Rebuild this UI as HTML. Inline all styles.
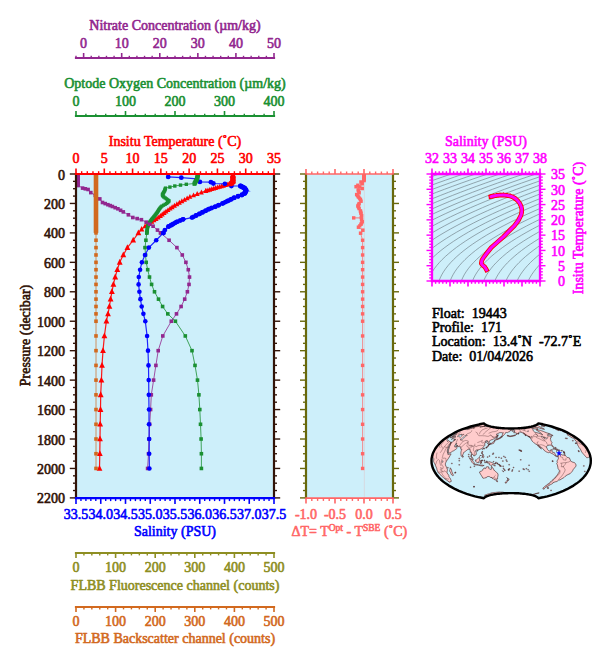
<!DOCTYPE html>
<html><head><meta charset="utf-8"><title>Float 19443 Profile 171</title>
<style>html,body{margin:0;padding:0;background:#fff;}svg{display:block;}text{font-family:"Liberation Serif",serif;stroke-width:0.6px;stroke-linejoin:round;}</style>
</head><body>
<svg width="609" height="663" viewBox="0 0 609 663" font-family="Liberation Serif, serif" font-size="14">
<rect width="609" height="663" fill="#ffffff"/>
<rect x="76.0" y="174.0" width="198.0" height="323.9" fill="#cdeffa"/>
<clipPath id="cm"><rect x="76.0" y="174.0" width="198.0" height="323.9"/></clipPath>
<g clip-path="url(#cm)">
<polyline points="232.90,174.00 232.90,181.00 231.60,183.00 229.30,184.10 222.40,186.00 214.20,188.40 206.00,190.90 197.80,193.70 189.60,197.00 181.30,201.60 173.10,206.50 166.60,211.10 160.00,216.30 156.70,218.50 152.00,221.80 147.70,224.60 144.70,226.50 141.60,229.30 138.40,232.80 138.40,232.89 133.20,240.25 127.40,247.61 123.30,254.97 119.70,262.34 117.30,269.70 115.20,277.06 113.40,284.42 111.90,291.78 110.60,299.14 109.40,306.50 108.00,313.87 106.40,321.23 104.40,335.95 103.00,350.67 102.00,365.40 101.40,380.12 100.70,394.84 100.50,409.56 100.20,424.29 100.00,439.01 99.80,453.73 99.50,468.45" fill="none" stroke="#ff0000" stroke-width="1.2" stroke-opacity="0.9" stroke-linejoin="round"/>
<path d="M226.90,186.02 L231.70,186.02 L229.30,181.22 Z" fill="#ff0000"/>
<path d="M224.95,186.56 L229.75,186.56 L227.35,181.76 Z" fill="#ff0000"/>
<path d="M223.00,187.09 L227.80,187.09 L225.40,182.29 Z" fill="#ff0000"/>
<path d="M221.05,187.63 L225.85,187.63 L223.45,182.83 Z" fill="#ff0000"/>
<path d="M219.10,188.18 L223.90,188.18 L221.50,183.38 Z" fill="#ff0000"/>
<path d="M217.16,188.75 L221.96,188.75 L219.56,183.95 Z" fill="#ff0000"/>
<path d="M215.22,189.32 L220.02,189.32 L217.62,184.52 Z" fill="#ff0000"/>
<path d="M213.28,189.89 L218.08,189.89 L215.68,185.09 Z" fill="#ff0000"/>
<path d="M211.34,190.46 L216.14,190.46 L213.74,185.66 Z" fill="#ff0000"/>
<path d="M209.40,191.05 L214.20,191.05 L211.80,186.25 Z" fill="#ff0000"/>
<path d="M207.47,191.64 L212.27,191.64 L209.87,186.84 Z" fill="#ff0000"/>
<path d="M205.53,192.23 L210.33,192.23 L207.93,187.43 Z" fill="#ff0000"/>
<path d="M203.60,192.82 L208.40,192.82 L206.00,188.02 Z" fill="#ff0000"/>
<path d="M203.26,192.96 L208.16,192.96 L205.71,188.06 Z" fill="#ff0000"/>
<path d="M198.95,194.43 L203.85,194.43 L201.40,189.53 Z" fill="#ff0000"/>
<path d="M194.75,195.90 L199.65,195.90 L197.20,191.00 Z" fill="#ff0000"/>
<path d="M191.10,197.37 L196.00,197.37 L193.55,192.47 Z" fill="#ff0000"/>
<path d="M187.45,198.84 L192.35,198.84 L189.90,193.94 Z" fill="#ff0000"/>
<path d="M184.71,200.31 L189.61,200.31 L187.16,195.41 Z" fill="#ff0000"/>
<path d="M182.06,201.78 L186.96,201.78 L184.51,196.88 Z" fill="#ff0000"/>
<path d="M179.41,203.25 L184.31,203.25 L181.86,198.35 Z" fill="#ff0000"/>
<path d="M176.91,204.72 L181.81,204.72 L179.36,199.82 Z" fill="#ff0000"/>
<path d="M174.45,206.19 L179.35,206.19 L176.90,201.29 Z" fill="#ff0000"/>
<path d="M171.99,207.66 L176.89,207.66 L174.44,202.76 Z" fill="#ff0000"/>
<path d="M169.70,209.13 L174.60,209.13 L172.15,204.23 Z" fill="#ff0000"/>
<path d="M167.63,210.60 L172.53,210.60 L170.08,205.70 Z" fill="#ff0000"/>
<path d="M165.55,212.07 L170.45,212.07 L168.00,207.17 Z" fill="#ff0000"/>
<path d="M163.54,213.54 L168.44,213.54 L165.99,208.64 Z" fill="#ff0000"/>
<path d="M161.68,215.01 L166.58,215.01 L164.13,210.11 Z" fill="#ff0000"/>
<path d="M159.81,216.48 L164.71,216.48 L162.26,211.58 Z" fill="#ff0000"/>
<path d="M157.94,217.95 L162.84,217.95 L160.39,213.05 Z" fill="#ff0000"/>
<path d="M155.81,219.42 L160.71,219.42 L158.26,214.52 Z" fill="#ff0000"/>
<path d="M153.64,220.89 L158.54,220.89 L156.09,215.99 Z" fill="#ff0000"/>
<path d="M151.54,222.36 L156.44,222.36 L153.99,217.46 Z" fill="#ff0000"/>
<path d="M149.44,223.83 L154.34,223.83 L151.89,218.93 Z" fill="#ff0000"/>
<path d="M147.19,225.30 L152.09,225.30 L149.64,220.40 Z" fill="#ff0000"/>
<path d="M144.92,226.77 L149.82,226.77 L147.37,221.87 Z" fill="#ff0000"/>
<path d="M142.60,228.24 L147.50,228.24 L145.05,223.34 Z" fill="#ff0000"/>
<path d="M138.90,231.46 L144.30,231.46 L141.60,226.06 Z" fill="#ff0000"/>
<path d="M135.50,235.21 L141.30,235.21 L138.40,229.41 Z" fill="#ff0000"/>
<path d="M130.30,242.57 L136.10,242.57 L133.20,236.77 Z" fill="#ff0000"/>
<path d="M124.50,249.93 L130.30,249.93 L127.40,244.13 Z" fill="#ff0000"/>
<path d="M120.40,257.30 L126.20,257.30 L123.30,251.50 Z" fill="#ff0000"/>
<path d="M116.80,264.66 L122.60,264.66 L119.70,258.86 Z" fill="#ff0000"/>
<path d="M114.40,272.02 L120.20,272.02 L117.30,266.22 Z" fill="#ff0000"/>
<path d="M112.30,279.38 L118.10,279.38 L115.20,273.58 Z" fill="#ff0000"/>
<path d="M110.50,286.74 L116.30,286.74 L113.40,280.94 Z" fill="#ff0000"/>
<path d="M109.00,294.10 L114.80,294.10 L111.90,288.30 Z" fill="#ff0000"/>
<path d="M107.70,301.46 L113.50,301.46 L110.60,295.66 Z" fill="#ff0000"/>
<path d="M106.50,308.82 L112.30,308.82 L109.40,303.02 Z" fill="#ff0000"/>
<path d="M105.10,316.19 L110.90,316.19 L108.00,310.39 Z" fill="#ff0000"/>
<path d="M103.50,323.55 L109.30,323.55 L106.40,317.75 Z" fill="#ff0000"/>
<path d="M101.50,338.27 L107.30,338.27 L104.40,332.47 Z" fill="#ff0000"/>
<path d="M100.10,352.99 L105.90,352.99 L103.00,347.19 Z" fill="#ff0000"/>
<path d="M99.10,367.72 L104.90,367.72 L102.00,361.92 Z" fill="#ff0000"/>
<path d="M98.50,382.44 L104.30,382.44 L101.40,376.64 Z" fill="#ff0000"/>
<path d="M97.80,397.16 L103.60,397.16 L100.70,391.36 Z" fill="#ff0000"/>
<path d="M97.60,411.88 L103.40,411.88 L100.50,406.08 Z" fill="#ff0000"/>
<path d="M97.30,426.61 L103.10,426.61 L100.20,420.81 Z" fill="#ff0000"/>
<path d="M97.10,441.33 L102.90,441.33 L100.00,435.53 Z" fill="#ff0000"/>
<path d="M96.90,456.05 L102.70,456.05 L99.80,450.25 Z" fill="#ff0000"/>
<path d="M96.60,470.77 L102.40,470.77 L99.50,464.97 Z" fill="#ff0000"/>
<polyline points="198.10,174.00 196.90,179.40 194.50,183.50 186.30,184.30 180.50,185.10 174.80,186.00 169.90,187.10 165.50,188.10 164.50,191.00 162.20,194.80 163.50,196.80 166.10,198.60 169.30,201.00 166.30,203.70 161.40,206.40 159.40,208.90 157.50,212.00 154.90,215.50 152.00,219.00 149.50,222.40 147.60,227.00 146.80,232.80 146.80,232.89 145.90,240.25 145.00,247.61 145.50,254.97 146.20,262.34 147.70,269.70 149.50,277.06 151.60,284.42 154.50,291.78 158.50,299.14 162.60,306.50 167.80,313.87 175.40,321.23 185.30,335.95 192.00,350.67 195.00,365.40 197.50,380.12 198.90,394.84 199.80,409.56 200.50,424.29 201.10,439.01 201.40,453.73 201.40,468.45" fill="none" stroke="#1a9032" stroke-width="1.0" stroke-opacity="0.8" stroke-linejoin="round"/>
<rect x="184.60" y="182.60" width="3.4" height="3.4" fill="#1a9032"/>
<rect x="178.80" y="183.40" width="3.4" height="3.4" fill="#1a9032"/>
<rect x="173.10" y="184.30" width="3.4" height="3.4" fill="#1a9032"/>
<rect x="168.20" y="185.40" width="3.4" height="3.4" fill="#1a9032"/>
<rect x="163.85" y="186.45" width="3.3" height="3.3" fill="#1a9032"/>
<rect x="163.54" y="187.35" width="3.3" height="3.3" fill="#1a9032"/>
<rect x="163.23" y="188.25" width="3.3" height="3.3" fill="#1a9032"/>
<rect x="162.92" y="189.15" width="3.3" height="3.3" fill="#1a9032"/>
<rect x="162.43" y="190.05" width="3.3" height="3.3" fill="#1a9032"/>
<rect x="161.88" y="190.95" width="3.3" height="3.3" fill="#1a9032"/>
<rect x="161.34" y="191.85" width="3.3" height="3.3" fill="#1a9032"/>
<rect x="160.79" y="192.75" width="3.3" height="3.3" fill="#1a9032"/>
<rect x="160.88" y="193.65" width="3.3" height="3.3" fill="#1a9032"/>
<rect x="161.46" y="194.55" width="3.3" height="3.3" fill="#1a9032"/>
<rect x="162.28" y="195.45" width="3.3" height="3.3" fill="#1a9032"/>
<rect x="163.58" y="196.35" width="3.3" height="3.3" fill="#1a9032"/>
<rect x="164.85" y="197.25" width="3.3" height="3.3" fill="#1a9032"/>
<rect x="166.05" y="198.15" width="3.3" height="3.3" fill="#1a9032"/>
<rect x="167.25" y="199.05" width="3.3" height="3.3" fill="#1a9032"/>
<rect x="166.98" y="199.95" width="3.3" height="3.3" fill="#1a9032"/>
<rect x="165.98" y="200.85" width="3.3" height="3.3" fill="#1a9032"/>
<rect x="164.98" y="201.75" width="3.3" height="3.3" fill="#1a9032"/>
<rect x="163.56" y="202.65" width="3.3" height="3.3" fill="#1a9032"/>
<rect x="161.93" y="203.55" width="3.3" height="3.3" fill="#1a9032"/>
<rect x="160.29" y="204.45" width="3.3" height="3.3" fill="#1a9032"/>
<rect x="159.27" y="205.35" width="3.3" height="3.3" fill="#1a9032"/>
<rect x="158.55" y="206.25" width="3.3" height="3.3" fill="#1a9032"/>
<rect x="157.83" y="207.15" width="3.3" height="3.3" fill="#1a9032"/>
<rect x="157.26" y="208.05" width="3.3" height="3.3" fill="#1a9032"/>
<rect x="156.71" y="208.95" width="3.3" height="3.3" fill="#1a9032"/>
<rect x="156.16" y="209.85" width="3.3" height="3.3" fill="#1a9032"/>
<rect x="155.55" y="210.75" width="3.3" height="3.3" fill="#1a9032"/>
<rect x="154.88" y="211.65" width="3.3" height="3.3" fill="#1a9032"/>
<rect x="154.22" y="212.55" width="3.3" height="3.3" fill="#1a9032"/>
<rect x="153.55" y="213.45" width="3.3" height="3.3" fill="#1a9032"/>
<rect x="152.84" y="214.35" width="3.3" height="3.3" fill="#1a9032"/>
<rect x="152.09" y="215.25" width="3.3" height="3.3" fill="#1a9032"/>
<rect x="151.34" y="216.15" width="3.3" height="3.3" fill="#1a9032"/>
<rect x="150.60" y="217.05" width="3.3" height="3.3" fill="#1a9032"/>
<rect x="149.91" y="217.95" width="3.3" height="3.3" fill="#1a9032"/>
<rect x="149.25" y="218.85" width="3.3" height="3.3" fill="#1a9032"/>
<rect x="148.59" y="219.75" width="3.3" height="3.3" fill="#1a9032"/>
<rect x="147.92" y="220.65" width="3.3" height="3.3" fill="#1a9032"/>
<rect x="147.52" y="221.55" width="3.3" height="3.3" fill="#1a9032"/>
<rect x="147.15" y="222.45" width="3.3" height="3.3" fill="#1a9032"/>
<rect x="146.78" y="223.35" width="3.3" height="3.3" fill="#1a9032"/>
<rect x="146.40" y="224.25" width="3.3" height="3.3" fill="#1a9032"/>
<rect x="146.03" y="225.15" width="3.3" height="3.3" fill="#1a9032"/>
<rect x="145.85" y="226.05" width="3.3" height="3.3" fill="#1a9032"/>
<rect x="145.73" y="226.95" width="3.3" height="3.3" fill="#1a9032"/>
<rect x="145.61" y="227.85" width="3.3" height="3.3" fill="#1a9032"/>
<rect x="145.48" y="228.75" width="3.3" height="3.3" fill="#1a9032"/>
<rect x="145.36" y="229.65" width="3.3" height="3.3" fill="#1a9032"/>
<rect x="145.23" y="230.55" width="3.3" height="3.3" fill="#1a9032"/>
<rect x="145.15" y="231.45" width="3.3" height="3.3" fill="#1a9032"/>
<rect x="145.00" y="231.09" width="3.6" height="3.6" fill="#1a9032"/>
<rect x="144.10" y="238.45" width="3.6" height="3.6" fill="#1a9032"/>
<rect x="143.20" y="245.81" width="3.6" height="3.6" fill="#1a9032"/>
<rect x="143.70" y="253.17" width="3.6" height="3.6" fill="#1a9032"/>
<rect x="144.40" y="260.54" width="3.6" height="3.6" fill="#1a9032"/>
<rect x="145.90" y="267.90" width="3.6" height="3.6" fill="#1a9032"/>
<rect x="147.70" y="275.26" width="3.6" height="3.6" fill="#1a9032"/>
<rect x="149.80" y="282.62" width="3.6" height="3.6" fill="#1a9032"/>
<rect x="152.70" y="289.98" width="3.6" height="3.6" fill="#1a9032"/>
<rect x="156.70" y="297.34" width="3.6" height="3.6" fill="#1a9032"/>
<rect x="160.80" y="304.70" width="3.6" height="3.6" fill="#1a9032"/>
<rect x="166.00" y="312.07" width="3.6" height="3.6" fill="#1a9032"/>
<rect x="173.60" y="319.43" width="3.6" height="3.6" fill="#1a9032"/>
<rect x="183.50" y="334.15" width="3.6" height="3.6" fill="#1a9032"/>
<rect x="190.20" y="348.87" width="3.6" height="3.6" fill="#1a9032"/>
<rect x="193.20" y="363.60" width="3.6" height="3.6" fill="#1a9032"/>
<rect x="195.70" y="378.32" width="3.6" height="3.6" fill="#1a9032"/>
<rect x="197.10" y="393.04" width="3.6" height="3.6" fill="#1a9032"/>
<rect x="198.00" y="407.76" width="3.6" height="3.6" fill="#1a9032"/>
<rect x="198.70" y="422.49" width="3.6" height="3.6" fill="#1a9032"/>
<rect x="199.30" y="437.21" width="3.6" height="3.6" fill="#1a9032"/>
<rect x="199.60" y="451.93" width="3.6" height="3.6" fill="#1a9032"/>
<rect x="199.60" y="466.65" width="3.6" height="3.6" fill="#1a9032"/>
<polyline points="78.10,174.00 78.10,185.40 82.60,188.10 88.10,189.50 90.80,192.60 95.30,195.30 99.80,198.90 102.50,202.50 107.90,204.70 112.40,206.50 117.90,208.80 123.30,211.90 128.40,214.80 132.80,217.50 141.40,219.70 146.20,222.20 149.60,224.20 153.10,226.20 157.50,230.10 160.60,232.80 160.60,232.89 169.10,240.25 176.90,247.61 182.30,254.97 185.90,262.34 188.30,269.70 189.50,277.06 189.00,284.42 187.40,291.78 184.70,299.14 181.10,306.50 176.50,313.87 171.30,321.23 162.80,335.95 158.20,350.67 155.90,365.40 153.60,380.12 151.30,394.84 150.60,409.56 149.70,424.29 149.00,439.01 148.50,453.73 147.60,468.45" fill="none" stroke="#92278f" stroke-width="1.0" stroke-opacity="0.8" stroke-linejoin="round"/>
<rect x="76.40" y="172.80" width="3.4" height="3.4" fill="#92278f"/>
<rect x="76.40" y="173.80" width="3.4" height="3.4" fill="#92278f"/>
<rect x="76.40" y="174.80" width="3.4" height="3.4" fill="#92278f"/>
<rect x="76.40" y="175.80" width="3.4" height="3.4" fill="#92278f"/>
<rect x="76.40" y="176.80" width="3.4" height="3.4" fill="#92278f"/>
<rect x="76.40" y="177.80" width="3.4" height="3.4" fill="#92278f"/>
<rect x="76.40" y="178.80" width="3.4" height="3.4" fill="#92278f"/>
<rect x="76.40" y="179.80" width="3.4" height="3.4" fill="#92278f"/>
<rect x="76.40" y="180.80" width="3.4" height="3.4" fill="#92278f"/>
<rect x="76.40" y="181.80" width="3.4" height="3.4" fill="#92278f"/>
<rect x="76.40" y="182.80" width="3.4" height="3.4" fill="#92278f"/>
<rect x="76.40" y="183.80" width="3.4" height="3.4" fill="#92278f"/>
<rect x="76.30" y="183.60" width="3.6" height="3.6" fill="#92278f"/>
<rect x="80.80" y="186.30" width="3.6" height="3.6" fill="#92278f"/>
<rect x="86.30" y="187.70" width="3.6" height="3.6" fill="#92278f"/>
<rect x="89.00" y="190.80" width="3.6" height="3.6" fill="#92278f"/>
<rect x="93.50" y="193.50" width="3.6" height="3.6" fill="#92278f"/>
<rect x="98.00" y="197.10" width="3.6" height="3.6" fill="#92278f"/>
<rect x="100.70" y="200.70" width="3.6" height="3.6" fill="#92278f"/>
<rect x="106.10" y="202.90" width="3.6" height="3.6" fill="#92278f"/>
<rect x="110.60" y="204.70" width="3.6" height="3.6" fill="#92278f"/>
<rect x="116.10" y="207.00" width="3.6" height="3.6" fill="#92278f"/>
<rect x="121.50" y="210.10" width="3.6" height="3.6" fill="#92278f"/>
<rect x="126.60" y="213.00" width="3.6" height="3.6" fill="#92278f"/>
<rect x="131.00" y="215.70" width="3.6" height="3.6" fill="#92278f"/>
<rect x="139.60" y="217.90" width="3.6" height="3.6" fill="#92278f"/>
<rect x="144.40" y="220.40" width="3.6" height="3.6" fill="#92278f"/>
<rect x="147.80" y="222.40" width="3.6" height="3.6" fill="#92278f"/>
<rect x="151.30" y="224.40" width="3.6" height="3.6" fill="#92278f"/>
<rect x="155.70" y="228.30" width="3.6" height="3.6" fill="#92278f"/>
<rect x="158.80" y="231.00" width="3.6" height="3.6" fill="#92278f"/>
<rect x="135.40" y="216.80" width="3.6" height="3.6" fill="#92278f"/>
<rect x="83.50" y="187.00" width="3.6" height="3.6" fill="#92278f"/>
<rect x="118.80" y="208.50" width="3.6" height="3.6" fill="#92278f"/>
<rect x="113.40" y="205.90" width="3.6" height="3.6" fill="#92278f"/>
<rect x="108.40" y="203.80" width="3.6" height="3.6" fill="#92278f"/>
<rect x="103.40" y="201.80" width="3.6" height="3.6" fill="#92278f"/>
<rect x="158.80" y="231.09" width="3.6" height="3.6" fill="#92278f"/>
<rect x="167.30" y="238.45" width="3.6" height="3.6" fill="#92278f"/>
<rect x="175.10" y="245.81" width="3.6" height="3.6" fill="#92278f"/>
<rect x="180.50" y="253.17" width="3.6" height="3.6" fill="#92278f"/>
<rect x="184.10" y="260.54" width="3.6" height="3.6" fill="#92278f"/>
<rect x="186.50" y="267.90" width="3.6" height="3.6" fill="#92278f"/>
<rect x="187.70" y="275.26" width="3.6" height="3.6" fill="#92278f"/>
<rect x="187.20" y="282.62" width="3.6" height="3.6" fill="#92278f"/>
<rect x="185.60" y="289.98" width="3.6" height="3.6" fill="#92278f"/>
<rect x="182.90" y="297.34" width="3.6" height="3.6" fill="#92278f"/>
<rect x="179.30" y="304.70" width="3.6" height="3.6" fill="#92278f"/>
<rect x="174.70" y="312.07" width="3.6" height="3.6" fill="#92278f"/>
<rect x="169.50" y="319.43" width="3.6" height="3.6" fill="#92278f"/>
<rect x="161.00" y="334.15" width="3.6" height="3.6" fill="#92278f"/>
<rect x="156.40" y="348.87" width="3.6" height="3.6" fill="#92278f"/>
<rect x="154.10" y="363.60" width="3.6" height="3.6" fill="#92278f"/>
<rect x="151.80" y="378.32" width="3.6" height="3.6" fill="#92278f"/>
<rect x="149.50" y="393.04" width="3.6" height="3.6" fill="#92278f"/>
<rect x="148.80" y="407.76" width="3.6" height="3.6" fill="#92278f"/>
<rect x="147.90" y="422.49" width="3.6" height="3.6" fill="#92278f"/>
<rect x="147.20" y="437.21" width="3.6" height="3.6" fill="#92278f"/>
<rect x="146.70" y="451.93" width="3.6" height="3.6" fill="#92278f"/>
<rect x="145.80" y="466.65" width="3.6" height="3.6" fill="#92278f"/>
<polyline points="96.00,174.00 96.00,468.45" fill="none" stroke="#d2691e" stroke-width="1.0" stroke-opacity="0.7" stroke-linejoin="round"/>
<rect x="93.7" y="174.0" width="4.6" height="58.89" fill="#d2691e"/>
<rect x="94.20" y="231.09" width="3.6" height="3.6" fill="#d2691e"/>
<rect x="94.20" y="238.45" width="3.6" height="3.6" fill="#d2691e"/>
<rect x="94.20" y="245.81" width="3.6" height="3.6" fill="#d2691e"/>
<rect x="94.20" y="253.17" width="3.6" height="3.6" fill="#d2691e"/>
<rect x="94.20" y="260.54" width="3.6" height="3.6" fill="#d2691e"/>
<rect x="94.20" y="267.90" width="3.6" height="3.6" fill="#d2691e"/>
<rect x="94.20" y="275.26" width="3.6" height="3.6" fill="#d2691e"/>
<rect x="94.20" y="282.62" width="3.6" height="3.6" fill="#d2691e"/>
<rect x="94.20" y="289.98" width="3.6" height="3.6" fill="#d2691e"/>
<rect x="94.20" y="297.34" width="3.6" height="3.6" fill="#d2691e"/>
<rect x="94.20" y="304.70" width="3.6" height="3.6" fill="#d2691e"/>
<rect x="94.20" y="312.07" width="3.6" height="3.6" fill="#d2691e"/>
<rect x="94.20" y="319.43" width="3.6" height="3.6" fill="#d2691e"/>
<rect x="94.20" y="334.15" width="3.6" height="3.6" fill="#d2691e"/>
<rect x="94.20" y="348.87" width="3.6" height="3.6" fill="#d2691e"/>
<rect x="94.20" y="363.60" width="3.6" height="3.6" fill="#d2691e"/>
<rect x="94.20" y="378.32" width="3.6" height="3.6" fill="#d2691e"/>
<rect x="94.20" y="393.04" width="3.6" height="3.6" fill="#d2691e"/>
<rect x="94.20" y="407.76" width="3.6" height="3.6" fill="#d2691e"/>
<rect x="94.20" y="422.49" width="3.6" height="3.6" fill="#d2691e"/>
<rect x="94.20" y="437.21" width="3.6" height="3.6" fill="#d2691e"/>
<rect x="94.20" y="451.93" width="3.6" height="3.6" fill="#d2691e"/>
<rect x="94.20" y="466.65" width="3.6" height="3.6" fill="#d2691e"/>
<polyline points="168.20,176.90 181.30,177.70 197.00,178.90 199.90,181.90 210.90,182.20 213.40,183.50 224.90,183.80 231.40,186.00 240.50,186.00 244.60,188.10 246.20,190.40 244.60,193.30 241.80,195.00 238.00,196.30 233.90,197.90 230.60,199.60 227.30,201.20 223.20,203.20 218.30,205.30 215.00,206.80 209.30,208.90 206.00,210.60 202.70,212.20 199.40,213.90 196.10,215.50 192.00,217.60 183.10,219.30 176.40,222.10 171.50,225.00 168.30,226.70 164.90,230.10 163.40,233.00 163.40,232.89 156.20,240.25 148.90,247.61 145.00,254.97 141.90,262.34 140.10,269.70 138.80,277.06 138.60,284.42 139.40,291.78 140.40,299.14 141.70,306.50 143.40,313.87 145.30,321.23 147.10,335.95 148.00,350.67 148.50,365.40 148.70,380.12 148.80,394.84 149.00,409.56 149.00,424.29 149.20,439.01 149.20,453.73 149.40,468.45" fill="none" stroke="#0000ff" stroke-width="1.2" stroke-opacity="0.85" stroke-linejoin="round"/>
<polyline points="246.20,190.40 250.30,191.40" fill="none" stroke="#0000ff" stroke-width="0.8" stroke-opacity="0.6" stroke-linejoin="round"/>
<circle cx="168.20" cy="176.90" r="2.4" fill="#0000ff"/>
<circle cx="181.30" cy="177.70" r="2.4" fill="#0000ff"/>
<circle cx="197.00" cy="178.90" r="2.4" fill="#0000ff"/>
<circle cx="199.90" cy="181.90" r="2.4" fill="#0000ff"/>
<circle cx="210.90" cy="182.20" r="2.4" fill="#0000ff"/>
<circle cx="213.40" cy="183.50" r="2.4" fill="#0000ff"/>
<circle cx="224.90" cy="183.80" r="2.4" fill="#0000ff"/>
<circle cx="231.40" cy="186.00" r="2.4" fill="#0000ff"/>
<circle cx="240.50" cy="186.00" r="2.4" fill="#0000ff"/>
<circle cx="244.60" cy="188.10" r="2.4" fill="#0000ff"/>
<circle cx="246.20" cy="190.40" r="2.4" fill="#0000ff"/>
<circle cx="244.60" cy="193.30" r="2.4" fill="#0000ff"/>
<circle cx="241.80" cy="195.00" r="2.4" fill="#0000ff"/>
<circle cx="238.00" cy="196.30" r="2.4" fill="#0000ff"/>
<circle cx="233.90" cy="197.90" r="2.4" fill="#0000ff"/>
<circle cx="230.60" cy="199.60" r="2.4" fill="#0000ff"/>
<circle cx="227.30" cy="201.20" r="2.4" fill="#0000ff"/>
<circle cx="223.20" cy="203.20" r="2.4" fill="#0000ff"/>
<circle cx="218.30" cy="205.30" r="2.4" fill="#0000ff"/>
<circle cx="215.00" cy="206.80" r="2.4" fill="#0000ff"/>
<circle cx="209.30" cy="208.90" r="2.4" fill="#0000ff"/>
<circle cx="206.00" cy="210.60" r="2.4" fill="#0000ff"/>
<circle cx="202.70" cy="212.20" r="2.4" fill="#0000ff"/>
<circle cx="199.40" cy="213.90" r="2.4" fill="#0000ff"/>
<circle cx="196.10" cy="215.50" r="2.4" fill="#0000ff"/>
<circle cx="192.00" cy="217.60" r="2.4" fill="#0000ff"/>
<circle cx="183.10" cy="219.30" r="2.4" fill="#0000ff"/>
<circle cx="176.40" cy="222.10" r="2.4" fill="#0000ff"/>
<circle cx="171.50" cy="225.00" r="2.4" fill="#0000ff"/>
<circle cx="168.30" cy="226.70" r="2.4" fill="#0000ff"/>
<circle cx="164.90" cy="230.10" r="2.4" fill="#0000ff"/>
<circle cx="163.40" cy="233.00" r="2.4" fill="#0000ff"/>
<circle cx="240.50" cy="186.00" r="2.5" fill="#0000ff"/>
<circle cx="241.69" cy="186.61" r="2.5" fill="#0000ff"/>
<circle cx="242.89" cy="187.22" r="2.5" fill="#0000ff"/>
<circle cx="244.08" cy="187.83" r="2.5" fill="#0000ff"/>
<circle cx="245.03" cy="188.72" r="2.5" fill="#0000ff"/>
<circle cx="245.80" cy="189.82" r="2.5" fill="#0000ff"/>
<circle cx="245.89" cy="190.95" r="2.5" fill="#0000ff"/>
<circle cx="245.25" cy="192.13" r="2.5" fill="#0000ff"/>
<circle cx="244.60" cy="193.30" r="2.5" fill="#0000ff"/>
<circle cx="244.60" cy="193.30" r="2.4" fill="#0000ff"/>
<circle cx="242.18" cy="194.77" r="2.4" fill="#0000ff"/>
<circle cx="238.18" cy="196.24" r="2.4" fill="#0000ff"/>
<circle cx="234.39" cy="197.71" r="2.4" fill="#0000ff"/>
<circle cx="231.42" cy="199.18" r="2.4" fill="#0000ff"/>
<circle cx="228.43" cy="200.65" r="2.4" fill="#0000ff"/>
<circle cx="225.41" cy="202.12" r="2.4" fill="#0000ff"/>
<circle cx="222.29" cy="203.59" r="2.4" fill="#0000ff"/>
<circle cx="218.86" cy="205.06" r="2.4" fill="#0000ff"/>
<circle cx="215.59" cy="206.53" r="2.4" fill="#0000ff"/>
<circle cx="211.74" cy="208.00" r="2.4" fill="#0000ff"/>
<circle cx="208.19" cy="209.47" r="2.4" fill="#0000ff"/>
<circle cx="205.30" cy="210.94" r="2.4" fill="#0000ff"/>
<circle cx="202.29" cy="212.41" r="2.4" fill="#0000ff"/>
<circle cx="199.44" cy="213.88" r="2.4" fill="#0000ff"/>
<circle cx="196.41" cy="215.35" r="2.4" fill="#0000ff"/>
<circle cx="193.52" cy="216.82" r="2.4" fill="#0000ff"/>
<circle cx="183.10" cy="219.30" r="2.4" fill="#0000ff"/>
<circle cx="180.29" cy="220.48" r="2.4" fill="#0000ff"/>
<circle cx="177.47" cy="221.65" r="2.4" fill="#0000ff"/>
<circle cx="175.17" cy="222.83" r="2.4" fill="#0000ff"/>
<circle cx="173.18" cy="224.00" r="2.4" fill="#0000ff"/>
<circle cx="171.16" cy="225.18" r="2.4" fill="#0000ff"/>
<circle cx="168.95" cy="226.36" r="2.4" fill="#0000ff"/>
<circle cx="163.40" cy="232.89" r="2.3" fill="#0000ff"/>
<circle cx="156.20" cy="240.25" r="2.3" fill="#0000ff"/>
<circle cx="148.90" cy="247.61" r="2.3" fill="#0000ff"/>
<circle cx="145.00" cy="254.97" r="2.3" fill="#0000ff"/>
<circle cx="141.90" cy="262.34" r="2.3" fill="#0000ff"/>
<circle cx="140.10" cy="269.70" r="2.3" fill="#0000ff"/>
<circle cx="138.80" cy="277.06" r="2.3" fill="#0000ff"/>
<circle cx="138.60" cy="284.42" r="2.3" fill="#0000ff"/>
<circle cx="139.40" cy="291.78" r="2.3" fill="#0000ff"/>
<circle cx="140.40" cy="299.14" r="2.3" fill="#0000ff"/>
<circle cx="141.70" cy="306.50" r="2.3" fill="#0000ff"/>
<circle cx="143.40" cy="313.87" r="2.3" fill="#0000ff"/>
<circle cx="145.30" cy="321.23" r="2.3" fill="#0000ff"/>
<circle cx="147.10" cy="335.95" r="2.3" fill="#0000ff"/>
<circle cx="148.00" cy="350.67" r="2.3" fill="#0000ff"/>
<circle cx="148.50" cy="365.40" r="2.3" fill="#0000ff"/>
<circle cx="148.70" cy="380.12" r="2.3" fill="#0000ff"/>
<circle cx="148.80" cy="394.84" r="2.3" fill="#0000ff"/>
<circle cx="149.00" cy="409.56" r="2.3" fill="#0000ff"/>
<circle cx="149.00" cy="424.29" r="2.3" fill="#0000ff"/>
<circle cx="149.20" cy="439.01" r="2.3" fill="#0000ff"/>
<circle cx="149.20" cy="453.73" r="2.3" fill="#0000ff"/>
<circle cx="149.40" cy="468.45" r="2.3" fill="#0000ff"/>
<path d="M230.00,176.82 L235.80,176.82 L232.90,171.02 Z" fill="#ff0000"/>
<path d="M230.00,177.42 L235.80,177.42 L232.90,171.62 Z" fill="#ff0000"/>
<path d="M230.00,178.02 L235.80,178.02 L232.90,172.22 Z" fill="#ff0000"/>
<path d="M230.00,178.62 L235.80,178.62 L232.90,172.82 Z" fill="#ff0000"/>
<path d="M230.00,179.22 L235.80,179.22 L232.90,173.42 Z" fill="#ff0000"/>
<path d="M230.00,179.82 L235.80,179.82 L232.90,174.02 Z" fill="#ff0000"/>
<path d="M230.00,180.42 L235.80,180.42 L232.90,174.62 Z" fill="#ff0000"/>
<path d="M230.00,181.02 L235.80,181.02 L232.90,175.22 Z" fill="#ff0000"/>
<path d="M230.00,181.62 L235.80,181.62 L232.90,175.82 Z" fill="#ff0000"/>
<path d="M230.00,182.22 L235.80,182.22 L232.90,176.42 Z" fill="#ff0000"/>
<path d="M230.00,182.82 L235.80,182.82 L232.90,177.02 Z" fill="#ff0000"/>
<path d="M229.94,183.42 L235.74,183.42 L232.84,177.62 Z" fill="#ff0000"/>
<path d="M230.10,183.24 L235.70,183.24 L232.90,177.64 Z" fill="#ff0000"/>
<path d="M229.65,183.93 L235.25,183.93 L232.45,178.33 Z" fill="#ff0000"/>
<path d="M229.20,184.62 L234.80,184.62 L232.00,179.02 Z" fill="#ff0000"/>
<path d="M228.73,185.28 L234.33,185.28 L231.53,179.68 Z" fill="#ff0000"/>
<path d="M227.98,185.63 L233.58,185.63 L230.78,180.03 Z" fill="#ff0000"/>
<path d="M227.24,185.99 L232.84,185.99 L230.04,180.39 Z" fill="#ff0000"/>
<path d="M226.50,186.34 L232.10,186.34 L229.30,180.74 Z" fill="#ff0000"/>
<rect x="196.08" y="172.35" width="3.9" height="3.9" fill="#1a9032"/>
<rect x="195.91" y="173.15" width="3.9" height="3.9" fill="#1a9032"/>
<rect x="195.73" y="173.95" width="3.9" height="3.9" fill="#1a9032"/>
<rect x="195.55" y="174.75" width="3.9" height="3.9" fill="#1a9032"/>
<rect x="195.37" y="175.55" width="3.9" height="3.9" fill="#1a9032"/>
<rect x="195.19" y="176.35" width="3.9" height="3.9" fill="#1a9032"/>
<rect x="195.02" y="177.15" width="3.9" height="3.9" fill="#1a9032"/>
<rect x="194.66" y="177.95" width="3.9" height="3.9" fill="#1a9032"/>
<rect x="194.19" y="178.75" width="3.9" height="3.9" fill="#1a9032"/>
<rect x="193.72" y="179.55" width="3.9" height="3.9" fill="#1a9032"/>
<rect x="193.25" y="180.35" width="3.9" height="3.9" fill="#1a9032"/>
<rect x="192.78" y="181.15" width="3.9" height="3.9" fill="#1a9032"/>
<rect x="192.55" y="181.95" width="3.9" height="3.9" fill="#1a9032"/>
</g>
<line x1="76.00" y1="172.90" x2="76.00" y2="499.00" stroke="#321408" stroke-width="2.2" />
<line x1="76.00" y1="174.00" x2="69.80" y2="174.00" stroke="#321408" stroke-width="1.4" />
<line x1="76.00" y1="181.36" x2="73.00" y2="181.36" stroke="#321408" stroke-width="1.35" />
<line x1="76.00" y1="188.72" x2="73.00" y2="188.72" stroke="#321408" stroke-width="1.35" />
<line x1="76.00" y1="196.08" x2="73.00" y2="196.08" stroke="#321408" stroke-width="1.35" />
<line x1="76.00" y1="203.45" x2="69.80" y2="203.45" stroke="#321408" stroke-width="1.4" />
<line x1="76.00" y1="210.81" x2="73.00" y2="210.81" stroke="#321408" stroke-width="1.35" />
<line x1="76.00" y1="218.17" x2="73.00" y2="218.17" stroke="#321408" stroke-width="1.35" />
<line x1="76.00" y1="225.53" x2="73.00" y2="225.53" stroke="#321408" stroke-width="1.35" />
<line x1="76.00" y1="232.89" x2="69.80" y2="232.89" stroke="#321408" stroke-width="1.4" />
<line x1="76.00" y1="240.25" x2="73.00" y2="240.25" stroke="#321408" stroke-width="1.35" />
<line x1="76.00" y1="247.61" x2="73.00" y2="247.61" stroke="#321408" stroke-width="1.35" />
<line x1="76.00" y1="254.97" x2="73.00" y2="254.97" stroke="#321408" stroke-width="1.35" />
<line x1="76.00" y1="262.34" x2="69.80" y2="262.34" stroke="#321408" stroke-width="1.4" />
<line x1="76.00" y1="269.70" x2="73.00" y2="269.70" stroke="#321408" stroke-width="1.35" />
<line x1="76.00" y1="277.06" x2="73.00" y2="277.06" stroke="#321408" stroke-width="1.35" />
<line x1="76.00" y1="284.42" x2="73.00" y2="284.42" stroke="#321408" stroke-width="1.35" />
<line x1="76.00" y1="291.78" x2="69.80" y2="291.78" stroke="#321408" stroke-width="1.4" />
<line x1="76.00" y1="299.14" x2="73.00" y2="299.14" stroke="#321408" stroke-width="1.35" />
<line x1="76.00" y1="306.50" x2="73.00" y2="306.50" stroke="#321408" stroke-width="1.35" />
<line x1="76.00" y1="313.87" x2="73.00" y2="313.87" stroke="#321408" stroke-width="1.35" />
<line x1="76.00" y1="321.23" x2="69.80" y2="321.23" stroke="#321408" stroke-width="1.4" />
<line x1="76.00" y1="328.59" x2="73.00" y2="328.59" stroke="#321408" stroke-width="1.35" />
<line x1="76.00" y1="335.95" x2="73.00" y2="335.95" stroke="#321408" stroke-width="1.35" />
<line x1="76.00" y1="343.31" x2="73.00" y2="343.31" stroke="#321408" stroke-width="1.35" />
<line x1="76.00" y1="350.67" x2="69.80" y2="350.67" stroke="#321408" stroke-width="1.4" />
<line x1="76.00" y1="358.03" x2="73.00" y2="358.03" stroke="#321408" stroke-width="1.35" />
<line x1="76.00" y1="365.40" x2="73.00" y2="365.40" stroke="#321408" stroke-width="1.35" />
<line x1="76.00" y1="372.76" x2="73.00" y2="372.76" stroke="#321408" stroke-width="1.35" />
<line x1="76.00" y1="380.12" x2="69.80" y2="380.12" stroke="#321408" stroke-width="1.4" />
<line x1="76.00" y1="387.48" x2="73.00" y2="387.48" stroke="#321408" stroke-width="1.35" />
<line x1="76.00" y1="394.84" x2="73.00" y2="394.84" stroke="#321408" stroke-width="1.35" />
<line x1="76.00" y1="402.20" x2="73.00" y2="402.20" stroke="#321408" stroke-width="1.35" />
<line x1="76.00" y1="409.56" x2="69.80" y2="409.56" stroke="#321408" stroke-width="1.4" />
<line x1="76.00" y1="416.92" x2="73.00" y2="416.92" stroke="#321408" stroke-width="1.35" />
<line x1="76.00" y1="424.29" x2="73.00" y2="424.29" stroke="#321408" stroke-width="1.35" />
<line x1="76.00" y1="431.65" x2="73.00" y2="431.65" stroke="#321408" stroke-width="1.35" />
<line x1="76.00" y1="439.01" x2="69.80" y2="439.01" stroke="#321408" stroke-width="1.4" />
<line x1="76.00" y1="446.37" x2="73.00" y2="446.37" stroke="#321408" stroke-width="1.35" />
<line x1="76.00" y1="453.73" x2="73.00" y2="453.73" stroke="#321408" stroke-width="1.35" />
<line x1="76.00" y1="461.09" x2="73.00" y2="461.09" stroke="#321408" stroke-width="1.35" />
<line x1="76.00" y1="468.45" x2="69.80" y2="468.45" stroke="#321408" stroke-width="1.4" />
<line x1="76.00" y1="475.82" x2="73.00" y2="475.82" stroke="#321408" stroke-width="1.35" />
<line x1="76.00" y1="483.18" x2="73.00" y2="483.18" stroke="#321408" stroke-width="1.35" />
<line x1="76.00" y1="490.54" x2="73.00" y2="490.54" stroke="#321408" stroke-width="1.35" />
<line x1="76.00" y1="497.90" x2="69.80" y2="497.90" stroke="#321408" stroke-width="1.4" />
<line x1="274.00" y1="172.90" x2="274.00" y2="499.00" stroke="#321408" stroke-width="2.2" />
<line x1="274.00" y1="174.00" x2="280.20" y2="174.00" stroke="#321408" stroke-width="1.4" />
<line x1="274.00" y1="181.36" x2="277.00" y2="181.36" stroke="#321408" stroke-width="1.35" />
<line x1="274.00" y1="188.72" x2="277.00" y2="188.72" stroke="#321408" stroke-width="1.35" />
<line x1="274.00" y1="196.08" x2="277.00" y2="196.08" stroke="#321408" stroke-width="1.35" />
<line x1="274.00" y1="203.45" x2="280.20" y2="203.45" stroke="#321408" stroke-width="1.4" />
<line x1="274.00" y1="210.81" x2="277.00" y2="210.81" stroke="#321408" stroke-width="1.35" />
<line x1="274.00" y1="218.17" x2="277.00" y2="218.17" stroke="#321408" stroke-width="1.35" />
<line x1="274.00" y1="225.53" x2="277.00" y2="225.53" stroke="#321408" stroke-width="1.35" />
<line x1="274.00" y1="232.89" x2="280.20" y2="232.89" stroke="#321408" stroke-width="1.4" />
<line x1="274.00" y1="240.25" x2="277.00" y2="240.25" stroke="#321408" stroke-width="1.35" />
<line x1="274.00" y1="247.61" x2="277.00" y2="247.61" stroke="#321408" stroke-width="1.35" />
<line x1="274.00" y1="254.97" x2="277.00" y2="254.97" stroke="#321408" stroke-width="1.35" />
<line x1="274.00" y1="262.34" x2="280.20" y2="262.34" stroke="#321408" stroke-width="1.4" />
<line x1="274.00" y1="269.70" x2="277.00" y2="269.70" stroke="#321408" stroke-width="1.35" />
<line x1="274.00" y1="277.06" x2="277.00" y2="277.06" stroke="#321408" stroke-width="1.35" />
<line x1="274.00" y1="284.42" x2="277.00" y2="284.42" stroke="#321408" stroke-width="1.35" />
<line x1="274.00" y1="291.78" x2="280.20" y2="291.78" stroke="#321408" stroke-width="1.4" />
<line x1="274.00" y1="299.14" x2="277.00" y2="299.14" stroke="#321408" stroke-width="1.35" />
<line x1="274.00" y1="306.50" x2="277.00" y2="306.50" stroke="#321408" stroke-width="1.35" />
<line x1="274.00" y1="313.87" x2="277.00" y2="313.87" stroke="#321408" stroke-width="1.35" />
<line x1="274.00" y1="321.23" x2="280.20" y2="321.23" stroke="#321408" stroke-width="1.4" />
<line x1="274.00" y1="328.59" x2="277.00" y2="328.59" stroke="#321408" stroke-width="1.35" />
<line x1="274.00" y1="335.95" x2="277.00" y2="335.95" stroke="#321408" stroke-width="1.35" />
<line x1="274.00" y1="343.31" x2="277.00" y2="343.31" stroke="#321408" stroke-width="1.35" />
<line x1="274.00" y1="350.67" x2="280.20" y2="350.67" stroke="#321408" stroke-width="1.4" />
<line x1="274.00" y1="358.03" x2="277.00" y2="358.03" stroke="#321408" stroke-width="1.35" />
<line x1="274.00" y1="365.40" x2="277.00" y2="365.40" stroke="#321408" stroke-width="1.35" />
<line x1="274.00" y1="372.76" x2="277.00" y2="372.76" stroke="#321408" stroke-width="1.35" />
<line x1="274.00" y1="380.12" x2="280.20" y2="380.12" stroke="#321408" stroke-width="1.4" />
<line x1="274.00" y1="387.48" x2="277.00" y2="387.48" stroke="#321408" stroke-width="1.35" />
<line x1="274.00" y1="394.84" x2="277.00" y2="394.84" stroke="#321408" stroke-width="1.35" />
<line x1="274.00" y1="402.20" x2="277.00" y2="402.20" stroke="#321408" stroke-width="1.35" />
<line x1="274.00" y1="409.56" x2="280.20" y2="409.56" stroke="#321408" stroke-width="1.4" />
<line x1="274.00" y1="416.92" x2="277.00" y2="416.92" stroke="#321408" stroke-width="1.35" />
<line x1="274.00" y1="424.29" x2="277.00" y2="424.29" stroke="#321408" stroke-width="1.35" />
<line x1="274.00" y1="431.65" x2="277.00" y2="431.65" stroke="#321408" stroke-width="1.35" />
<line x1="274.00" y1="439.01" x2="280.20" y2="439.01" stroke="#321408" stroke-width="1.4" />
<line x1="274.00" y1="446.37" x2="277.00" y2="446.37" stroke="#321408" stroke-width="1.35" />
<line x1="274.00" y1="453.73" x2="277.00" y2="453.73" stroke="#321408" stroke-width="1.35" />
<line x1="274.00" y1="461.09" x2="277.00" y2="461.09" stroke="#321408" stroke-width="1.35" />
<line x1="274.00" y1="468.45" x2="280.20" y2="468.45" stroke="#321408" stroke-width="1.4" />
<line x1="274.00" y1="475.82" x2="277.00" y2="475.82" stroke="#321408" stroke-width="1.35" />
<line x1="274.00" y1="483.18" x2="277.00" y2="483.18" stroke="#321408" stroke-width="1.35" />
<line x1="274.00" y1="490.54" x2="277.00" y2="490.54" stroke="#321408" stroke-width="1.35" />
<line x1="274.00" y1="497.90" x2="280.20" y2="497.90" stroke="#321408" stroke-width="1.4" />
<text x="65.00" y="179.50" fill="#321408" stroke="#321408" text-anchor="end" >0</text>
<text x="65.00" y="208.95" fill="#321408" stroke="#321408" text-anchor="end" >200</text>
<text x="65.00" y="238.39" fill="#321408" stroke="#321408" text-anchor="end" >400</text>
<text x="65.00" y="267.84" fill="#321408" stroke="#321408" text-anchor="end" >600</text>
<text x="65.00" y="297.28" fill="#321408" stroke="#321408" text-anchor="end" >800</text>
<text x="65.00" y="326.73" fill="#321408" stroke="#321408" text-anchor="end" >1000</text>
<text x="65.00" y="356.17" fill="#321408" stroke="#321408" text-anchor="end" >1200</text>
<text x="65.00" y="385.62" fill="#321408" stroke="#321408" text-anchor="end" >1400</text>
<text x="65.00" y="415.06" fill="#321408" stroke="#321408" text-anchor="end" >1600</text>
<text x="65.00" y="444.51" fill="#321408" stroke="#321408" text-anchor="end" >1800</text>
<text x="65.00" y="473.95" fill="#321408" stroke="#321408" text-anchor="end" >2000</text>
<text x="65.00" y="503.40" fill="#321408" stroke="#321408" text-anchor="end" >2200</text>
<text transform="translate(29.6,335.5) rotate(-90)" fill="#321408" stroke="#321408" text-anchor="middle">Pressure (decibar)</text>
<line x1="74.90" y1="174.00" x2="275.10" y2="174.00" stroke="#ff0000" stroke-width="2.2" />
<line x1="76.00" y1="174.00" x2="76.00" y2="168.50" stroke="#ff0000" stroke-width="1.6" />
<line x1="81.66" y1="174.00" x2="81.66" y2="171.20" stroke="#ff0000" stroke-width="1.4" />
<line x1="87.31" y1="174.00" x2="87.31" y2="171.20" stroke="#ff0000" stroke-width="1.4" />
<line x1="92.97" y1="174.00" x2="92.97" y2="171.20" stroke="#ff0000" stroke-width="1.4" />
<line x1="98.63" y1="174.00" x2="98.63" y2="171.20" stroke="#ff0000" stroke-width="1.4" />
<line x1="104.29" y1="174.00" x2="104.29" y2="168.50" stroke="#ff0000" stroke-width="1.6" />
<line x1="109.94" y1="174.00" x2="109.94" y2="171.20" stroke="#ff0000" stroke-width="1.4" />
<line x1="115.60" y1="174.00" x2="115.60" y2="171.20" stroke="#ff0000" stroke-width="1.4" />
<line x1="121.26" y1="174.00" x2="121.26" y2="171.20" stroke="#ff0000" stroke-width="1.4" />
<line x1="126.91" y1="174.00" x2="126.91" y2="171.20" stroke="#ff0000" stroke-width="1.4" />
<line x1="132.57" y1="174.00" x2="132.57" y2="168.50" stroke="#ff0000" stroke-width="1.6" />
<line x1="138.23" y1="174.00" x2="138.23" y2="171.20" stroke="#ff0000" stroke-width="1.4" />
<line x1="143.89" y1="174.00" x2="143.89" y2="171.20" stroke="#ff0000" stroke-width="1.4" />
<line x1="149.54" y1="174.00" x2="149.54" y2="171.20" stroke="#ff0000" stroke-width="1.4" />
<line x1="155.20" y1="174.00" x2="155.20" y2="171.20" stroke="#ff0000" stroke-width="1.4" />
<line x1="160.86" y1="174.00" x2="160.86" y2="168.50" stroke="#ff0000" stroke-width="1.6" />
<line x1="166.51" y1="174.00" x2="166.51" y2="171.20" stroke="#ff0000" stroke-width="1.4" />
<line x1="172.17" y1="174.00" x2="172.17" y2="171.20" stroke="#ff0000" stroke-width="1.4" />
<line x1="177.83" y1="174.00" x2="177.83" y2="171.20" stroke="#ff0000" stroke-width="1.4" />
<line x1="183.49" y1="174.00" x2="183.49" y2="171.20" stroke="#ff0000" stroke-width="1.4" />
<line x1="189.14" y1="174.00" x2="189.14" y2="168.50" stroke="#ff0000" stroke-width="1.6" />
<line x1="194.80" y1="174.00" x2="194.80" y2="171.20" stroke="#ff0000" stroke-width="1.4" />
<line x1="200.46" y1="174.00" x2="200.46" y2="171.20" stroke="#ff0000" stroke-width="1.4" />
<line x1="206.11" y1="174.00" x2="206.11" y2="171.20" stroke="#ff0000" stroke-width="1.4" />
<line x1="211.77" y1="174.00" x2="211.77" y2="171.20" stroke="#ff0000" stroke-width="1.4" />
<line x1="217.43" y1="174.00" x2="217.43" y2="168.50" stroke="#ff0000" stroke-width="1.6" />
<line x1="223.09" y1="174.00" x2="223.09" y2="171.20" stroke="#ff0000" stroke-width="1.4" />
<line x1="228.74" y1="174.00" x2="228.74" y2="171.20" stroke="#ff0000" stroke-width="1.4" />
<line x1="234.40" y1="174.00" x2="234.40" y2="171.20" stroke="#ff0000" stroke-width="1.4" />
<line x1="240.06" y1="174.00" x2="240.06" y2="171.20" stroke="#ff0000" stroke-width="1.4" />
<line x1="245.71" y1="174.00" x2="245.71" y2="168.50" stroke="#ff0000" stroke-width="1.6" />
<line x1="251.37" y1="174.00" x2="251.37" y2="171.20" stroke="#ff0000" stroke-width="1.4" />
<line x1="257.03" y1="174.00" x2="257.03" y2="171.20" stroke="#ff0000" stroke-width="1.4" />
<line x1="262.69" y1="174.00" x2="262.69" y2="171.20" stroke="#ff0000" stroke-width="1.4" />
<line x1="268.34" y1="174.00" x2="268.34" y2="171.20" stroke="#ff0000" stroke-width="1.4" />
<line x1="274.00" y1="174.00" x2="274.00" y2="168.50" stroke="#ff0000" stroke-width="1.6" />
<text x="76.00" y="163.40" fill="#ff0000" stroke="#ff0000" text-anchor="middle" >0</text>
<text x="104.29" y="163.40" fill="#ff0000" stroke="#ff0000" text-anchor="middle" >5</text>
<text x="132.57" y="163.40" fill="#ff0000" stroke="#ff0000" text-anchor="middle" >10</text>
<text x="160.86" y="163.40" fill="#ff0000" stroke="#ff0000" text-anchor="middle" >15</text>
<text x="189.14" y="163.40" fill="#ff0000" stroke="#ff0000" text-anchor="middle" >20</text>
<text x="217.43" y="163.40" fill="#ff0000" stroke="#ff0000" text-anchor="middle" >25</text>
<text x="245.71" y="163.40" fill="#ff0000" stroke="#ff0000" text-anchor="middle" >30</text>
<text x="274.00" y="163.40" fill="#ff0000" stroke="#ff0000" text-anchor="middle" >35</text>
<text x="175.00" y="145.70" fill="#ff0000" stroke="#ff0000" text-anchor="middle" >Insitu Temperature (˚C)</text>
<line x1="74.90" y1="498.10" x2="275.10" y2="498.10" stroke="#0000ff" stroke-width="2.2" />
<line x1="76.00" y1="498.10" x2="76.00" y2="503.90" stroke="#0000ff" stroke-width="1.6" />
<line x1="80.95" y1="498.10" x2="80.95" y2="501.10" stroke="#0000ff" stroke-width="1.4" />
<line x1="85.90" y1="498.10" x2="85.90" y2="501.10" stroke="#0000ff" stroke-width="1.4" />
<line x1="90.85" y1="498.10" x2="90.85" y2="501.10" stroke="#0000ff" stroke-width="1.4" />
<line x1="95.80" y1="498.10" x2="95.80" y2="501.10" stroke="#0000ff" stroke-width="1.4" />
<line x1="100.75" y1="498.10" x2="100.75" y2="503.90" stroke="#0000ff" stroke-width="1.6" />
<line x1="105.70" y1="498.10" x2="105.70" y2="501.10" stroke="#0000ff" stroke-width="1.4" />
<line x1="110.65" y1="498.10" x2="110.65" y2="501.10" stroke="#0000ff" stroke-width="1.4" />
<line x1="115.60" y1="498.10" x2="115.60" y2="501.10" stroke="#0000ff" stroke-width="1.4" />
<line x1="120.55" y1="498.10" x2="120.55" y2="501.10" stroke="#0000ff" stroke-width="1.4" />
<line x1="125.50" y1="498.10" x2="125.50" y2="503.90" stroke="#0000ff" stroke-width="1.6" />
<line x1="130.45" y1="498.10" x2="130.45" y2="501.10" stroke="#0000ff" stroke-width="1.4" />
<line x1="135.40" y1="498.10" x2="135.40" y2="501.10" stroke="#0000ff" stroke-width="1.4" />
<line x1="140.35" y1="498.10" x2="140.35" y2="501.10" stroke="#0000ff" stroke-width="1.4" />
<line x1="145.30" y1="498.10" x2="145.30" y2="501.10" stroke="#0000ff" stroke-width="1.4" />
<line x1="150.25" y1="498.10" x2="150.25" y2="503.90" stroke="#0000ff" stroke-width="1.6" />
<line x1="155.20" y1="498.10" x2="155.20" y2="501.10" stroke="#0000ff" stroke-width="1.4" />
<line x1="160.15" y1="498.10" x2="160.15" y2="501.10" stroke="#0000ff" stroke-width="1.4" />
<line x1="165.10" y1="498.10" x2="165.10" y2="501.10" stroke="#0000ff" stroke-width="1.4" />
<line x1="170.05" y1="498.10" x2="170.05" y2="501.10" stroke="#0000ff" stroke-width="1.4" />
<line x1="175.00" y1="498.10" x2="175.00" y2="503.90" stroke="#0000ff" stroke-width="1.6" />
<line x1="179.95" y1="498.10" x2="179.95" y2="501.10" stroke="#0000ff" stroke-width="1.4" />
<line x1="184.90" y1="498.10" x2="184.90" y2="501.10" stroke="#0000ff" stroke-width="1.4" />
<line x1="189.85" y1="498.10" x2="189.85" y2="501.10" stroke="#0000ff" stroke-width="1.4" />
<line x1="194.80" y1="498.10" x2="194.80" y2="501.10" stroke="#0000ff" stroke-width="1.4" />
<line x1="199.75" y1="498.10" x2="199.75" y2="503.90" stroke="#0000ff" stroke-width="1.6" />
<line x1="204.70" y1="498.10" x2="204.70" y2="501.10" stroke="#0000ff" stroke-width="1.4" />
<line x1="209.65" y1="498.10" x2="209.65" y2="501.10" stroke="#0000ff" stroke-width="1.4" />
<line x1="214.60" y1="498.10" x2="214.60" y2="501.10" stroke="#0000ff" stroke-width="1.4" />
<line x1="219.55" y1="498.10" x2="219.55" y2="501.10" stroke="#0000ff" stroke-width="1.4" />
<line x1="224.50" y1="498.10" x2="224.50" y2="503.90" stroke="#0000ff" stroke-width="1.6" />
<line x1="229.45" y1="498.10" x2="229.45" y2="501.10" stroke="#0000ff" stroke-width="1.4" />
<line x1="234.40" y1="498.10" x2="234.40" y2="501.10" stroke="#0000ff" stroke-width="1.4" />
<line x1="239.35" y1="498.10" x2="239.35" y2="501.10" stroke="#0000ff" stroke-width="1.4" />
<line x1="244.30" y1="498.10" x2="244.30" y2="501.10" stroke="#0000ff" stroke-width="1.4" />
<line x1="249.25" y1="498.10" x2="249.25" y2="503.90" stroke="#0000ff" stroke-width="1.6" />
<line x1="254.20" y1="498.10" x2="254.20" y2="501.10" stroke="#0000ff" stroke-width="1.4" />
<line x1="259.15" y1="498.10" x2="259.15" y2="501.10" stroke="#0000ff" stroke-width="1.4" />
<line x1="264.10" y1="498.10" x2="264.10" y2="501.10" stroke="#0000ff" stroke-width="1.4" />
<line x1="269.05" y1="498.10" x2="269.05" y2="501.10" stroke="#0000ff" stroke-width="1.4" />
<line x1="274.00" y1="498.10" x2="274.00" y2="503.90" stroke="#0000ff" stroke-width="1.6" />
<text x="76.00" y="518.70" fill="#0000ff" stroke="#0000ff" text-anchor="middle" >33.5</text>
<text x="100.75" y="518.70" fill="#0000ff" stroke="#0000ff" text-anchor="middle" >34.0</text>
<text x="125.50" y="518.70" fill="#0000ff" stroke="#0000ff" text-anchor="middle" >34.5</text>
<text x="150.25" y="518.70" fill="#0000ff" stroke="#0000ff" text-anchor="middle" >35.0</text>
<text x="175.00" y="518.70" fill="#0000ff" stroke="#0000ff" text-anchor="middle" >35.5</text>
<text x="199.75" y="518.70" fill="#0000ff" stroke="#0000ff" text-anchor="middle" >36.0</text>
<text x="224.50" y="518.70" fill="#0000ff" stroke="#0000ff" text-anchor="middle" >36.5</text>
<text x="249.25" y="518.70" fill="#0000ff" stroke="#0000ff" text-anchor="middle" >37.0</text>
<text x="274.00" y="518.70" fill="#0000ff" stroke="#0000ff" text-anchor="middle" >37.5</text>
<text x="175.00" y="535.70" fill="#0000ff" stroke="#0000ff" text-anchor="middle" >Salinity (PSU)</text>
<line x1="74.90" y1="58.00" x2="275.10" y2="58.00" stroke="#92278f" stroke-width="2.2" />
<line x1="76.00" y1="58.00" x2="76.00" y2="55.80" stroke="#92278f" stroke-width="1.4" />
<line x1="83.62" y1="58.00" x2="83.62" y2="53.00" stroke="#92278f" stroke-width="1.6" />
<line x1="91.23" y1="58.00" x2="91.23" y2="55.80" stroke="#92278f" stroke-width="1.4" />
<line x1="98.85" y1="58.00" x2="98.85" y2="55.80" stroke="#92278f" stroke-width="1.4" />
<line x1="106.46" y1="58.00" x2="106.46" y2="55.80" stroke="#92278f" stroke-width="1.4" />
<line x1="114.08" y1="58.00" x2="114.08" y2="55.80" stroke="#92278f" stroke-width="1.4" />
<line x1="121.69" y1="58.00" x2="121.69" y2="53.00" stroke="#92278f" stroke-width="1.6" />
<line x1="129.31" y1="58.00" x2="129.31" y2="55.80" stroke="#92278f" stroke-width="1.4" />
<line x1="136.92" y1="58.00" x2="136.92" y2="55.80" stroke="#92278f" stroke-width="1.4" />
<line x1="144.54" y1="58.00" x2="144.54" y2="55.80" stroke="#92278f" stroke-width="1.4" />
<line x1="152.15" y1="58.00" x2="152.15" y2="55.80" stroke="#92278f" stroke-width="1.4" />
<line x1="159.77" y1="58.00" x2="159.77" y2="53.00" stroke="#92278f" stroke-width="1.6" />
<line x1="167.38" y1="58.00" x2="167.38" y2="55.80" stroke="#92278f" stroke-width="1.4" />
<line x1="175.00" y1="58.00" x2="175.00" y2="55.80" stroke="#92278f" stroke-width="1.4" />
<line x1="182.62" y1="58.00" x2="182.62" y2="55.80" stroke="#92278f" stroke-width="1.4" />
<line x1="190.23" y1="58.00" x2="190.23" y2="55.80" stroke="#92278f" stroke-width="1.4" />
<line x1="197.85" y1="58.00" x2="197.85" y2="53.00" stroke="#92278f" stroke-width="1.6" />
<line x1="205.46" y1="58.00" x2="205.46" y2="55.80" stroke="#92278f" stroke-width="1.4" />
<line x1="213.08" y1="58.00" x2="213.08" y2="55.80" stroke="#92278f" stroke-width="1.4" />
<line x1="220.69" y1="58.00" x2="220.69" y2="55.80" stroke="#92278f" stroke-width="1.4" />
<line x1="228.31" y1="58.00" x2="228.31" y2="55.80" stroke="#92278f" stroke-width="1.4" />
<line x1="235.92" y1="58.00" x2="235.92" y2="53.00" stroke="#92278f" stroke-width="1.6" />
<line x1="243.54" y1="58.00" x2="243.54" y2="55.80" stroke="#92278f" stroke-width="1.4" />
<line x1="251.15" y1="58.00" x2="251.15" y2="55.80" stroke="#92278f" stroke-width="1.4" />
<line x1="258.77" y1="58.00" x2="258.77" y2="55.80" stroke="#92278f" stroke-width="1.4" />
<line x1="266.38" y1="58.00" x2="266.38" y2="55.80" stroke="#92278f" stroke-width="1.4" />
<line x1="274.00" y1="58.00" x2="274.00" y2="53.00" stroke="#92278f" stroke-width="1.6" />
<text x="83.62" y="48.00" fill="#92278f" stroke="#92278f" text-anchor="middle" >0</text>
<text x="121.69" y="48.00" fill="#92278f" stroke="#92278f" text-anchor="middle" >10</text>
<text x="159.77" y="48.00" fill="#92278f" stroke="#92278f" text-anchor="middle" >20</text>
<text x="197.85" y="48.00" fill="#92278f" stroke="#92278f" text-anchor="middle" >30</text>
<text x="235.92" y="48.00" fill="#92278f" stroke="#92278f" text-anchor="middle" >40</text>
<text x="274.00" y="48.00" fill="#92278f" stroke="#92278f" text-anchor="middle" >50</text>
<text x="175.00" y="30.00" fill="#92278f" stroke="#92278f" text-anchor="middle" >Nitrate Concentration (µm/kg)</text>
<line x1="74.90" y1="116.00" x2="275.10" y2="116.00" stroke="#1a9032" stroke-width="2.2" />
<line x1="76.00" y1="116.00" x2="76.00" y2="111.00" stroke="#1a9032" stroke-width="1.6" />
<line x1="85.90" y1="116.00" x2="85.90" y2="113.80" stroke="#1a9032" stroke-width="1.4" />
<line x1="95.80" y1="116.00" x2="95.80" y2="113.80" stroke="#1a9032" stroke-width="1.4" />
<line x1="105.70" y1="116.00" x2="105.70" y2="113.80" stroke="#1a9032" stroke-width="1.4" />
<line x1="115.60" y1="116.00" x2="115.60" y2="113.80" stroke="#1a9032" stroke-width="1.4" />
<line x1="125.50" y1="116.00" x2="125.50" y2="111.00" stroke="#1a9032" stroke-width="1.6" />
<line x1="135.40" y1="116.00" x2="135.40" y2="113.80" stroke="#1a9032" stroke-width="1.4" />
<line x1="145.30" y1="116.00" x2="145.30" y2="113.80" stroke="#1a9032" stroke-width="1.4" />
<line x1="155.20" y1="116.00" x2="155.20" y2="113.80" stroke="#1a9032" stroke-width="1.4" />
<line x1="165.10" y1="116.00" x2="165.10" y2="113.80" stroke="#1a9032" stroke-width="1.4" />
<line x1="175.00" y1="116.00" x2="175.00" y2="111.00" stroke="#1a9032" stroke-width="1.6" />
<line x1="184.90" y1="116.00" x2="184.90" y2="113.80" stroke="#1a9032" stroke-width="1.4" />
<line x1="194.80" y1="116.00" x2="194.80" y2="113.80" stroke="#1a9032" stroke-width="1.4" />
<line x1="204.70" y1="116.00" x2="204.70" y2="113.80" stroke="#1a9032" stroke-width="1.4" />
<line x1="214.60" y1="116.00" x2="214.60" y2="113.80" stroke="#1a9032" stroke-width="1.4" />
<line x1="224.50" y1="116.00" x2="224.50" y2="111.00" stroke="#1a9032" stroke-width="1.6" />
<line x1="234.40" y1="116.00" x2="234.40" y2="113.80" stroke="#1a9032" stroke-width="1.4" />
<line x1="244.30" y1="116.00" x2="244.30" y2="113.80" stroke="#1a9032" stroke-width="1.4" />
<line x1="254.20" y1="116.00" x2="254.20" y2="113.80" stroke="#1a9032" stroke-width="1.4" />
<line x1="264.10" y1="116.00" x2="264.10" y2="113.80" stroke="#1a9032" stroke-width="1.4" />
<line x1="274.00" y1="116.00" x2="274.00" y2="111.00" stroke="#1a9032" stroke-width="1.6" />
<text x="76.00" y="106.00" fill="#1a9032" stroke="#1a9032" text-anchor="middle" >0</text>
<text x="125.50" y="106.00" fill="#1a9032" stroke="#1a9032" text-anchor="middle" >100</text>
<text x="175.00" y="106.00" fill="#1a9032" stroke="#1a9032" text-anchor="middle" >200</text>
<text x="224.50" y="106.00" fill="#1a9032" stroke="#1a9032" text-anchor="middle" >300</text>
<text x="274.00" y="106.00" fill="#1a9032" stroke="#1a9032" text-anchor="middle" >400</text>
<text x="175.00" y="87.80" fill="#1a9032" stroke="#1a9032" text-anchor="middle" >Optode Oxygen Concentration (µm/kg)</text>
<line x1="74.90" y1="553.00" x2="275.10" y2="553.00" stroke="#8e8e22" stroke-width="2.2" />
<line x1="76.00" y1="553.00" x2="76.00" y2="558.00" stroke="#8e8e22" stroke-width="1.6" />
<line x1="83.92" y1="553.00" x2="83.92" y2="555.40" stroke="#8e8e22" stroke-width="1.4" />
<line x1="91.84" y1="553.00" x2="91.84" y2="555.40" stroke="#8e8e22" stroke-width="1.4" />
<line x1="99.76" y1="553.00" x2="99.76" y2="555.40" stroke="#8e8e22" stroke-width="1.4" />
<line x1="107.68" y1="553.00" x2="107.68" y2="555.40" stroke="#8e8e22" stroke-width="1.4" />
<line x1="115.60" y1="553.00" x2="115.60" y2="558.00" stroke="#8e8e22" stroke-width="1.6" />
<line x1="123.52" y1="553.00" x2="123.52" y2="555.40" stroke="#8e8e22" stroke-width="1.4" />
<line x1="131.44" y1="553.00" x2="131.44" y2="555.40" stroke="#8e8e22" stroke-width="1.4" />
<line x1="139.36" y1="553.00" x2="139.36" y2="555.40" stroke="#8e8e22" stroke-width="1.4" />
<line x1="147.28" y1="553.00" x2="147.28" y2="555.40" stroke="#8e8e22" stroke-width="1.4" />
<line x1="155.20" y1="553.00" x2="155.20" y2="558.00" stroke="#8e8e22" stroke-width="1.6" />
<line x1="163.12" y1="553.00" x2="163.12" y2="555.40" stroke="#8e8e22" stroke-width="1.4" />
<line x1="171.04" y1="553.00" x2="171.04" y2="555.40" stroke="#8e8e22" stroke-width="1.4" />
<line x1="178.96" y1="553.00" x2="178.96" y2="555.40" stroke="#8e8e22" stroke-width="1.4" />
<line x1="186.88" y1="553.00" x2="186.88" y2="555.40" stroke="#8e8e22" stroke-width="1.4" />
<line x1="194.80" y1="553.00" x2="194.80" y2="558.00" stroke="#8e8e22" stroke-width="1.6" />
<line x1="202.72" y1="553.00" x2="202.72" y2="555.40" stroke="#8e8e22" stroke-width="1.4" />
<line x1="210.64" y1="553.00" x2="210.64" y2="555.40" stroke="#8e8e22" stroke-width="1.4" />
<line x1="218.56" y1="553.00" x2="218.56" y2="555.40" stroke="#8e8e22" stroke-width="1.4" />
<line x1="226.48" y1="553.00" x2="226.48" y2="555.40" stroke="#8e8e22" stroke-width="1.4" />
<line x1="234.40" y1="553.00" x2="234.40" y2="558.00" stroke="#8e8e22" stroke-width="1.6" />
<line x1="242.32" y1="553.00" x2="242.32" y2="555.40" stroke="#8e8e22" stroke-width="1.4" />
<line x1="250.24" y1="553.00" x2="250.24" y2="555.40" stroke="#8e8e22" stroke-width="1.4" />
<line x1="258.16" y1="553.00" x2="258.16" y2="555.40" stroke="#8e8e22" stroke-width="1.4" />
<line x1="266.08" y1="553.00" x2="266.08" y2="555.40" stroke="#8e8e22" stroke-width="1.4" />
<line x1="274.00" y1="553.00" x2="274.00" y2="558.00" stroke="#8e8e22" stroke-width="1.6" />
<text x="76.00" y="571.80" fill="#8e8e22" stroke="#8e8e22" text-anchor="middle" >0</text>
<text x="115.60" y="571.80" fill="#8e8e22" stroke="#8e8e22" text-anchor="middle" >100</text>
<text x="155.20" y="571.80" fill="#8e8e22" stroke="#8e8e22" text-anchor="middle" >200</text>
<text x="194.80" y="571.80" fill="#8e8e22" stroke="#8e8e22" text-anchor="middle" >300</text>
<text x="234.40" y="571.80" fill="#8e8e22" stroke="#8e8e22" text-anchor="middle" >400</text>
<text x="274.00" y="571.80" fill="#8e8e22" stroke="#8e8e22" text-anchor="middle" >500</text>
<text x="175.00" y="589.50" fill="#8e8e22" stroke="#8e8e22" text-anchor="middle" >FLBB Fluorescence channel (counts)</text>
<line x1="74.90" y1="607.00" x2="275.10" y2="607.00" stroke="#d2691e" stroke-width="2.2" />
<line x1="76.00" y1="607.00" x2="76.00" y2="612.00" stroke="#d2691e" stroke-width="1.6" />
<line x1="83.92" y1="607.00" x2="83.92" y2="609.40" stroke="#d2691e" stroke-width="1.4" />
<line x1="91.84" y1="607.00" x2="91.84" y2="609.40" stroke="#d2691e" stroke-width="1.4" />
<line x1="99.76" y1="607.00" x2="99.76" y2="609.40" stroke="#d2691e" stroke-width="1.4" />
<line x1="107.68" y1="607.00" x2="107.68" y2="609.40" stroke="#d2691e" stroke-width="1.4" />
<line x1="115.60" y1="607.00" x2="115.60" y2="612.00" stroke="#d2691e" stroke-width="1.6" />
<line x1="123.52" y1="607.00" x2="123.52" y2="609.40" stroke="#d2691e" stroke-width="1.4" />
<line x1="131.44" y1="607.00" x2="131.44" y2="609.40" stroke="#d2691e" stroke-width="1.4" />
<line x1="139.36" y1="607.00" x2="139.36" y2="609.40" stroke="#d2691e" stroke-width="1.4" />
<line x1="147.28" y1="607.00" x2="147.28" y2="609.40" stroke="#d2691e" stroke-width="1.4" />
<line x1="155.20" y1="607.00" x2="155.20" y2="612.00" stroke="#d2691e" stroke-width="1.6" />
<line x1="163.12" y1="607.00" x2="163.12" y2="609.40" stroke="#d2691e" stroke-width="1.4" />
<line x1="171.04" y1="607.00" x2="171.04" y2="609.40" stroke="#d2691e" stroke-width="1.4" />
<line x1="178.96" y1="607.00" x2="178.96" y2="609.40" stroke="#d2691e" stroke-width="1.4" />
<line x1="186.88" y1="607.00" x2="186.88" y2="609.40" stroke="#d2691e" stroke-width="1.4" />
<line x1="194.80" y1="607.00" x2="194.80" y2="612.00" stroke="#d2691e" stroke-width="1.6" />
<line x1="202.72" y1="607.00" x2="202.72" y2="609.40" stroke="#d2691e" stroke-width="1.4" />
<line x1="210.64" y1="607.00" x2="210.64" y2="609.40" stroke="#d2691e" stroke-width="1.4" />
<line x1="218.56" y1="607.00" x2="218.56" y2="609.40" stroke="#d2691e" stroke-width="1.4" />
<line x1="226.48" y1="607.00" x2="226.48" y2="609.40" stroke="#d2691e" stroke-width="1.4" />
<line x1="234.40" y1="607.00" x2="234.40" y2="612.00" stroke="#d2691e" stroke-width="1.6" />
<line x1="242.32" y1="607.00" x2="242.32" y2="609.40" stroke="#d2691e" stroke-width="1.4" />
<line x1="250.24" y1="607.00" x2="250.24" y2="609.40" stroke="#d2691e" stroke-width="1.4" />
<line x1="258.16" y1="607.00" x2="258.16" y2="609.40" stroke="#d2691e" stroke-width="1.4" />
<line x1="266.08" y1="607.00" x2="266.08" y2="609.40" stroke="#d2691e" stroke-width="1.4" />
<line x1="274.00" y1="607.00" x2="274.00" y2="612.00" stroke="#d2691e" stroke-width="1.6" />
<text x="76.00" y="626.00" fill="#d2691e" stroke="#d2691e" text-anchor="middle" >0</text>
<text x="115.60" y="626.00" fill="#d2691e" stroke="#d2691e" text-anchor="middle" >100</text>
<text x="155.20" y="626.00" fill="#d2691e" stroke="#d2691e" text-anchor="middle" >200</text>
<text x="194.80" y="626.00" fill="#d2691e" stroke="#d2691e" text-anchor="middle" >300</text>
<text x="234.40" y="626.00" fill="#d2691e" stroke="#d2691e" text-anchor="middle" >400</text>
<text x="274.00" y="626.00" fill="#d2691e" stroke="#d2691e" text-anchor="middle" >500</text>
<text x="175.00" y="643.30" fill="#d2691e" stroke="#d2691e" text-anchor="middle" >FLBB Backscatter channel (counts)</text>
<rect x="306.0" y="174.0" width="87.0" height="323.9" fill="#cdeffa"/>
<clipPath id="cd"><rect x="306.0" y="174.0" width="87.0" height="323.9"/></clipPath>
<g clip-path="url(#cd)">
<polyline points="364.30,174.00 364.30,497.90" fill="none" stroke="#e8a8a8" stroke-width="0.6" stroke-opacity="0.55" stroke-linejoin="round"/>
<polyline points="364.00,174.50 364.00,180.50 361.00,182.00 362.20,183.70 356.10,186.70 359.70,186.90 362.20,188.50 358.50,191.00 359.10,192.80 356.70,194.60 358.50,197.00 360.40,199.40 361.00,201.20 359.10,203.60 357.90,206.00 359.10,208.50 360.40,210.90 361.00,213.30 361.60,215.70 361.60,219.30 362.20,221.70 361.00,224.20 358.50,227.20 362.80,230.20 360.60,233.20 362.60,240.25 362.60,247.61 362.60,254.97 362.60,262.34 362.60,269.70 362.60,277.06 362.60,284.42 362.60,291.78 362.60,299.14 362.60,306.50 362.60,313.87 362.60,321.23 362.60,335.95 362.60,350.67 362.60,365.40 362.60,380.12 362.60,394.84 362.60,409.56 362.60,424.29 362.60,439.01 362.60,453.73 362.60,468.45" fill="none" stroke="#ff6666" stroke-width="0.8" stroke-opacity="0.9" stroke-linejoin="round"/>
<rect x="362.20" y="172.70" width="3.6" height="3.6" fill="#ff6666"/>
<rect x="362.20" y="173.56" width="3.6" height="3.6" fill="#ff6666"/>
<rect x="362.20" y="174.41" width="3.6" height="3.6" fill="#ff6666"/>
<rect x="362.20" y="175.27" width="3.6" height="3.6" fill="#ff6666"/>
<rect x="362.20" y="176.13" width="3.6" height="3.6" fill="#ff6666"/>
<rect x="362.20" y="176.99" width="3.6" height="3.6" fill="#ff6666"/>
<rect x="362.20" y="177.84" width="3.6" height="3.6" fill="#ff6666"/>
<rect x="362.20" y="178.70" width="3.6" height="3.6" fill="#ff6666"/>
<rect x="359.25" y="180.25" width="3.5" height="3.5" fill="#ff6666"/>
<rect x="360.45" y="181.95" width="3.5" height="3.5" fill="#ff6666"/>
<rect x="354.35" y="184.95" width="3.5" height="3.5" fill="#ff6666"/>
<rect x="357.95" y="185.15" width="3.5" height="3.5" fill="#ff6666"/>
<rect x="360.45" y="186.75" width="3.5" height="3.5" fill="#ff6666"/>
<rect x="356.75" y="189.25" width="3.5" height="3.5" fill="#ff6666"/>
<rect x="357.35" y="191.05" width="3.5" height="3.5" fill="#ff6666"/>
<rect x="354.95" y="192.85" width="3.5" height="3.5" fill="#ff6666"/>
<rect x="356.75" y="195.25" width="3.5" height="3.5" fill="#ff6666"/>
<rect x="358.65" y="197.65" width="3.5" height="3.5" fill="#ff6666"/>
<rect x="359.25" y="199.45" width="3.5" height="3.5" fill="#ff6666"/>
<rect x="357.35" y="201.85" width="3.5" height="3.5" fill="#ff6666"/>
<rect x="356.15" y="204.25" width="3.5" height="3.5" fill="#ff6666"/>
<rect x="357.35" y="206.75" width="3.5" height="3.5" fill="#ff6666"/>
<rect x="358.65" y="209.15" width="3.5" height="3.5" fill="#ff6666"/>
<rect x="359.25" y="211.55" width="3.5" height="3.5" fill="#ff6666"/>
<rect x="359.85" y="213.95" width="3.5" height="3.5" fill="#ff6666"/>
<rect x="359.85" y="217.55" width="3.5" height="3.5" fill="#ff6666"/>
<rect x="360.45" y="219.95" width="3.5" height="3.5" fill="#ff6666"/>
<rect x="359.25" y="222.45" width="3.5" height="3.5" fill="#ff6666"/>
<rect x="356.75" y="225.45" width="3.5" height="3.5" fill="#ff6666"/>
<rect x="361.05" y="228.45" width="3.5" height="3.5" fill="#ff6666"/>
<rect x="358.85" y="231.45" width="3.5" height="3.5" fill="#ff6666"/>
<rect x="356.15" y="183.55" width="3.3" height="3.3" fill="#ff6666"/>
<rect x="356.55" y="188.15" width="3.3" height="3.3" fill="#ff6666"/>
<rect x="355.95" y="194.15" width="3.3" height="3.3" fill="#ff6666"/>
<rect x="357.85" y="196.55" width="3.3" height="3.3" fill="#ff6666"/>
<rect x="356.85" y="203.15" width="3.3" height="3.3" fill="#ff6666"/>
<rect x="356.85" y="205.55" width="3.3" height="3.3" fill="#ff6666"/>
<rect x="359.05" y="210.45" width="3.3" height="3.3" fill="#ff6666"/>
<rect x="359.65" y="215.85" width="3.3" height="3.3" fill="#ff6666"/>
<rect x="359.95" y="221.35" width="3.3" height="3.3" fill="#ff6666"/>
<rect x="358.15" y="224.15" width="3.3" height="3.3" fill="#ff6666"/>
<polyline points="353.70,217.90 361.00,217.90" fill="none" stroke="#ff6666" stroke-width="1.0" stroke-opacity="0.9" stroke-linejoin="round"/>
<rect x="352.00" y="216.20" width="3.4" height="3.4" fill="#ff6666"/>
<rect x="360.90" y="238.55" width="3.4" height="3.4" fill="#ff6666"/>
<rect x="360.90" y="245.91" width="3.4" height="3.4" fill="#ff6666"/>
<rect x="360.90" y="253.28" width="3.4" height="3.4" fill="#ff6666"/>
<rect x="360.90" y="260.64" width="3.4" height="3.4" fill="#ff6666"/>
<rect x="360.90" y="268.00" width="3.4" height="3.4" fill="#ff6666"/>
<rect x="360.90" y="275.36" width="3.4" height="3.4" fill="#ff6666"/>
<rect x="360.90" y="282.72" width="3.4" height="3.4" fill="#ff6666"/>
<rect x="360.90" y="290.08" width="3.4" height="3.4" fill="#ff6666"/>
<rect x="360.90" y="297.44" width="3.4" height="3.4" fill="#ff6666"/>
<rect x="360.90" y="304.80" width="3.4" height="3.4" fill="#ff6666"/>
<rect x="360.90" y="312.17" width="3.4" height="3.4" fill="#ff6666"/>
<rect x="360.90" y="319.53" width="3.4" height="3.4" fill="#ff6666"/>
<rect x="360.90" y="334.25" width="3.4" height="3.4" fill="#ff6666"/>
<rect x="360.90" y="348.97" width="3.4" height="3.4" fill="#ff6666"/>
<rect x="360.90" y="363.70" width="3.4" height="3.4" fill="#ff6666"/>
<rect x="360.90" y="378.42" width="3.4" height="3.4" fill="#ff6666"/>
<rect x="360.90" y="393.14" width="3.4" height="3.4" fill="#ff6666"/>
<rect x="360.90" y="407.86" width="3.4" height="3.4" fill="#ff6666"/>
<rect x="360.90" y="422.59" width="3.4" height="3.4" fill="#ff6666"/>
<rect x="360.90" y="437.31" width="3.4" height="3.4" fill="#ff6666"/>
<rect x="360.90" y="452.03" width="3.4" height="3.4" fill="#ff6666"/>
<rect x="360.90" y="466.75" width="3.4" height="3.4" fill="#ff6666"/>
</g>
<line x1="306.00" y1="172.90" x2="306.00" y2="499.00" stroke="#68680c" stroke-width="2.2" />
<line x1="306.00" y1="174.00" x2="300.00" y2="174.00" stroke="#68680c" stroke-width="1.4" />
<line x1="306.00" y1="181.36" x2="303.00" y2="181.36" stroke="#68680c" stroke-width="1.35" />
<line x1="306.00" y1="188.72" x2="303.00" y2="188.72" stroke="#68680c" stroke-width="1.35" />
<line x1="306.00" y1="196.08" x2="303.00" y2="196.08" stroke="#68680c" stroke-width="1.35" />
<line x1="306.00" y1="203.45" x2="300.00" y2="203.45" stroke="#68680c" stroke-width="1.4" />
<line x1="306.00" y1="210.81" x2="303.00" y2="210.81" stroke="#68680c" stroke-width="1.35" />
<line x1="306.00" y1="218.17" x2="303.00" y2="218.17" stroke="#68680c" stroke-width="1.35" />
<line x1="306.00" y1="225.53" x2="303.00" y2="225.53" stroke="#68680c" stroke-width="1.35" />
<line x1="306.00" y1="232.89" x2="300.00" y2="232.89" stroke="#68680c" stroke-width="1.4" />
<line x1="306.00" y1="240.25" x2="303.00" y2="240.25" stroke="#68680c" stroke-width="1.35" />
<line x1="306.00" y1="247.61" x2="303.00" y2="247.61" stroke="#68680c" stroke-width="1.35" />
<line x1="306.00" y1="254.97" x2="303.00" y2="254.97" stroke="#68680c" stroke-width="1.35" />
<line x1="306.00" y1="262.34" x2="300.00" y2="262.34" stroke="#68680c" stroke-width="1.4" />
<line x1="306.00" y1="269.70" x2="303.00" y2="269.70" stroke="#68680c" stroke-width="1.35" />
<line x1="306.00" y1="277.06" x2="303.00" y2="277.06" stroke="#68680c" stroke-width="1.35" />
<line x1="306.00" y1="284.42" x2="303.00" y2="284.42" stroke="#68680c" stroke-width="1.35" />
<line x1="306.00" y1="291.78" x2="300.00" y2="291.78" stroke="#68680c" stroke-width="1.4" />
<line x1="306.00" y1="299.14" x2="303.00" y2="299.14" stroke="#68680c" stroke-width="1.35" />
<line x1="306.00" y1="306.50" x2="303.00" y2="306.50" stroke="#68680c" stroke-width="1.35" />
<line x1="306.00" y1="313.87" x2="303.00" y2="313.87" stroke="#68680c" stroke-width="1.35" />
<line x1="306.00" y1="321.23" x2="300.00" y2="321.23" stroke="#68680c" stroke-width="1.4" />
<line x1="306.00" y1="328.59" x2="303.00" y2="328.59" stroke="#68680c" stroke-width="1.35" />
<line x1="306.00" y1="335.95" x2="303.00" y2="335.95" stroke="#68680c" stroke-width="1.35" />
<line x1="306.00" y1="343.31" x2="303.00" y2="343.31" stroke="#68680c" stroke-width="1.35" />
<line x1="306.00" y1="350.67" x2="300.00" y2="350.67" stroke="#68680c" stroke-width="1.4" />
<line x1="306.00" y1="358.03" x2="303.00" y2="358.03" stroke="#68680c" stroke-width="1.35" />
<line x1="306.00" y1="365.40" x2="303.00" y2="365.40" stroke="#68680c" stroke-width="1.35" />
<line x1="306.00" y1="372.76" x2="303.00" y2="372.76" stroke="#68680c" stroke-width="1.35" />
<line x1="306.00" y1="380.12" x2="300.00" y2="380.12" stroke="#68680c" stroke-width="1.4" />
<line x1="306.00" y1="387.48" x2="303.00" y2="387.48" stroke="#68680c" stroke-width="1.35" />
<line x1="306.00" y1="394.84" x2="303.00" y2="394.84" stroke="#68680c" stroke-width="1.35" />
<line x1="306.00" y1="402.20" x2="303.00" y2="402.20" stroke="#68680c" stroke-width="1.35" />
<line x1="306.00" y1="409.56" x2="300.00" y2="409.56" stroke="#68680c" stroke-width="1.4" />
<line x1="306.00" y1="416.92" x2="303.00" y2="416.92" stroke="#68680c" stroke-width="1.35" />
<line x1="306.00" y1="424.29" x2="303.00" y2="424.29" stroke="#68680c" stroke-width="1.35" />
<line x1="306.00" y1="431.65" x2="303.00" y2="431.65" stroke="#68680c" stroke-width="1.35" />
<line x1="306.00" y1="439.01" x2="300.00" y2="439.01" stroke="#68680c" stroke-width="1.4" />
<line x1="306.00" y1="446.37" x2="303.00" y2="446.37" stroke="#68680c" stroke-width="1.35" />
<line x1="306.00" y1="453.73" x2="303.00" y2="453.73" stroke="#68680c" stroke-width="1.35" />
<line x1="306.00" y1="461.09" x2="303.00" y2="461.09" stroke="#68680c" stroke-width="1.35" />
<line x1="306.00" y1="468.45" x2="300.00" y2="468.45" stroke="#68680c" stroke-width="1.4" />
<line x1="306.00" y1="475.82" x2="303.00" y2="475.82" stroke="#68680c" stroke-width="1.35" />
<line x1="306.00" y1="483.18" x2="303.00" y2="483.18" stroke="#68680c" stroke-width="1.35" />
<line x1="306.00" y1="490.54" x2="303.00" y2="490.54" stroke="#68680c" stroke-width="1.35" />
<line x1="306.00" y1="497.90" x2="300.00" y2="497.90" stroke="#68680c" stroke-width="1.4" />
<line x1="393.00" y1="172.90" x2="393.00" y2="499.00" stroke="#68680c" stroke-width="2.2" />
<line x1="393.00" y1="174.00" x2="399.00" y2="174.00" stroke="#68680c" stroke-width="1.4" />
<line x1="393.00" y1="181.36" x2="396.00" y2="181.36" stroke="#68680c" stroke-width="1.35" />
<line x1="393.00" y1="188.72" x2="396.00" y2="188.72" stroke="#68680c" stroke-width="1.35" />
<line x1="393.00" y1="196.08" x2="396.00" y2="196.08" stroke="#68680c" stroke-width="1.35" />
<line x1="393.00" y1="203.45" x2="399.00" y2="203.45" stroke="#68680c" stroke-width="1.4" />
<line x1="393.00" y1="210.81" x2="396.00" y2="210.81" stroke="#68680c" stroke-width="1.35" />
<line x1="393.00" y1="218.17" x2="396.00" y2="218.17" stroke="#68680c" stroke-width="1.35" />
<line x1="393.00" y1="225.53" x2="396.00" y2="225.53" stroke="#68680c" stroke-width="1.35" />
<line x1="393.00" y1="232.89" x2="399.00" y2="232.89" stroke="#68680c" stroke-width="1.4" />
<line x1="393.00" y1="240.25" x2="396.00" y2="240.25" stroke="#68680c" stroke-width="1.35" />
<line x1="393.00" y1="247.61" x2="396.00" y2="247.61" stroke="#68680c" stroke-width="1.35" />
<line x1="393.00" y1="254.97" x2="396.00" y2="254.97" stroke="#68680c" stroke-width="1.35" />
<line x1="393.00" y1="262.34" x2="399.00" y2="262.34" stroke="#68680c" stroke-width="1.4" />
<line x1="393.00" y1="269.70" x2="396.00" y2="269.70" stroke="#68680c" stroke-width="1.35" />
<line x1="393.00" y1="277.06" x2="396.00" y2="277.06" stroke="#68680c" stroke-width="1.35" />
<line x1="393.00" y1="284.42" x2="396.00" y2="284.42" stroke="#68680c" stroke-width="1.35" />
<line x1="393.00" y1="291.78" x2="399.00" y2="291.78" stroke="#68680c" stroke-width="1.4" />
<line x1="393.00" y1="299.14" x2="396.00" y2="299.14" stroke="#68680c" stroke-width="1.35" />
<line x1="393.00" y1="306.50" x2="396.00" y2="306.50" stroke="#68680c" stroke-width="1.35" />
<line x1="393.00" y1="313.87" x2="396.00" y2="313.87" stroke="#68680c" stroke-width="1.35" />
<line x1="393.00" y1="321.23" x2="399.00" y2="321.23" stroke="#68680c" stroke-width="1.4" />
<line x1="393.00" y1="328.59" x2="396.00" y2="328.59" stroke="#68680c" stroke-width="1.35" />
<line x1="393.00" y1="335.95" x2="396.00" y2="335.95" stroke="#68680c" stroke-width="1.35" />
<line x1="393.00" y1="343.31" x2="396.00" y2="343.31" stroke="#68680c" stroke-width="1.35" />
<line x1="393.00" y1="350.67" x2="399.00" y2="350.67" stroke="#68680c" stroke-width="1.4" />
<line x1="393.00" y1="358.03" x2="396.00" y2="358.03" stroke="#68680c" stroke-width="1.35" />
<line x1="393.00" y1="365.40" x2="396.00" y2="365.40" stroke="#68680c" stroke-width="1.35" />
<line x1="393.00" y1="372.76" x2="396.00" y2="372.76" stroke="#68680c" stroke-width="1.35" />
<line x1="393.00" y1="380.12" x2="399.00" y2="380.12" stroke="#68680c" stroke-width="1.4" />
<line x1="393.00" y1="387.48" x2="396.00" y2="387.48" stroke="#68680c" stroke-width="1.35" />
<line x1="393.00" y1="394.84" x2="396.00" y2="394.84" stroke="#68680c" stroke-width="1.35" />
<line x1="393.00" y1="402.20" x2="396.00" y2="402.20" stroke="#68680c" stroke-width="1.35" />
<line x1="393.00" y1="409.56" x2="399.00" y2="409.56" stroke="#68680c" stroke-width="1.4" />
<line x1="393.00" y1="416.92" x2="396.00" y2="416.92" stroke="#68680c" stroke-width="1.35" />
<line x1="393.00" y1="424.29" x2="396.00" y2="424.29" stroke="#68680c" stroke-width="1.35" />
<line x1="393.00" y1="431.65" x2="396.00" y2="431.65" stroke="#68680c" stroke-width="1.35" />
<line x1="393.00" y1="439.01" x2="399.00" y2="439.01" stroke="#68680c" stroke-width="1.4" />
<line x1="393.00" y1="446.37" x2="396.00" y2="446.37" stroke="#68680c" stroke-width="1.35" />
<line x1="393.00" y1="453.73" x2="396.00" y2="453.73" stroke="#68680c" stroke-width="1.35" />
<line x1="393.00" y1="461.09" x2="396.00" y2="461.09" stroke="#68680c" stroke-width="1.35" />
<line x1="393.00" y1="468.45" x2="399.00" y2="468.45" stroke="#68680c" stroke-width="1.4" />
<line x1="393.00" y1="475.82" x2="396.00" y2="475.82" stroke="#68680c" stroke-width="1.35" />
<line x1="393.00" y1="483.18" x2="396.00" y2="483.18" stroke="#68680c" stroke-width="1.35" />
<line x1="393.00" y1="490.54" x2="396.00" y2="490.54" stroke="#68680c" stroke-width="1.35" />
<line x1="393.00" y1="497.90" x2="399.00" y2="497.90" stroke="#68680c" stroke-width="1.4" />
<line x1="305.20" y1="174.00" x2="393.80" y2="174.00" stroke="#ff6666" stroke-width="1.6" />
<line x1="306.00" y1="174.00" x2="306.00" y2="169.00" stroke="#ff6666" stroke-width="1.6" />
<line x1="311.80" y1="174.00" x2="311.80" y2="171.50" stroke="#ff6666" stroke-width="1.4" />
<line x1="317.60" y1="174.00" x2="317.60" y2="171.50" stroke="#ff6666" stroke-width="1.4" />
<line x1="323.40" y1="174.00" x2="323.40" y2="171.50" stroke="#ff6666" stroke-width="1.4" />
<line x1="329.20" y1="174.00" x2="329.20" y2="171.50" stroke="#ff6666" stroke-width="1.4" />
<line x1="335.00" y1="174.00" x2="335.00" y2="169.00" stroke="#ff6666" stroke-width="1.6" />
<line x1="340.80" y1="174.00" x2="340.80" y2="171.50" stroke="#ff6666" stroke-width="1.4" />
<line x1="346.60" y1="174.00" x2="346.60" y2="171.50" stroke="#ff6666" stroke-width="1.4" />
<line x1="352.40" y1="174.00" x2="352.40" y2="171.50" stroke="#ff6666" stroke-width="1.4" />
<line x1="358.20" y1="174.00" x2="358.20" y2="171.50" stroke="#ff6666" stroke-width="1.4" />
<line x1="364.00" y1="174.00" x2="364.00" y2="169.00" stroke="#ff6666" stroke-width="1.6" />
<line x1="369.80" y1="174.00" x2="369.80" y2="171.50" stroke="#ff6666" stroke-width="1.4" />
<line x1="375.60" y1="174.00" x2="375.60" y2="171.50" stroke="#ff6666" stroke-width="1.4" />
<line x1="381.40" y1="174.00" x2="381.40" y2="171.50" stroke="#ff6666" stroke-width="1.4" />
<line x1="387.20" y1="174.00" x2="387.20" y2="171.50" stroke="#ff6666" stroke-width="1.4" />
<line x1="393.00" y1="174.00" x2="393.00" y2="169.00" stroke="#ff6666" stroke-width="1.6" />
<line x1="305.20" y1="498.10" x2="393.80" y2="498.10" stroke="#ff6666" stroke-width="1.6" />
<line x1="306.00" y1="498.10" x2="306.00" y2="503.60" stroke="#ff6666" stroke-width="1.6" />
<line x1="311.80" y1="498.10" x2="311.80" y2="500.90" stroke="#ff6666" stroke-width="1.4" />
<line x1="317.60" y1="498.10" x2="317.60" y2="500.90" stroke="#ff6666" stroke-width="1.4" />
<line x1="323.40" y1="498.10" x2="323.40" y2="500.90" stroke="#ff6666" stroke-width="1.4" />
<line x1="329.20" y1="498.10" x2="329.20" y2="500.90" stroke="#ff6666" stroke-width="1.4" />
<line x1="335.00" y1="498.10" x2="335.00" y2="503.60" stroke="#ff6666" stroke-width="1.6" />
<line x1="340.80" y1="498.10" x2="340.80" y2="500.90" stroke="#ff6666" stroke-width="1.4" />
<line x1="346.60" y1="498.10" x2="346.60" y2="500.90" stroke="#ff6666" stroke-width="1.4" />
<line x1="352.40" y1="498.10" x2="352.40" y2="500.90" stroke="#ff6666" stroke-width="1.4" />
<line x1="358.20" y1="498.10" x2="358.20" y2="500.90" stroke="#ff6666" stroke-width="1.4" />
<line x1="364.00" y1="498.10" x2="364.00" y2="503.60" stroke="#ff6666" stroke-width="1.6" />
<line x1="369.80" y1="498.10" x2="369.80" y2="500.90" stroke="#ff6666" stroke-width="1.4" />
<line x1="375.60" y1="498.10" x2="375.60" y2="500.90" stroke="#ff6666" stroke-width="1.4" />
<line x1="381.40" y1="498.10" x2="381.40" y2="500.90" stroke="#ff6666" stroke-width="1.4" />
<line x1="387.20" y1="498.10" x2="387.20" y2="500.90" stroke="#ff6666" stroke-width="1.4" />
<line x1="393.00" y1="498.10" x2="393.00" y2="503.60" stroke="#ff6666" stroke-width="1.6" />
<text x="306.00" y="518.70" fill="#ff6666" stroke="#ff6666" text-anchor="middle" >-1.0</text>
<text x="335.00" y="518.70" fill="#ff6666" stroke="#ff6666" text-anchor="middle" >-0.5</text>
<text x="364.00" y="518.70" fill="#ff6666" stroke="#ff6666" text-anchor="middle" >0.0</text>
<text x="393.00" y="518.70" fill="#ff6666" stroke="#ff6666" text-anchor="middle" >0.5</text>
<text x="291.5" y="536" fill="#ff6666" stroke="#ff6666">ΔT= T<tspan font-size="9.5" dy="-5.5">Opt</tspan><tspan dy="5.5"> - T</tspan><tspan font-size="9.5" dy="-5.5">SBE</tspan><tspan dy="5.5"> (˚C)</tspan></text>
<rect x="432.0" y="174.0" width="108.0" height="107.0" fill="#cdeffa"/>
<clipPath id="ct"><rect x="432.0" y="174.0" width="108.0" height="107.0"/></clipPath>
<g clip-path="url(#ct)">
<polyline points="260.50,287.11 260.27,284.06 260.39,281.00 260.85,277.94 261.64,274.89 262.76,271.83 264.21,268.77 265.96,265.71 268.02,262.66 270.38,259.60 273.04,256.54 275.99,253.49 279.22,250.43 282.73,247.37 286.52,244.31 290.57,241.26 294.88,238.20 299.46,235.14 304.29,232.09 309.36,229.03 314.69,225.97 320.25,222.91 326.05,219.86 332.09,216.80 338.36,213.74 344.85,210.69 351.56,207.63 358.50,204.57 365.65,201.51 373.01,198.46 380.59,195.40 388.37,192.34 396.35,189.29 404.54,186.23 412.92,183.17 421.49,180.11 430.26,177.06 439.21,174.00 448.35,170.94 457.67,167.89" fill="none" stroke="#6a787f" stroke-width="0.7" stroke-opacity="0.9" stroke-linejoin="round"/>
<polyline points="271.57,287.11 271.39,284.06 271.56,281.00 272.07,277.94 272.91,274.89 274.07,271.83 275.55,268.77 277.35,265.71 279.45,262.66 281.85,259.60 284.54,256.54 287.53,253.49 290.79,250.43 294.34,247.37 298.15,244.31 302.23,241.26 306.58,238.20 311.18,235.14 316.04,232.09 321.14,229.03 326.49,225.97 332.08,222.91 337.90,219.86 343.96,216.80 350.25,213.74 356.76,210.69 363.50,207.63 370.45,204.57 377.62,201.51 385.00,198.46 392.59,195.40 400.39,192.34 408.39,189.29 416.59,186.23 424.98,183.17 433.57,180.11 442.35,177.06 451.32,174.00 460.46,170.94 469.79,167.89" fill="none" stroke="#6a787f" stroke-width="0.7" stroke-opacity="0.9" stroke-linejoin="round"/>
<polyline points="282.65,287.11 282.52,284.06 282.74,281.00 283.29,277.94 284.17,274.89 285.38,271.83 286.90,268.77 288.73,265.71 290.87,262.66 293.31,259.60 296.04,256.54 299.06,253.49 302.36,250.43 305.94,247.37 309.78,244.31 313.90,241.26 318.27,238.20 322.90,235.14 327.78,232.09 332.91,229.03 338.29,225.97 343.90,222.91 349.75,219.86 355.83,216.80 362.14,213.74 368.67,210.69 375.42,207.63 382.40,204.57 389.58,201.51 396.98,198.46 404.59,195.40 412.40,192.34 420.42,189.29 428.63,186.23 437.04,183.17 445.65,180.11 454.44,177.06 463.42,174.00 472.58,170.94 481.92,167.89" fill="none" stroke="#6a787f" stroke-width="0.7" stroke-opacity="0.9" stroke-linejoin="round"/>
<polyline points="293.73,287.11 293.64,284.06 293.91,281.00 294.50,277.94 295.43,274.89 296.68,271.83 298.25,268.77 300.12,265.71 302.30,262.66 304.77,259.60 307.54,256.54 310.59,253.49 313.93,250.43 317.54,247.37 321.41,244.31 325.56,241.26 329.96,238.20 334.62,235.14 339.53,232.09 344.68,229.03 350.08,225.97 355.72,222.91 361.59,219.86 367.69,216.80 374.02,213.74 380.58,210.69 387.35,207.63 394.34,204.57 401.55,201.51 408.96,198.46 416.59,195.40 424.42,192.34 432.45,189.29 440.68,186.23 449.10,183.17 457.72,180.11 466.52,177.06 475.51,174.00 484.68,170.94 494.03,167.89" fill="none" stroke="#6a787f" stroke-width="0.7" stroke-opacity="0.9" stroke-linejoin="round"/>
<polyline points="304.80,287.11 304.77,284.06 305.08,281.00 305.72,277.94 306.69,274.89 307.98,271.83 309.59,268.77 311.50,265.71 313.72,262.66 316.23,259.60 319.04,256.54 322.12,253.49 325.49,250.43 329.13,247.37 333.04,244.31 337.21,241.26 341.65,238.20 346.33,235.14 351.27,232.09 356.45,229.03 361.87,225.97 367.53,222.91 373.43,219.86 379.55,216.80 385.90,213.74 392.48,210.69 399.27,207.63 406.28,204.57 413.50,201.51 420.94,198.46 428.58,195.40 436.42,192.34 444.47,189.29 452.71,186.23 461.15,183.17 469.78,180.11 478.60,177.06 487.60,174.00 496.79,170.94 506.15,167.89" fill="none" stroke="#6a787f" stroke-width="0.7" stroke-opacity="0.9" stroke-linejoin="round"/>
<polyline points="315.88,287.11 315.89,284.06 316.25,281.00 316.94,277.94 317.95,274.89 319.28,271.83 320.93,268.77 322.89,265.71 325.14,262.66 327.69,259.60 330.53,256.54 333.65,253.49 337.05,250.43 340.72,247.37 344.66,244.31 348.87,241.26 353.33,238.20 358.04,235.14 363.00,232.09 368.21,229.03 373.66,225.97 379.34,222.91 385.26,219.86 391.41,216.80 397.78,213.74 404.37,210.69 411.19,207.63 418.22,204.57 425.46,201.51 432.91,198.46 440.57,195.40 448.43,192.34 456.49,189.29 464.75,186.23 473.20,183.17 481.84,180.11 490.67,177.06 499.69,174.00 508.88,170.94 518.26,167.89" fill="none" stroke="#6a787f" stroke-width="0.7" stroke-opacity="0.9" stroke-linejoin="round"/>
<polyline points="326.95,287.11 327.01,284.06 327.42,281.00 328.15,277.94 329.21,274.89 330.58,271.83 332.27,268.77 334.27,265.71 336.56,262.66 339.15,259.60 342.02,256.54 345.18,253.49 348.61,250.43 352.32,247.37 356.29,244.31 360.52,241.26 365.01,238.20 369.75,235.14 374.74,232.09 379.97,229.03 385.44,225.97 391.15,222.91 397.09,219.86 403.26,216.80 409.65,213.74 416.27,210.69 423.10,207.63 430.15,204.57 437.41,201.51 444.87,198.46 452.55,195.40 460.42,192.34 468.50,189.29 476.77,186.23 485.24,183.17 493.90,180.11 502.74,177.06 511.77,174.00 520.98,170.94 530.36,167.89" fill="none" stroke="#6a787f" stroke-width="0.7" stroke-opacity="0.9" stroke-linejoin="round"/>
<polyline points="338.02,287.11 338.14,284.06 338.58,281.00 339.36,277.94 340.46,274.89 341.88,271.83 343.61,268.77 345.64,265.71 347.98,262.66 350.60,259.60 353.51,256.54 356.70,253.49 360.17,250.43 363.90,247.37 367.91,244.31 372.17,241.26 376.68,238.20 381.45,235.14 386.47,232.09 391.73,229.03 397.22,225.97 402.96,222.91 408.92,219.86 415.11,216.80 421.52,213.74 428.16,210.69 435.01,207.63 442.07,204.57 449.35,201.51 456.84,198.46 464.53,195.40 472.42,192.34 480.51,189.29 488.80,186.23 497.28,183.17 505.95,180.11 514.80,177.06 523.84,174.00 533.06,170.94 542.46,167.89" fill="none" stroke="#6a787f" stroke-width="0.7" stroke-opacity="0.9" stroke-linejoin="round"/>
<polyline points="349.10,287.11 349.26,284.06 349.75,281.00 350.57,277.94 351.72,274.89 353.18,271.83 354.95,268.77 357.02,265.71 359.39,262.66 362.05,259.60 365.00,256.54 368.22,253.49 371.72,250.43 375.49,247.37 379.52,244.31 383.81,241.26 388.36,238.20 393.15,235.14 398.20,232.09 403.48,229.03 409.00,225.97 414.76,222.91 420.74,219.86 426.95,216.80 433.39,213.74 440.04,210.69 446.91,207.63 454.00,204.57 461.29,201.51 468.79,198.46 476.50,195.40 484.41,192.34 492.51,189.29 500.82,186.23 509.31,183.17 517.99,180.11 526.86,177.06 535.91,174.00 545.15,170.94 554.55,167.89" fill="none" stroke="#6a787f" stroke-width="0.7" stroke-opacity="0.9" stroke-linejoin="round"/>
<polyline points="360.17,287.11 360.37,284.06 360.92,281.00 361.78,277.94 362.97,274.89 364.47,271.83 366.28,268.77 368.40,265.71 370.80,262.66 373.50,259.60 376.48,256.54 379.74,253.49 383.27,250.43 387.07,247.37 391.13,244.31 395.45,241.26 400.03,238.20 404.85,235.14 409.92,232.09 415.23,229.03 420.77,225.97 426.55,222.91 432.56,219.86 438.79,216.80 445.25,213.74 451.92,210.69 458.81,207.63 465.91,204.57 473.23,201.51 480.75,198.46 488.47,195.40 496.39,192.34 504.51,189.29 512.83,186.23 521.34,183.17 530.03,180.11 538.92,177.06 547.98,174.00 557.22,170.94 566.64,167.89" fill="none" stroke="#6a787f" stroke-width="0.7" stroke-opacity="0.9" stroke-linejoin="round"/>
<polyline points="371.24,287.11 371.49,284.06 372.08,281.00 372.99,277.94 374.22,274.89 375.77,271.83 377.62,268.77 379.77,265.71 382.21,262.66 384.95,259.60 387.96,256.54 391.25,253.49 394.82,250.43 398.65,247.37 402.74,244.31 407.09,241.26 411.70,238.20 416.55,235.14 421.64,232.09 426.97,229.03 432.54,225.97 438.34,222.91 444.37,219.86 450.63,216.80 457.10,213.74 463.80,210.69 470.71,207.63 477.83,204.57 485.16,201.51 492.69,198.46 500.43,195.40 508.37,192.34 516.51,189.29 524.84,186.23 533.36,183.17 542.07,180.11 550.97,177.06 560.04,174.00 569.30,170.94 578.73,167.89" fill="none" stroke="#6a787f" stroke-width="0.7" stroke-opacity="0.9" stroke-linejoin="round"/>
<polyline points="382.31,287.11 382.61,284.06 383.24,281.00 384.20,277.94 385.47,274.89 387.06,271.83 388.95,268.77 391.14,265.71 393.62,262.66 396.39,259.60 399.44,256.54 402.77,253.49 406.36,250.43 410.23,247.37 414.35,244.31 418.73,241.26 423.36,238.20 428.24,235.14 433.36,232.09 438.72,229.03 444.31,225.97 450.13,222.91 456.18,219.86 462.46,216.80 468.96,213.74 475.67,210.69 482.60,207.63 489.74,204.57 497.09,201.51 504.64,198.46 512.39,195.40 520.35,192.34 528.50,189.29 536.84,186.23 545.38,183.17 554.10,180.11 563.01,177.06 572.10,174.00 581.36,170.94 590.80,167.89" fill="none" stroke="#6a787f" stroke-width="0.7" stroke-opacity="0.9" stroke-linejoin="round"/>
<polyline points="393.38,287.11 393.72,284.06 394.40,281.00 395.40,277.94 396.72,274.89 398.35,271.83 400.28,268.77 402.51,265.71 405.03,262.66 407.83,259.60 410.92,256.54 414.28,253.49 417.91,250.43 421.80,247.37 425.95,244.31 430.36,241.26 435.02,238.20 439.92,235.14 445.07,232.09 450.45,229.03 456.07,225.97 461.92,222.91 467.99,219.86 474.29,216.80 480.80,213.74 487.54,210.69 494.48,207.63 501.64,204.57 509.01,201.51 516.58,198.46 524.35,195.40 532.32,192.34 540.48,189.29 548.84,186.23 557.39,183.17 566.13,180.11 575.05,177.06 584.15,174.00 593.43,170.94 602.88,167.89" fill="none" stroke="#6a787f" stroke-width="0.7" stroke-opacity="0.9" stroke-linejoin="round"/>
<polyline points="404.44,287.11 404.84,284.06 405.56,281.00 406.61,277.94 407.97,274.89 409.64,271.83 411.61,268.77 413.87,265.71 416.43,262.66 419.27,259.60 422.39,256.54 425.78,253.49 429.45,250.43 433.37,247.37 437.55,244.31 441.99,241.26 446.68,238.20 451.61,235.14 456.78,232.09 462.19,229.03 467.83,225.97 473.70,222.91 479.79,219.86 486.11,216.80 492.65,213.74 499.40,210.69 506.37,207.63 513.54,204.57 520.92,201.51 528.51,198.46 536.30,195.40 544.28,192.34 552.46,189.29 560.84,186.23 569.40,183.17 578.15,180.11 587.08,177.06 596.19,174.00 605.48,170.94 614.95,167.89" fill="none" stroke="#6a787f" stroke-width="0.7" stroke-opacity="0.9" stroke-linejoin="round"/>
<polyline points="415.51,287.11 415.95,284.06 416.72,281.00 417.81,277.94 419.21,274.89 420.92,271.83 422.93,268.77 425.24,265.71 427.83,262.66 430.71,259.60 433.86,256.54 437.29,253.49 440.98,250.43 444.94,247.37 449.15,244.31 453.62,241.26 458.33,238.20 463.29,235.14 468.48,232.09 473.92,229.03 479.58,225.97 485.47,222.91 491.59,219.86 497.93,216.80 504.49,213.74 511.26,210.69 518.24,207.63 525.44,204.57 532.84,201.51 540.44,198.46 548.24,195.40 556.24,192.34 564.44,189.29 572.83,186.23 581.40,183.17 590.16,180.11 599.11,177.06 608.23,174.00 617.54,170.94 627.01,167.89" fill="none" stroke="#6a787f" stroke-width="0.7" stroke-opacity="0.9" stroke-linejoin="round"/>
<polyline points="426.57,287.11 427.06,284.06 427.88,281.00 429.01,277.94 430.45,274.89 432.20,271.83 434.25,268.77 436.60,265.71 439.23,262.66 442.14,259.60 445.33,256.54 448.79,253.49 452.52,250.43 456.50,247.37 460.75,244.31 465.24,241.26 469.98,238.20 474.96,235.14 480.19,232.09 485.64,229.03 491.33,225.97 497.25,222.91 503.39,219.86 509.75,216.80 516.32,213.74 523.11,210.69 530.12,207.63 537.33,204.57 544.75,201.51 552.36,198.46 560.18,195.40 568.20,192.34 576.41,189.29 584.81,186.23 593.40,183.17 602.18,180.11 611.13,177.06 620.27,174.00 629.58,170.94 639.07,167.89" fill="none" stroke="#6a787f" stroke-width="0.7" stroke-opacity="0.9" stroke-linejoin="round"/>
<polyline points="437.64,287.11 438.17,284.06 439.03,281.00 440.21,277.94 441.69,274.89 443.49,271.83 445.58,268.77 447.96,265.71 450.62,262.66 453.57,259.60 456.80,256.54 460.29,253.49 464.05,250.43 468.06,247.37 472.34,244.31 476.86,241.26 481.63,238.20 486.64,235.14 491.88,232.09 497.37,229.03 503.08,225.97 509.01,222.91 515.18,219.86 521.56,216.80 528.15,213.74 534.96,210.69 541.99,207.63 549.21,204.57 556.65,201.51 564.28,198.46 572.12,195.40 580.15,192.34 588.37,189.29 596.79,186.23 605.39,183.17 614.18,180.11 623.15,177.06 632.30,174.00 641.62,170.94 651.12,167.89" fill="none" stroke="#6a787f" stroke-width="0.7" stroke-opacity="0.9" stroke-linejoin="round"/>
<polyline points="448.70,287.11 449.28,284.06 450.18,281.00 451.40,277.94 452.93,274.89 454.76,271.83 456.89,268.77 459.31,265.71 462.02,262.66 465.00,259.60 468.26,256.54 471.78,253.49 475.57,250.43 479.62,247.37 483.92,244.31 488.47,241.26 493.27,238.20 498.30,235.14 503.58,232.09 509.08,229.03 514.82,225.97 520.78,222.91 526.96,219.86 533.36,216.80 539.98,213.74 546.81,210.69 553.85,207.63 561.10,204.57 568.55,201.51 576.20,198.46 584.05,195.40 592.10,192.34 600.33,189.29 608.76,186.23 617.38,183.17 626.18,180.11 635.16,177.06 644.32,174.00 653.66,170.94 663.17,167.89" fill="none" stroke="#6a787f" stroke-width="0.7" stroke-opacity="0.9" stroke-linejoin="round"/>
<polyline points="459.76,287.11 460.38,284.06 461.33,281.00 462.60,277.94 464.17,274.89 466.04,271.83 468.21,268.77 470.67,265.71 473.41,262.66 476.43,259.60 479.72,256.54 483.28,253.49 487.10,250.43 491.17,247.37 495.51,244.31 500.08,241.26 504.91,238.20 509.97,235.14 515.27,232.09 520.80,229.03 526.56,225.97 532.54,222.91 538.74,219.86 545.16,216.80 551.80,213.74 558.65,210.69 565.71,207.63 572.97,204.57 580.44,201.51 588.11,198.46 595.98,195.40 604.04,192.34 612.29,189.29 620.73,186.23 629.36,183.17 638.18,180.11 647.17,177.06 656.34,174.00 665.69,170.94 666.00,167.89" fill="none" stroke="#6a787f" stroke-width="0.7" stroke-opacity="0.9" stroke-linejoin="round"/>
<polyline points="470.81,287.11 471.49,284.06 472.48,281.00 473.79,277.94 475.40,274.89 477.32,271.83 479.52,268.77 482.02,265.71 484.79,262.66 487.85,259.60 491.17,256.54 494.76,253.49 498.62,250.43 502.73,247.37 507.09,244.31 511.69,241.26 516.54,238.20 521.63,235.14 526.95,232.09 532.51,229.03 538.29,225.97 544.29,222.91 550.52,219.86 556.96,216.80 563.62,213.74 570.49,210.69 577.56,207.63 584.84,204.57 592.33,201.51 600.01,198.46 607.90,195.40 615.97,192.34 624.24,189.29 632.70,186.23 641.34,183.17 650.17,180.11 659.17,177.06 666.00,174.00 666.00,170.94 666.00,167.89" fill="none" stroke="#6a787f" stroke-width="0.7" stroke-opacity="0.9" stroke-linejoin="round"/>
<polyline points="481.87,287.11 482.59,284.06 483.63,281.00 484.98,277.94 486.63,274.89 488.59,271.83 490.83,268.77 493.37,265.71 496.18,262.66 499.27,259.60 502.63,256.54 506.25,253.49 510.13,250.43 514.27,247.37 518.66,244.31 523.30,241.26 528.17,238.20 533.29,235.14 538.63,232.09 544.21,229.03 550.02,225.97 556.04,222.91 562.29,219.86 568.75,216.80 575.43,213.74 582.32,210.69 589.41,207.63 596.71,204.57 604.21,201.51 611.91,198.46 619.81,195.40 627.90,192.34 636.18,189.29 644.66,186.23 653.31,183.17 662.15,180.11 666.00,177.06 666.00,174.00 666.00,170.94 666.00,167.89" fill="none" stroke="#6a787f" stroke-width="0.7" stroke-opacity="0.9" stroke-linejoin="round"/>
<polyline points="492.93,287.11 493.69,284.06 494.77,281.00 496.17,277.94 497.86,274.89 499.86,271.83 502.14,268.77 504.71,265.71 507.56,262.66 510.68,259.60 514.08,256.54 517.73,253.49 521.65,250.43 525.82,247.37 530.23,244.31 534.90,241.26 539.80,238.20 544.94,235.14 550.31,232.09 555.91,229.03 561.74,225.97 567.79,222.91 574.06,219.86 580.54,216.80 587.24,213.74 594.14,210.69 601.26,207.63 608.57,204.57 616.09,201.51 623.81,198.46 631.72,195.40 639.83,192.34 648.12,189.29 656.61,186.23 665.28,183.17 666.00,180.11 666.00,177.06 666.00,174.00 666.00,170.94 666.00,167.89" fill="none" stroke="#6a787f" stroke-width="0.7" stroke-opacity="0.9" stroke-linejoin="round"/>
<polyline points="503.98,287.11 504.79,284.06 505.92,281.00 507.35,277.94 509.09,274.89 511.12,271.83 513.45,268.77 516.05,265.71 518.94,262.66 522.10,259.60 525.52,256.54 529.21,253.49 533.16,250.43 537.36,247.37 541.80,244.31 546.49,241.26 551.42,238.20 556.59,235.14 561.99,232.09 567.61,229.03 573.46,225.97 579.53,222.91 585.82,219.86 592.33,216.80 599.04,213.74 605.97,210.69 613.10,207.63 620.43,204.57 627.97,201.51 635.70,198.46 643.63,195.40 651.75,192.34 660.06,189.29 666.00,186.23 666.00,183.17 666.00,180.11 666.00,177.06 666.00,174.00 666.00,170.94 666.00,167.89" fill="none" stroke="#6a787f" stroke-width="0.7" stroke-opacity="0.9" stroke-linejoin="round"/>
<polyline points="515.03,287.11 515.89,284.06 517.06,281.00 518.54,277.94 520.31,274.89 522.39,271.83 524.75,268.77 527.39,265.71 530.32,262.66 533.51,259.60 536.97,256.54 540.69,253.49 544.66,250.43 548.89,247.37 553.37,244.31 558.09,241.26 563.04,238.20 568.23,235.14 573.66,232.09 579.30,229.03 585.18,225.97 591.27,222.91 597.58,219.86 604.10,216.80 610.84,213.74 617.78,210.69 624.93,207.63 632.28,204.57 639.83,201.51 647.58,198.46 655.53,195.40 663.66,192.34 666.00,189.29 666.00,186.23 666.00,183.17 666.00,180.11 666.00,177.06 666.00,174.00 666.00,170.94 666.00,167.89" fill="none" stroke="#6a787f" stroke-width="0.7" stroke-opacity="0.9" stroke-linejoin="round"/>
<polyline points="526.08,287.11 526.98,284.06 528.20,281.00 529.72,277.94 531.54,274.89 533.65,271.83 536.05,268.77 538.73,265.71 541.69,262.66 544.92,259.60 548.41,256.54 552.16,253.49 556.17,250.43 560.43,247.37 564.93,244.31 569.67,241.26 574.66,238.20 579.87,235.14 585.32,232.09 590.99,229.03 596.89,225.97 603.00,222.91 609.33,219.86 615.88,216.80 622.63,213.74 629.59,210.69 636.76,207.63 644.13,204.57 651.70,201.51 659.46,198.46 666.00,195.40 666.00,192.34 666.00,189.29 666.00,186.23 666.00,183.17 666.00,180.11 666.00,177.06 666.00,174.00 666.00,170.94 666.00,167.89" fill="none" stroke="#6a787f" stroke-width="0.7" stroke-opacity="0.9" stroke-linejoin="round"/>
<polyline points="537.12,287.11 538.07,284.06 539.33,281.00 540.90,277.94 542.76,274.89 544.91,271.83 547.35,268.77 550.06,265.71 553.06,262.66 556.32,259.60 559.84,256.54 563.63,253.49 567.67,250.43 571.95,247.37 576.49,244.31 581.26,241.26 586.27,238.20 591.51,235.14 596.98,232.09 602.68,229.03 608.60,225.97 614.73,222.91 621.08,219.86 627.65,216.80 634.42,213.74 641.40,210.69 648.59,207.63 655.97,204.57 663.56,201.51 666.00,198.46 666.00,195.40 666.00,192.34 666.00,189.29 666.00,186.23 666.00,183.17 666.00,180.11 666.00,177.06 666.00,174.00 666.00,170.94 666.00,167.89" fill="none" stroke="#6a787f" stroke-width="0.7" stroke-opacity="0.9" stroke-linejoin="round"/>
<polyline points="548.17,287.11 549.16,284.06 550.47,281.00 552.07,277.94 553.97,274.89 556.16,271.83 558.64,268.77 561.40,265.71 564.42,262.66 567.72,259.60 571.28,256.54 575.09,253.49 579.16,250.43 583.48,247.37 588.04,244.31 592.84,241.26 597.88,238.20 603.14,235.14 608.64,232.09 614.36,229.03 620.30,225.97 626.46,222.91 632.83,219.86 639.41,216.80 646.21,213.74 653.20,210.69 660.41,207.63 666.00,204.57 666.00,201.51 666.00,198.46 666.00,195.40 666.00,192.34 666.00,189.29 666.00,186.23 666.00,183.17 666.00,180.11 666.00,177.06 666.00,174.00 666.00,170.94 666.00,167.89" fill="none" stroke="#6a787f" stroke-width="0.7" stroke-opacity="0.9" stroke-linejoin="round"/>
<polyline points="490.9,196.6 493.5,196.0 496.7,195.4 500.0,195.1 503.5,195.0 507.0,195.4 510.3,196.1 513.2,197.2 515.7,198.8 518.0,201.0 519.8,203.5 521.2,206.5 521.8,209.6 521.7,212.3 521.1,215.0 518.4,220.4 514.3,225.8 508.9,231.2 503.5,236.7 497.4,242.1 491.3,247.5 485.9,254.3 483.2,258.0 481.8,260.4 481.3,263.4 482.6,265.3 484.5,266.6 485.6,268.2 486.5,269.9" fill="none" stroke="#ff0000" stroke-width="4.6" stroke-linejoin="round" stroke-linecap="square"/>
<path d="M488.50,198.52 L493.30,198.52 L490.90,193.72 Z" fill="#ff0000"/>
<path d="M491.10,197.92 L495.90,197.92 L493.50,193.12 Z" fill="#ff0000"/>
<path d="M494.30,197.32 L499.10,197.32 L496.70,192.52 Z" fill="#ff0000"/>
<path d="M497.60,197.02 L502.40,197.02 L500.00,192.22 Z" fill="#ff0000"/>
<path d="M501.10,196.92 L505.90,196.92 L503.50,192.12 Z" fill="#ff0000"/>
<path d="M504.60,197.32 L509.40,197.32 L507.00,192.52 Z" fill="#ff0000"/>
<path d="M507.90,198.02 L512.70,198.02 L510.30,193.22 Z" fill="#ff0000"/>
<path d="M510.80,199.12 L515.60,199.12 L513.20,194.32 Z" fill="#ff0000"/>
<path d="M513.30,200.72 L518.10,200.72 L515.70,195.92 Z" fill="#ff0000"/>
<polyline points="490.9,196.6 493.5,196.0 496.7,195.4 500.0,195.1 503.5,195.0 507.0,195.4 510.3,196.1 513.2,197.2 515.7,198.8 518.0,201.0 519.8,203.5 521.2,206.5 521.8,209.6 521.7,212.3 521.1,215.0 518.4,220.4 514.3,225.8 508.9,231.2 503.5,236.7 497.4,242.1 491.3,247.5 485.9,254.3 483.2,258.0 481.8,260.4 481.3,263.4 482.6,265.3 484.5,266.6 485.6,268.2 486.5,269.9" fill="none" stroke="#ff00ff" stroke-width="2.9" stroke-linejoin="round" stroke-linecap="round"/>
</g>
<line x1="430.85" y1="174.00" x2="541.15" y2="174.00" stroke="#ff00ff" stroke-width="2.3" />
<line x1="432.00" y1="174.00" x2="432.00" y2="168.50" stroke="#ff00ff" stroke-width="1.6" />
<line x1="435.60" y1="174.00" x2="435.60" y2="171.20" stroke="#ff00ff" stroke-width="1.4" />
<line x1="439.20" y1="174.00" x2="439.20" y2="171.20" stroke="#ff00ff" stroke-width="1.4" />
<line x1="442.80" y1="174.00" x2="442.80" y2="171.20" stroke="#ff00ff" stroke-width="1.4" />
<line x1="446.40" y1="174.00" x2="446.40" y2="171.20" stroke="#ff00ff" stroke-width="1.4" />
<line x1="450.00" y1="174.00" x2="450.00" y2="168.50" stroke="#ff00ff" stroke-width="1.6" />
<line x1="453.60" y1="174.00" x2="453.60" y2="171.20" stroke="#ff00ff" stroke-width="1.4" />
<line x1="457.20" y1="174.00" x2="457.20" y2="171.20" stroke="#ff00ff" stroke-width="1.4" />
<line x1="460.80" y1="174.00" x2="460.80" y2="171.20" stroke="#ff00ff" stroke-width="1.4" />
<line x1="464.40" y1="174.00" x2="464.40" y2="171.20" stroke="#ff00ff" stroke-width="1.4" />
<line x1="468.00" y1="174.00" x2="468.00" y2="168.50" stroke="#ff00ff" stroke-width="1.6" />
<line x1="471.60" y1="174.00" x2="471.60" y2="171.20" stroke="#ff00ff" stroke-width="1.4" />
<line x1="475.20" y1="174.00" x2="475.20" y2="171.20" stroke="#ff00ff" stroke-width="1.4" />
<line x1="478.80" y1="174.00" x2="478.80" y2="171.20" stroke="#ff00ff" stroke-width="1.4" />
<line x1="482.40" y1="174.00" x2="482.40" y2="171.20" stroke="#ff00ff" stroke-width="1.4" />
<line x1="486.00" y1="174.00" x2="486.00" y2="168.50" stroke="#ff00ff" stroke-width="1.6" />
<line x1="489.60" y1="174.00" x2="489.60" y2="171.20" stroke="#ff00ff" stroke-width="1.4" />
<line x1="493.20" y1="174.00" x2="493.20" y2="171.20" stroke="#ff00ff" stroke-width="1.4" />
<line x1="496.80" y1="174.00" x2="496.80" y2="171.20" stroke="#ff00ff" stroke-width="1.4" />
<line x1="500.40" y1="174.00" x2="500.40" y2="171.20" stroke="#ff00ff" stroke-width="1.4" />
<line x1="504.00" y1="174.00" x2="504.00" y2="168.50" stroke="#ff00ff" stroke-width="1.6" />
<line x1="507.60" y1="174.00" x2="507.60" y2="171.20" stroke="#ff00ff" stroke-width="1.4" />
<line x1="511.20" y1="174.00" x2="511.20" y2="171.20" stroke="#ff00ff" stroke-width="1.4" />
<line x1="514.80" y1="174.00" x2="514.80" y2="171.20" stroke="#ff00ff" stroke-width="1.4" />
<line x1="518.40" y1="174.00" x2="518.40" y2="171.20" stroke="#ff00ff" stroke-width="1.4" />
<line x1="522.00" y1="174.00" x2="522.00" y2="168.50" stroke="#ff00ff" stroke-width="1.6" />
<line x1="525.60" y1="174.00" x2="525.60" y2="171.20" stroke="#ff00ff" stroke-width="1.4" />
<line x1="529.20" y1="174.00" x2="529.20" y2="171.20" stroke="#ff00ff" stroke-width="1.4" />
<line x1="532.80" y1="174.00" x2="532.80" y2="171.20" stroke="#ff00ff" stroke-width="1.4" />
<line x1="536.40" y1="174.00" x2="536.40" y2="171.20" stroke="#ff00ff" stroke-width="1.4" />
<line x1="540.00" y1="174.00" x2="540.00" y2="168.50" stroke="#ff00ff" stroke-width="1.6" />
<text x="432.00" y="162.80" fill="#ff00ff" stroke="#ff00ff" text-anchor="middle" >32</text>
<text x="450.00" y="162.80" fill="#ff00ff" stroke="#ff00ff" text-anchor="middle" >33</text>
<text x="468.00" y="162.80" fill="#ff00ff" stroke="#ff00ff" text-anchor="middle" >34</text>
<text x="486.00" y="162.80" fill="#ff00ff" stroke="#ff00ff" text-anchor="middle" >35</text>
<text x="504.00" y="162.80" fill="#ff00ff" stroke="#ff00ff" text-anchor="middle" >36</text>
<text x="522.00" y="162.80" fill="#ff00ff" stroke="#ff00ff" text-anchor="middle" >37</text>
<text x="540.00" y="162.80" fill="#ff00ff" stroke="#ff00ff" text-anchor="middle" >38</text>
<line x1="430.85" y1="281.00" x2="541.15" y2="281.00" stroke="#ff00ff" stroke-width="2.3" />
<line x1="432.00" y1="281.00" x2="432.00" y2="286.50" stroke="#ff00ff" stroke-width="1.6" />
<line x1="435.60" y1="281.00" x2="435.60" y2="283.80" stroke="#ff00ff" stroke-width="1.4" />
<line x1="439.20" y1="281.00" x2="439.20" y2="283.80" stroke="#ff00ff" stroke-width="1.4" />
<line x1="442.80" y1="281.00" x2="442.80" y2="283.80" stroke="#ff00ff" stroke-width="1.4" />
<line x1="446.40" y1="281.00" x2="446.40" y2="283.80" stroke="#ff00ff" stroke-width="1.4" />
<line x1="450.00" y1="281.00" x2="450.00" y2="286.50" stroke="#ff00ff" stroke-width="1.6" />
<line x1="453.60" y1="281.00" x2="453.60" y2="283.80" stroke="#ff00ff" stroke-width="1.4" />
<line x1="457.20" y1="281.00" x2="457.20" y2="283.80" stroke="#ff00ff" stroke-width="1.4" />
<line x1="460.80" y1="281.00" x2="460.80" y2="283.80" stroke="#ff00ff" stroke-width="1.4" />
<line x1="464.40" y1="281.00" x2="464.40" y2="283.80" stroke="#ff00ff" stroke-width="1.4" />
<line x1="468.00" y1="281.00" x2="468.00" y2="286.50" stroke="#ff00ff" stroke-width="1.6" />
<line x1="471.60" y1="281.00" x2="471.60" y2="283.80" stroke="#ff00ff" stroke-width="1.4" />
<line x1="475.20" y1="281.00" x2="475.20" y2="283.80" stroke="#ff00ff" stroke-width="1.4" />
<line x1="478.80" y1="281.00" x2="478.80" y2="283.80" stroke="#ff00ff" stroke-width="1.4" />
<line x1="482.40" y1="281.00" x2="482.40" y2="283.80" stroke="#ff00ff" stroke-width="1.4" />
<line x1="486.00" y1="281.00" x2="486.00" y2="286.50" stroke="#ff00ff" stroke-width="1.6" />
<line x1="489.60" y1="281.00" x2="489.60" y2="283.80" stroke="#ff00ff" stroke-width="1.4" />
<line x1="493.20" y1="281.00" x2="493.20" y2="283.80" stroke="#ff00ff" stroke-width="1.4" />
<line x1="496.80" y1="281.00" x2="496.80" y2="283.80" stroke="#ff00ff" stroke-width="1.4" />
<line x1="500.40" y1="281.00" x2="500.40" y2="283.80" stroke="#ff00ff" stroke-width="1.4" />
<line x1="504.00" y1="281.00" x2="504.00" y2="286.50" stroke="#ff00ff" stroke-width="1.6" />
<line x1="507.60" y1="281.00" x2="507.60" y2="283.80" stroke="#ff00ff" stroke-width="1.4" />
<line x1="511.20" y1="281.00" x2="511.20" y2="283.80" stroke="#ff00ff" stroke-width="1.4" />
<line x1="514.80" y1="281.00" x2="514.80" y2="283.80" stroke="#ff00ff" stroke-width="1.4" />
<line x1="518.40" y1="281.00" x2="518.40" y2="283.80" stroke="#ff00ff" stroke-width="1.4" />
<line x1="522.00" y1="281.00" x2="522.00" y2="286.50" stroke="#ff00ff" stroke-width="1.6" />
<line x1="525.60" y1="281.00" x2="525.60" y2="283.80" stroke="#ff00ff" stroke-width="1.4" />
<line x1="529.20" y1="281.00" x2="529.20" y2="283.80" stroke="#ff00ff" stroke-width="1.4" />
<line x1="532.80" y1="281.00" x2="532.80" y2="283.80" stroke="#ff00ff" stroke-width="1.4" />
<line x1="536.40" y1="281.00" x2="536.40" y2="283.80" stroke="#ff00ff" stroke-width="1.4" />
<line x1="540.00" y1="281.00" x2="540.00" y2="286.50" stroke="#ff00ff" stroke-width="1.6" />
<line x1="432.00" y1="172.85" x2="432.00" y2="282.15" stroke="#ff00ff" stroke-width="2.3" />
<line x1="432.00" y1="174.00" x2="426.50" y2="174.00" stroke="#ff00ff" stroke-width="1.4" />
<line x1="432.00" y1="177.06" x2="429.20" y2="177.06" stroke="#ff00ff" stroke-width="1.35" />
<line x1="432.00" y1="180.11" x2="429.20" y2="180.11" stroke="#ff00ff" stroke-width="1.35" />
<line x1="432.00" y1="183.17" x2="429.20" y2="183.17" stroke="#ff00ff" stroke-width="1.35" />
<line x1="432.00" y1="186.23" x2="429.20" y2="186.23" stroke="#ff00ff" stroke-width="1.35" />
<line x1="432.00" y1="189.29" x2="426.50" y2="189.29" stroke="#ff00ff" stroke-width="1.4" />
<line x1="432.00" y1="192.34" x2="429.20" y2="192.34" stroke="#ff00ff" stroke-width="1.35" />
<line x1="432.00" y1="195.40" x2="429.20" y2="195.40" stroke="#ff00ff" stroke-width="1.35" />
<line x1="432.00" y1="198.46" x2="429.20" y2="198.46" stroke="#ff00ff" stroke-width="1.35" />
<line x1="432.00" y1="201.51" x2="429.20" y2="201.51" stroke="#ff00ff" stroke-width="1.35" />
<line x1="432.00" y1="204.57" x2="426.50" y2="204.57" stroke="#ff00ff" stroke-width="1.4" />
<line x1="432.00" y1="207.63" x2="429.20" y2="207.63" stroke="#ff00ff" stroke-width="1.35" />
<line x1="432.00" y1="210.69" x2="429.20" y2="210.69" stroke="#ff00ff" stroke-width="1.35" />
<line x1="432.00" y1="213.74" x2="429.20" y2="213.74" stroke="#ff00ff" stroke-width="1.35" />
<line x1="432.00" y1="216.80" x2="429.20" y2="216.80" stroke="#ff00ff" stroke-width="1.35" />
<line x1="432.00" y1="219.86" x2="426.50" y2="219.86" stroke="#ff00ff" stroke-width="1.4" />
<line x1="432.00" y1="222.91" x2="429.20" y2="222.91" stroke="#ff00ff" stroke-width="1.35" />
<line x1="432.00" y1="225.97" x2="429.20" y2="225.97" stroke="#ff00ff" stroke-width="1.35" />
<line x1="432.00" y1="229.03" x2="429.20" y2="229.03" stroke="#ff00ff" stroke-width="1.35" />
<line x1="432.00" y1="232.09" x2="429.20" y2="232.09" stroke="#ff00ff" stroke-width="1.35" />
<line x1="432.00" y1="235.14" x2="426.50" y2="235.14" stroke="#ff00ff" stroke-width="1.4" />
<line x1="432.00" y1="238.20" x2="429.20" y2="238.20" stroke="#ff00ff" stroke-width="1.35" />
<line x1="432.00" y1="241.26" x2="429.20" y2="241.26" stroke="#ff00ff" stroke-width="1.35" />
<line x1="432.00" y1="244.31" x2="429.20" y2="244.31" stroke="#ff00ff" stroke-width="1.35" />
<line x1="432.00" y1="247.37" x2="429.20" y2="247.37" stroke="#ff00ff" stroke-width="1.35" />
<line x1="432.00" y1="250.43" x2="426.50" y2="250.43" stroke="#ff00ff" stroke-width="1.4" />
<line x1="432.00" y1="253.49" x2="429.20" y2="253.49" stroke="#ff00ff" stroke-width="1.35" />
<line x1="432.00" y1="256.54" x2="429.20" y2="256.54" stroke="#ff00ff" stroke-width="1.35" />
<line x1="432.00" y1="259.60" x2="429.20" y2="259.60" stroke="#ff00ff" stroke-width="1.35" />
<line x1="432.00" y1="262.66" x2="429.20" y2="262.66" stroke="#ff00ff" stroke-width="1.35" />
<line x1="432.00" y1="265.71" x2="426.50" y2="265.71" stroke="#ff00ff" stroke-width="1.4" />
<line x1="432.00" y1="268.77" x2="429.20" y2="268.77" stroke="#ff00ff" stroke-width="1.35" />
<line x1="432.00" y1="271.83" x2="429.20" y2="271.83" stroke="#ff00ff" stroke-width="1.35" />
<line x1="432.00" y1="274.89" x2="429.20" y2="274.89" stroke="#ff00ff" stroke-width="1.35" />
<line x1="432.00" y1="277.94" x2="429.20" y2="277.94" stroke="#ff00ff" stroke-width="1.35" />
<line x1="432.00" y1="281.00" x2="426.50" y2="281.00" stroke="#ff00ff" stroke-width="1.4" />
<line x1="540.00" y1="172.85" x2="540.00" y2="282.15" stroke="#ff00ff" stroke-width="2.3" />
<line x1="540.00" y1="174.00" x2="545.50" y2="174.00" stroke="#ff00ff" stroke-width="1.4" />
<line x1="540.00" y1="177.06" x2="542.80" y2="177.06" stroke="#ff00ff" stroke-width="1.35" />
<line x1="540.00" y1="180.11" x2="542.80" y2="180.11" stroke="#ff00ff" stroke-width="1.35" />
<line x1="540.00" y1="183.17" x2="542.80" y2="183.17" stroke="#ff00ff" stroke-width="1.35" />
<line x1="540.00" y1="186.23" x2="542.80" y2="186.23" stroke="#ff00ff" stroke-width="1.35" />
<line x1="540.00" y1="189.29" x2="545.50" y2="189.29" stroke="#ff00ff" stroke-width="1.4" />
<line x1="540.00" y1="192.34" x2="542.80" y2="192.34" stroke="#ff00ff" stroke-width="1.35" />
<line x1="540.00" y1="195.40" x2="542.80" y2="195.40" stroke="#ff00ff" stroke-width="1.35" />
<line x1="540.00" y1="198.46" x2="542.80" y2="198.46" stroke="#ff00ff" stroke-width="1.35" />
<line x1="540.00" y1="201.51" x2="542.80" y2="201.51" stroke="#ff00ff" stroke-width="1.35" />
<line x1="540.00" y1="204.57" x2="545.50" y2="204.57" stroke="#ff00ff" stroke-width="1.4" />
<line x1="540.00" y1="207.63" x2="542.80" y2="207.63" stroke="#ff00ff" stroke-width="1.35" />
<line x1="540.00" y1="210.69" x2="542.80" y2="210.69" stroke="#ff00ff" stroke-width="1.35" />
<line x1="540.00" y1="213.74" x2="542.80" y2="213.74" stroke="#ff00ff" stroke-width="1.35" />
<line x1="540.00" y1="216.80" x2="542.80" y2="216.80" stroke="#ff00ff" stroke-width="1.35" />
<line x1="540.00" y1="219.86" x2="545.50" y2="219.86" stroke="#ff00ff" stroke-width="1.4" />
<line x1="540.00" y1="222.91" x2="542.80" y2="222.91" stroke="#ff00ff" stroke-width="1.35" />
<line x1="540.00" y1="225.97" x2="542.80" y2="225.97" stroke="#ff00ff" stroke-width="1.35" />
<line x1="540.00" y1="229.03" x2="542.80" y2="229.03" stroke="#ff00ff" stroke-width="1.35" />
<line x1="540.00" y1="232.09" x2="542.80" y2="232.09" stroke="#ff00ff" stroke-width="1.35" />
<line x1="540.00" y1="235.14" x2="545.50" y2="235.14" stroke="#ff00ff" stroke-width="1.4" />
<line x1="540.00" y1="238.20" x2="542.80" y2="238.20" stroke="#ff00ff" stroke-width="1.35" />
<line x1="540.00" y1="241.26" x2="542.80" y2="241.26" stroke="#ff00ff" stroke-width="1.35" />
<line x1="540.00" y1="244.31" x2="542.80" y2="244.31" stroke="#ff00ff" stroke-width="1.35" />
<line x1="540.00" y1="247.37" x2="542.80" y2="247.37" stroke="#ff00ff" stroke-width="1.35" />
<line x1="540.00" y1="250.43" x2="545.50" y2="250.43" stroke="#ff00ff" stroke-width="1.4" />
<line x1="540.00" y1="253.49" x2="542.80" y2="253.49" stroke="#ff00ff" stroke-width="1.35" />
<line x1="540.00" y1="256.54" x2="542.80" y2="256.54" stroke="#ff00ff" stroke-width="1.35" />
<line x1="540.00" y1="259.60" x2="542.80" y2="259.60" stroke="#ff00ff" stroke-width="1.35" />
<line x1="540.00" y1="262.66" x2="542.80" y2="262.66" stroke="#ff00ff" stroke-width="1.35" />
<line x1="540.00" y1="265.71" x2="545.50" y2="265.71" stroke="#ff00ff" stroke-width="1.4" />
<line x1="540.00" y1="268.77" x2="542.80" y2="268.77" stroke="#ff00ff" stroke-width="1.35" />
<line x1="540.00" y1="271.83" x2="542.80" y2="271.83" stroke="#ff00ff" stroke-width="1.35" />
<line x1="540.00" y1="274.89" x2="542.80" y2="274.89" stroke="#ff00ff" stroke-width="1.35" />
<line x1="540.00" y1="277.94" x2="542.80" y2="277.94" stroke="#ff00ff" stroke-width="1.35" />
<line x1="540.00" y1="281.00" x2="545.50" y2="281.00" stroke="#ff00ff" stroke-width="1.4" />
<text x="565.00" y="286.30" fill="#ff00ff" stroke="#ff00ff" text-anchor="end" >0</text>
<text x="565.00" y="271.01" fill="#ff00ff" stroke="#ff00ff" text-anchor="end" >5</text>
<text x="565.00" y="255.73" fill="#ff00ff" stroke="#ff00ff" text-anchor="end" >10</text>
<text x="565.00" y="240.44" fill="#ff00ff" stroke="#ff00ff" text-anchor="end" >15</text>
<text x="565.00" y="225.16" fill="#ff00ff" stroke="#ff00ff" text-anchor="end" >20</text>
<text x="565.00" y="209.87" fill="#ff00ff" stroke="#ff00ff" text-anchor="end" >25</text>
<text x="565.00" y="194.59" fill="#ff00ff" stroke="#ff00ff" text-anchor="end" >30</text>
<text x="565.00" y="179.30" fill="#ff00ff" stroke="#ff00ff" text-anchor="end" >35</text>
<text x="486.00" y="146.30" fill="#ff00ff" stroke="#ff00ff" text-anchor="middle" >Salinity (PSU)</text>
<text transform="translate(582.5,228) rotate(-90)" fill="#ff00ff" stroke="#ff00ff" text-anchor="middle">Insitu Temperature (˚C)</text>
<text x="432" y="317.9" fill="#000" stroke="#000" style="white-space:pre">Float:  19443</text>
<text x="432" y="332.1" fill="#000" stroke="#000" style="white-space:pre">Profile:  171</text>
<text x="432" y="346.3" fill="#000" stroke="#000" style="white-space:pre">Location:  13.4˚N  -72.7˚E</text>
<text x="432" y="360.5" fill="#000" stroke="#000" style="white-space:pre">Date:  01/04/2026</text>
<clipPath id="cmap"><path d="M483.9,423.4L484.2,423.7L484.5,424.0L484.9,424.3L485.4,424.6L485.9,424.9L486.5,425.2L487.1,425.5L487.8,425.7L488.6,426.0L489.3,426.2L490.2,426.4L491.0,426.7L491.9,426.9L492.9,427.0L493.9,427.2L494.9,427.4L495.9,427.5L497.0,427.7L498.1,427.8L499.2,427.9L500.3,428.0L501.5,428.1L502.7,428.2L503.8,428.3L505.0,428.4L506.2,428.4L507.5,428.4L508.7,428.5L509.9,428.5L511.1,428.5L512.4,428.5L513.6,428.5L514.8,428.4L516.1,428.4L517.3,428.4L518.5,428.3L519.6,428.2L520.8,428.1L522.0,428.0L523.1,427.9L524.2,427.8L525.3,427.7L526.4,427.5L527.4,427.4L528.4,427.2L529.4,427.0L530.4,426.9L531.3,426.7L532.1,426.4L533.0,426.2L533.7,426.0L534.5,425.7L535.2,425.5L535.8,425.2L536.4,424.9L536.9,424.6L537.4,424.3L537.8,424.0L538.1,423.7L538.4,423.4L542.9,424.3L547.3,425.3L551.6,426.5L555.7,427.8L559.6,429.2L563.4,430.7L567.0,432.4L570.3,434.2L573.5,436.0L576.4,438.0L579.1,440.0L581.5,442.1L583.6,444.3L585.5,446.5L587.1,448.8L588.4,451.2L589.5,453.5L590.2,455.9L590.7,458.4L590.8,460.8L590.7,463.2L590.2,465.7L589.5,468.1L588.4,470.4L587.1,472.8L585.5,475.1L583.6,477.3L581.5,479.5L579.1,481.6L576.4,483.6L573.5,485.6L570.3,487.4L567.0,489.2L563.4,490.9L559.6,492.4L555.7,493.8L551.6,495.1L547.3,496.3L542.9,497.3L538.4,498.2L538.1,497.9L537.8,497.6L537.4,497.3L536.9,497.0L536.4,496.7L535.8,496.4L535.2,496.1L534.5,495.9L533.7,495.6L533.0,495.4L532.1,495.2L531.3,494.9L530.4,494.7L529.4,494.6L528.4,494.4L527.4,494.2L526.4,494.1L525.3,493.9L524.2,493.8L523.1,493.7L522.0,493.6L520.8,493.5L519.6,493.4L518.5,493.3L517.3,493.2L516.1,493.2L514.8,493.2L513.6,493.1L512.4,493.1L511.1,493.1L509.9,493.1L508.7,493.1L507.5,493.2L506.2,493.2L505.0,493.2L503.8,493.3L502.7,493.4L501.5,493.5L500.3,493.6L499.2,493.7L498.1,493.8L497.0,493.9L495.9,494.1L494.9,494.2L493.9,494.4L492.9,494.6L491.9,494.7L491.0,494.9L490.2,495.2L489.3,495.4L488.6,495.6L487.8,495.9L487.1,496.1L486.5,496.4L485.9,496.7L485.4,497.0L484.9,497.3L484.5,497.6L484.2,497.9L483.9,498.2L479.4,497.3L475.0,496.3L470.7,495.1L466.6,493.8L462.7,492.4L458.9,490.9L455.3,489.2L452.0,487.4L448.8,485.6L445.9,483.6L443.2,481.6L440.8,479.5L438.7,477.3L436.8,475.1L435.2,472.8L433.9,470.4L432.8,468.1L432.1,465.7L431.6,463.2L431.5,460.8L431.6,458.4L432.1,455.9L432.8,453.5L433.9,451.2L435.2,448.8L436.8,446.5L438.7,444.3L440.8,442.1L443.2,440.0L445.9,438.0L448.8,436.0L452.0,434.2L455.3,432.4L458.9,430.7L462.7,429.2L466.6,427.8L470.7,426.5L475.0,425.3L479.4,424.3Z"/></clipPath>
<path d="M483.9,423.4L484.2,423.7L484.5,424.0L484.9,424.3L485.4,424.6L485.9,424.9L486.5,425.2L487.1,425.5L487.8,425.7L488.6,426.0L489.3,426.2L490.2,426.4L491.0,426.7L491.9,426.9L492.9,427.0L493.9,427.2L494.9,427.4L495.9,427.5L497.0,427.7L498.1,427.8L499.2,427.9L500.3,428.0L501.5,428.1L502.7,428.2L503.8,428.3L505.0,428.4L506.2,428.4L507.5,428.4L508.7,428.5L509.9,428.5L511.1,428.5L512.4,428.5L513.6,428.5L514.8,428.4L516.1,428.4L517.3,428.4L518.5,428.3L519.6,428.2L520.8,428.1L522.0,428.0L523.1,427.9L524.2,427.8L525.3,427.7L526.4,427.5L527.4,427.4L528.4,427.2L529.4,427.0L530.4,426.9L531.3,426.7L532.1,426.4L533.0,426.2L533.7,426.0L534.5,425.7L535.2,425.5L535.8,425.2L536.4,424.9L536.9,424.6L537.4,424.3L537.8,424.0L538.1,423.7L538.4,423.4L542.9,424.3L547.3,425.3L551.6,426.5L555.7,427.8L559.6,429.2L563.4,430.7L567.0,432.4L570.3,434.2L573.5,436.0L576.4,438.0L579.1,440.0L581.5,442.1L583.6,444.3L585.5,446.5L587.1,448.8L588.4,451.2L589.5,453.5L590.2,455.9L590.7,458.4L590.8,460.8L590.7,463.2L590.2,465.7L589.5,468.1L588.4,470.4L587.1,472.8L585.5,475.1L583.6,477.3L581.5,479.5L579.1,481.6L576.4,483.6L573.5,485.6L570.3,487.4L567.0,489.2L563.4,490.9L559.6,492.4L555.7,493.8L551.6,495.1L547.3,496.3L542.9,497.3L538.4,498.2L538.1,497.9L537.8,497.6L537.4,497.3L536.9,497.0L536.4,496.7L535.8,496.4L535.2,496.1L534.5,495.9L533.7,495.6L533.0,495.4L532.1,495.2L531.3,494.9L530.4,494.7L529.4,494.6L528.4,494.4L527.4,494.2L526.4,494.1L525.3,493.9L524.2,493.8L523.1,493.7L522.0,493.6L520.8,493.5L519.6,493.4L518.5,493.3L517.3,493.2L516.1,493.2L514.8,493.2L513.6,493.1L512.4,493.1L511.1,493.1L509.9,493.1L508.7,493.1L507.5,493.2L506.2,493.2L505.0,493.2L503.8,493.3L502.7,493.4L501.5,493.5L500.3,493.6L499.2,493.7L498.1,493.8L497.0,493.9L495.9,494.1L494.9,494.2L493.9,494.4L492.9,494.6L491.9,494.7L491.0,494.9L490.2,495.2L489.3,495.4L488.6,495.6L487.8,495.9L487.1,496.1L486.5,496.4L485.9,496.7L485.4,497.0L484.9,497.3L484.5,497.6L484.2,497.9L483.9,498.2L479.4,497.3L475.0,496.3L470.7,495.1L466.6,493.8L462.7,492.4L458.9,490.9L455.3,489.2L452.0,487.4L448.8,485.6L445.9,483.6L443.2,481.6L440.8,479.5L438.7,477.3L436.8,475.1L435.2,472.8L433.9,470.4L432.8,468.1L432.1,465.7L431.6,463.2L431.5,460.8L431.6,458.4L432.1,455.9L432.8,453.5L433.9,451.2L435.2,448.8L436.8,446.5L438.7,444.3L440.8,442.1L443.2,440.0L445.9,438.0L448.8,436.0L452.0,434.2L455.3,432.4L458.9,430.7L462.7,429.2L466.6,427.8L470.7,426.5L475.0,425.3L479.4,424.3Z" fill="#cdeffa"/>
<g clip-path="url(#cmap)" fill="#ffcccc" stroke="#3a1a1a" stroke-width="0.6">
<path d="M514.4,428.5L514.8,428.4L515.2,428.4L515.6,428.4L516.1,428.4L516.5,428.4L516.9,428.4L517.3,428.4L517.7,428.3L518.1,428.3L518.5,428.3L518.8,428.3L519.2,428.2L519.6,428.2L519.9,428.2L520.3,428.2L520.6,428.1L521.1,428.2L521.6,428.2L522.1,428.3L522.5,428.3L523.0,428.4L523.5,428.4L524.0,428.5L524.5,428.5L525.0,428.5L525.5,428.6L525.9,428.5L526.3,428.5L526.7,428.4L527.1,428.4L527.5,428.3L527.4,428.0L527.2,427.7L527.1,427.4L527.7,427.6L528.4,427.7L529.1,427.9L529.7,428.0L529.9,427.6L531.7,428.2L533.2,428.9L532.9,429.3L533.0,430.0L533.2,430.5L533.3,430.9L534.1,431.6L534.8,432.2L535.6,432.4L536.4,432.5L537.3,432.8L538.1,433.0L538.9,433.2L539.9,433.6L540.9,434.0L542.7,434.8L541.9,434.1L541.2,433.4L540.4,432.5L539.3,431.9L538.2,431.2L537.2,430.6L536.3,430.0L536.7,429.9L537.1,429.8L537.8,430.0L538.5,430.1L539.1,430.2L539.7,430.2L540.3,430.3L541.8,430.9L543.3,431.4L544.7,432.0L546.1,432.6L547.3,433.0L548.5,433.3L548.8,433.9L548.9,434.4L548.4,434.5L547.8,434.6L547.3,434.7L547.7,435.5L548.0,436.2L548.3,436.0L548.6,435.8L548.8,435.6L550.4,436.4L551.1,436.6L551.9,436.8L551.6,437.0L551.3,437.2L551.0,437.5L550.6,437.8L550.2,438.1L551.0,439.1L550.7,439.4L550.4,439.7L550.8,440.5L551.1,441.3L552.0,442.3L551.8,442.8L551.6,443.4L551.6,444.4L552.5,445.5L553.3,446.5L553.5,447.5L552.6,446.8L551.8,446.0L550.8,445.0L550.1,445.1L549.4,445.1L548.8,445.2L548.2,445.4L547.6,445.6L547.0,445.8L546.7,446.3L546.3,446.9L546.7,447.7L547.1,448.5L547.4,449.4L548.2,450.1L548.9,450.9L549.8,451.0L550.7,451.1L550.7,450.4L550.7,449.8L551.3,449.8L552.0,449.7L552.1,450.5L552.1,451.3L552.5,452.3L553.4,452.4L554.3,452.5L554.8,453.5L555.3,454.4L555.5,455.5L556.2,455.7L557.0,456.0L557.5,456.1L558.1,456.2L557.5,456.8L556.9,456.6L556.2,456.5L555.4,456.0L554.6,455.5L554.0,454.8L553.4,454.2L552.5,453.8L551.5,453.4L550.7,452.9L549.8,452.4L549.2,452.6L548.6,452.7L547.6,452.4L546.6,452.0L545.4,451.3L544.3,450.5L543.8,449.8L543.3,449.0L542.4,448.3L541.5,447.6L540.5,446.9L539.5,446.2L538.7,445.2L538.1,445.2L539.0,446.2L540.0,447.1L540.7,448.0L541.5,448.8L540.4,448.4L539.5,447.5L538.5,446.7L537.9,446.0L537.3,445.2L536.7,444.5L535.8,444.1L535.0,443.6L534.3,443.0L533.6,442.5L532.9,441.8L532.1,441.1L531.6,440.1L531.1,439.2L530.5,438.3L530.4,437.7L530.1,437.1L529.1,436.6L528.1,436.1L527.0,435.5L525.9,434.8L524.8,434.0L523.8,433.2L523.0,432.9L522.3,432.6L521.6,432.4L521.0,432.3L520.5,432.2L519.9,432.1L519.4,432.1L519.1,432.4L518.7,432.7L518.4,433.0L518.0,433.4L517.5,433.8L517.0,434.1L516.5,434.5L515.9,434.8L516.3,434.0L516.7,433.2L516.1,433.0L515.5,432.8L515.0,432.5L514.5,432.2L514.5,431.7L514.5,431.1L514.8,430.9L515.1,430.7L514.7,430.6L514.3,430.6L513.9,430.5L513.3,430.1L513.6,429.7L513.9,429.3L514.2,428.9L514.4,428.5Z M538.3,425.7L538.8,426.0L539.3,426.3L539.7,426.6L540.1,426.9L541.6,427.7L543.0,428.4L544.5,429.3L543.7,429.2L542.9,429.1L541.2,428.6L539.6,428.1L537.9,427.6L536.3,427.1L535.0,426.6L533.6,426.0L534.1,425.9L534.6,425.7L535.0,425.5L535.5,425.3L535.9,425.2L536.3,425.0L536.6,424.8L537.2,425.1L537.8,425.4L538.3,425.7Z M538.1,429.1L537.9,429.4L537.3,429.4L536.7,429.4L535.8,429.1L534.8,428.9L534.3,428.9L533.8,428.8L533.7,428.3L531.8,427.4L531.1,427.3L530.5,427.2L529.9,427.1L529.5,427.1L529.1,427.1L528.8,427.2L529.1,427.1L529.4,427.1L529.9,426.9L530.5,426.8L531.1,426.7L532.4,426.9L533.3,427.1L534.1,427.3L535.0,427.5L535.5,427.6L536.9,428.3L538.1,429.1Z M525.9,428.1L525.4,428.2L524.6,428.2L524.1,428.2L523.6,428.1L523.2,427.9L523.6,427.9L523.9,427.8L524.3,427.8L524.6,427.8L525.0,427.7L525.3,427.7L525.7,427.6L526.0,427.6L525.9,428.1Z M558.9,454.8L559.5,454.5L560.1,454.2L560.9,454.2L561.7,454.6L562.4,455.0L563.2,455.0L563.9,455.0L564.6,454.9L565.7,456.0L566.5,456.7L567.2,457.4L567.9,457.6L568.7,457.7L569.4,457.9L569.9,459.1L570.4,460.2L570.4,460.8L571.2,461.4L572.1,461.8L572.9,462.3L573.7,462.4L574.5,462.6L575.0,463.2L575.5,463.8L576.1,465.0L575.9,466.2L575.2,467.1L574.5,468.0L573.8,468.8L573.1,469.7L572.7,470.6L572.2,471.4L571.2,472.5L570.1,473.7L569.0,474.1L567.9,474.6L567.0,475.1L566.0,475.6L565.2,476.4L564.4,477.2L563.2,478.0L561.9,478.7L561.0,479.3L560.0,479.9L559.4,480.0L558.7,480.0L557.8,480.8L556.9,481.5L555.9,481.7L555.0,481.9L554.0,482.3L552.9,482.7L552.6,483.5L551.6,484.1L550.5,484.6L549.0,485.2L548.6,486.0L547.2,486.6L545.8,487.2L544.6,488.2L544.4,488.7L544.1,489.2L543.7,489.1L543.3,489.0L542.9,489.0L543.0,488.4L543.1,487.9L544.2,487.0L545.2,486.1L546.5,485.2L547.7,484.2L548.7,483.5L549.7,482.7L550.6,481.9L551.3,481.1L552.0,480.4L553.0,479.6L553.9,478.8L554.9,478.0L555.7,476.9L556.5,475.9L557.2,475.0L557.8,474.2L558.3,473.3L558.8,472.5L559.2,471.7L559.6,470.9L559.2,470.3L558.9,469.8L558.5,469.1L558.0,468.4L557.9,467.7L557.8,467.0L557.6,465.9L557.3,464.8L557.0,464.2L556.7,463.5L557.4,462.4L557.0,461.3L557.4,460.3L558.0,459.4L558.4,458.6L558.4,457.8L558.2,457.0L558.1,456.2L558.5,455.5L558.9,454.8Z M449.4,437.2L448.2,438.2L447.1,439.1L447.1,439.7L447.1,440.3L447.2,440.7L447.4,441.1L447.5,441.5L448.7,440.5L448.9,440.8L449.2,441.1L449.4,441.4L449.8,441.7L450.2,442.0L450.8,442.1L451.3,442.2L450.7,443.1L450.2,444.0L449.5,445.2L448.8,446.3L448.4,447.2L448.1,448.2L447.8,448.9L447.4,449.6L447.3,450.6L447.3,451.5L447.5,452.6L447.8,453.6L447.9,454.5L448.6,454.4L449.4,454.2L450.2,454.0L451.0,453.8L450.7,454.7L450.0,455.7L449.4,456.8L448.8,457.8L448.3,458.6L447.8,459.3L446.9,460.5L446.2,461.7L445.8,462.5L445.5,463.2L445.4,464.1L445.4,465.0L446.0,466.2L446.6,467.4L447.0,468.6L447.5,469.8L447.3,470.7L447.1,471.7L447.0,472.9L447.9,474.1L448.8,475.3L448.8,475.9L448.9,476.5L449.5,477.4L450.2,478.3L450.5,479.0L450.8,479.8L451.1,480.5L451.4,481.3L450.9,481.4L450.3,481.6L450.2,481.9L450.1,482.3L449.0,481.9L448.0,481.1L447.0,480.3L445.3,479.2L443.8,478.1L442.8,477.1L441.8,476.1L440.9,475.1L439.5,473.9L438.3,472.7L437.6,471.4L437.1,470.1L436.8,469.1L436.7,468.1L436.1,467.0L435.7,465.9L435.3,464.8L434.7,463.7L434.1,462.6L433.6,461.5L433.7,460.1L433.9,458.8L433.5,458.3L433.1,457.8L432.8,457.1L432.5,456.5L432.0,456.5L432.3,455.2L432.7,453.9L433.2,452.6L433.8,451.3L434.5,450.0L435.3,448.7L436.1,447.5L437.0,446.2L438.1,445.0L439.2,443.8L440.3,442.6L441.6,441.4L442.9,440.3L444.3,439.1L445.8,438.0L447.4,436.9L447.9,437.0L448.4,437.1L448.9,437.2L449.4,437.2Z M575.2,438.4L575.1,437.9L575.0,437.4L574.9,436.9L576.5,438.0L578.0,439.1L579.4,440.3L580.7,441.4L582.0,442.6L583.2,443.8L584.2,445.0L585.3,446.2L586.2,447.5L587.0,448.7L587.8,450.0L588.5,451.3L589.1,452.6L589.6,453.9L590.0,455.2L590.3,456.5L589.7,456.7L589.0,457.0L588.4,457.4L587.9,457.5L587.4,457.7L586.8,457.8L586.1,457.0L585.3,456.2L584.6,455.4L583.9,454.6L583.1,453.7L582.2,452.6L581.4,451.4L581.0,450.5L580.6,449.6L580.1,448.8L579.1,447.6L578.6,446.6L578.0,445.7L577.6,444.6L577.2,443.5L577.0,442.8L576.9,442.1L575.6,440.9L575.2,440.1L574.7,439.3L573.6,438.2L574.4,438.3L575.2,438.4Z M451.5,469.8L451.7,470.9L451.9,471.9L452.4,473.0L452.9,474.2L453.5,475.3L453.2,475.5L452.8,475.7L452.0,475.0L451.2,474.4L450.8,473.3L450.4,472.3L449.9,471.6L449.4,470.9L449.7,470.3L450.0,469.6L450.1,468.7L450.3,467.8L450.9,468.8L451.5,469.8Z M506.6,428.6L507.0,428.6L507.4,428.6L507.8,428.6L508.1,428.5L508.5,428.5L508.5,428.9L508.9,428.8L509.3,428.7L509.7,428.6L510.0,428.7L510.4,428.8L510.7,429.0L511.1,429.3L511.6,429.6L512.0,429.7L512.3,429.7L512.8,430.1L512.5,430.4L512.2,430.7L511.7,430.7L511.3,430.5L510.9,430.3L510.4,430.5L510.0,430.1L510.3,430.6L510.0,431.1L509.7,431.6L509.2,431.8L508.7,431.9L508.3,432.1L507.9,432.4L507.5,432.6L506.9,432.5L506.4,432.5L506.0,432.5L505.6,432.6L505.3,433.4L504.6,434.3L504.1,434.8L503.6,435.4L502.8,436.0L502.0,436.3L502.2,435.4L502.4,434.6L502.7,433.8L503.0,433.2L503.3,432.7L502.8,432.8L502.3,432.9L501.9,432.8L501.5,432.6L500.9,432.6L500.3,432.6L499.7,432.6L499.2,432.9L498.6,433.2L498.0,433.5L497.3,433.8L496.7,434.1L496.1,434.5L496.5,434.9L496.9,434.8L497.3,434.8L497.6,435.4L497.0,436.0L496.5,436.7L495.8,437.3L495.1,437.9L494.2,438.5L493.4,439.1L492.7,439.5L492.0,439.8L491.2,439.8L490.4,440.4L489.8,440.8L489.2,441.1L489.2,441.8L489.2,442.7L488.4,443.4L487.9,443.5L487.4,443.6L487.8,443.0L488.1,442.4L487.8,441.9L488.0,441.0L487.4,441.2L486.8,441.4L487.1,440.5L486.1,440.9L485.2,441.3L485.3,441.9L485.7,442.0L486.1,442.0L486.5,442.4L486.0,442.5L485.4,442.7L484.7,443.3L484.7,444.0L484.8,444.6L484.8,445.2L484.6,445.8L484.0,446.5L483.4,447.1L482.4,448.0L481.2,448.9L480.5,449.1L479.8,449.4L479.2,449.6L478.6,449.7L477.8,450.4L477.8,449.9L477.0,449.7L476.2,450.1L475.5,450.9L475.8,451.8L476.3,452.8L476.3,453.8L476.1,454.8L475.5,455.1L474.9,455.4L473.9,456.1L473.5,455.5L473.1,454.8L472.5,454.2L472.1,453.8L471.7,454.9L471.3,455.9L471.7,456.9L472.4,457.6L472.9,458.4L473.2,459.5L472.9,460.1L472.0,459.2L471.8,458.3L471.6,457.4L470.8,456.6L471.0,455.5L471.2,454.8L471.4,454.0L471.4,453.1L471.4,452.1L470.8,452.1L469.9,452.3L470.2,451.7L470.4,451.0L469.9,450.0L470.0,448.9L469.4,449.1L468.8,449.2L467.9,449.4L466.6,450.4L465.7,451.1L464.9,451.8L464.3,452.1L463.7,452.4L463.4,453.5L463.0,454.3L462.6,455.2L461.9,455.9L461.5,456.4L461.1,455.6L461.0,454.8L460.9,453.9L460.9,453.1L460.9,452.3L461.1,451.4L461.3,450.6L461.6,449.9L461.9,449.3L461.3,449.2L460.8,449.2L460.7,448.5L460.7,447.8L460.7,446.8L460.1,446.8L459.4,446.7L458.8,446.7L458.2,446.5L457.6,446.4L457.6,445.5L457.0,445.5L456.4,445.6L456.2,445.2L456.0,444.8L456.6,443.6L455.9,443.8L455.4,444.7L455.0,445.5L454.8,446.2L454.7,446.9L455.1,446.9L455.6,447.0L456.4,446.4L457.3,445.9L456.9,446.5L456.6,447.2L456.9,447.6L457.2,448.1L456.4,448.8L455.7,449.4L454.9,449.9L454.1,450.5L453.4,450.9L452.6,451.2L451.6,451.9L450.6,452.5L449.7,452.8L448.7,453.2L448.1,452.7L448.2,451.5L448.4,450.3L448.6,449.3L448.8,448.2L449.3,447.2L449.7,446.1L450.1,445.1L450.5,444.0L451.3,443.2L451.3,442.7L451.3,442.2L452.1,442.1L452.7,441.8L453.6,441.1L454.5,440.5L455.2,439.9L455.9,439.3L455.1,439.4L454.4,439.5L454.2,439.1L453.9,439.0L453.6,438.8L454.8,437.5L456.0,436.7L455.6,436.4L454.9,436.6L454.1,437.2L453.4,437.9L452.1,438.6L452.0,438.2L452.8,437.5L453.6,436.8L455.1,435.7L455.9,434.8L456.2,434.3L456.6,433.9L457.3,433.3L455.4,434.3L454.8,434.9L454.2,435.5L454.0,435.9L453.8,436.3L452.8,436.6L451.4,437.3L452.9,436.2L453.2,435.7L453.5,435.2L454.3,434.5L455.2,433.7L454.7,433.7L454.3,433.6L453.9,433.6L453.5,433.5L452.0,434.1L453.7,433.2L455.5,432.3L457.4,431.4L459.3,430.6L461.3,429.8L462.9,429.3L463.6,429.2L464.3,429.1L465.0,429.0L466.7,428.4L468.3,427.8L468.7,427.8L469.2,427.8L467.5,428.4L465.8,428.9L465.4,429.2L465.8,429.5L466.2,429.5L466.6,429.6L467.1,429.7L468.4,429.3L470.6,428.6L471.0,428.8L471.4,428.5L472.9,428.0L473.3,428.1L473.7,428.2L474.4,428.1L474.4,427.8L473.8,427.8L473.3,427.8L474.2,427.3L476.1,426.7L476.9,426.7L477.7,426.6L479.7,426.0L480.0,425.7L478.4,426.0L476.7,426.3L475.1,426.6L472.9,427.4L470.5,428.0L468.8,428.6L468.0,428.7L467.3,428.8L467.8,428.5L469.0,428.0L470.4,427.4L471.5,427.0L470.7,427.1L469.4,427.3L470.3,426.8L472.1,426.3L473.9,425.8L474.7,425.7L475.4,425.7L476.2,425.6L477.8,425.3L479.4,425.0L481.0,424.7L482.7,424.4L483.4,424.4L484.2,424.4L484.9,424.3L485.2,424.5L485.6,424.7L485.3,425.2L484.7,425.6L484.3,425.9L484.0,426.1L482.6,426.5L482.3,426.4L481.9,426.3L481.6,426.3L479.8,426.9L480.3,427.1L480.9,427.0L481.9,426.8L483.0,426.6L484.2,426.3L485.4,425.9L484.8,426.2L484.2,426.6L484.6,426.6L485.1,426.6L485.5,426.7L486.8,426.4L487.2,426.5L488.0,426.6L488.4,426.5L488.9,426.5L489.1,426.8L489.4,426.8L490.7,426.6L491.3,426.7L491.6,426.8L491.9,426.9L492.2,426.9L492.6,427.0L492.9,427.0L493.2,427.1L493.5,427.2L493.8,427.2L494.2,427.3L494.5,427.3L494.8,427.4L495.2,427.4L495.5,427.5L495.9,427.5L496.2,427.6L496.6,427.6L496.9,427.7L497.3,427.7L497.6,427.8L498.0,427.8L498.4,427.8L498.7,427.9L499.1,427.9L499.5,428.0L499.9,428.0L500.2,428.0L500.6,428.1L501.0,428.1L501.4,428.1L501.8,428.2L502.1,428.2L502.5,428.2L502.9,428.2L503.3,428.3L503.7,428.3L504.1,428.3L504.5,428.3L504.9,428.3L505.3,428.4L505.7,428.4L506.1,428.4L506.5,428.4Z M570.8,434.9L571.7,435.5L572.7,436.2L573.9,437.4L573.6,437.7L573.3,438.0L572.6,437.9L571.9,437.8L570.8,437.0L569.5,436.2L568.3,435.4L567.0,434.6L567.4,434.2L567.8,433.9L566.9,433.1L565.8,432.5L564.2,432.0L562.8,431.6L563.1,431.3L562.2,430.9L562.1,430.4L561.1,430.0L563.0,430.6L564.9,431.4L566.8,432.3L568.6,433.2L570.3,434.2L570.6,434.5L570.8,434.9Z M560.0,430.2L559.7,430.2L559.3,430.2L557.7,429.5L556.3,428.7L555.3,428.6L553.5,428.1L551.8,427.4L553.0,427.7L555.1,428.2L556.3,428.5L558.1,429.0L559.2,429.2L561.0,430.0L561.0,430.5L561.0,431.0L560.5,430.6L560.0,430.2Z M558.9,430.6L558.3,430.5L556.2,429.6L555.9,429.3L555.2,428.8L556.1,429.0L556.8,429.3L558.7,430.1L558.9,430.6Z M541.0,425.8L541.3,425.7L541.7,425.6L542.0,425.4L543.5,425.8L544.3,426.1L544.6,426.3L544.8,426.6L544.4,426.6L543.9,426.7L542.8,426.3L541.8,426.2L541.0,425.8Z M489.4,444.4L489.2,443.9L490.4,443.3L491.0,443.2L491.6,443.2L492.3,442.5L493.0,442.2L493.6,441.9L494.2,441.0L494.9,440.6L494.8,441.5L494.1,442.2L493.9,442.7L493.7,443.3L493.1,443.6L492.5,443.7L491.8,443.7L491.1,444.3L491.0,443.8L490.4,443.9L489.9,444.0L490.6,444.1L489.9,444.5L489.4,444.5L488.9,445.2L488.3,445.3L489.4,444.4Z M494.9,439.7L495.3,439.2L495.8,438.8L496.2,439.3L496.8,439.6L496.6,439.9L495.7,440.4L495.4,440.2L495.0,440.1L494.4,440.5L494.9,439.7Z M496.5,437.6L497.0,436.7L497.5,435.8L498.0,434.9L498.3,434.9L497.8,435.8L497.7,436.5L497.6,437.2L497.1,437.2L496.9,437.7L496.8,438.2L496.1,438.5L496.5,437.6Z M483.3,448.2L483.7,448.2L483.1,449.2L482.7,449.7L482.5,449.3L482.9,448.7L483.3,448.2Z M481.5,452.7L481.8,452.0L482.0,451.4L482.7,451.4L482.6,452.4L482.1,453.2L482.2,453.7L483.0,454.2L482.2,453.9L481.5,453.4L481.5,452.7Z M482.5,456.5L483.5,456.0L483.9,456.7L483.6,457.6L483.2,457.9L482.6,457.5L482.4,457.0L481.7,457.2L482.5,456.5Z M482.4,455.0L483.4,454.6L483.7,455.2L482.8,455.7L482.3,456.1L481.9,455.7L482.4,455.0Z M480.0,455.8L480.8,455.0L480.7,455.4L480.2,455.9L479.6,456.4L480.0,455.8Z M475.7,459.8L476.4,460.0L477.3,459.2L478.3,458.2L479.2,457.2L479.6,457.5L480.2,458.1L479.7,458.6L479.4,459.3L479.6,460.3L479.4,460.8L478.9,461.6L478.8,462.6L478.0,462.9L477.3,462.4L476.6,462.3L476.0,461.7L475.5,461.1L475.4,460.0L475.7,459.8Z M470.2,458.1L470.7,458.7L471.3,459.3L471.9,459.9L472.6,460.5L473.0,461.2L473.3,461.8L474.1,462.6L474.1,463.2L474.1,463.8L473.5,463.8L472.9,463.4L472.4,462.9L471.9,462.2L471.5,461.6L471.1,460.8L470.7,460.0L469.9,459.0L469.6,458.4L469.2,457.8L469.7,457.9L470.2,458.1Z M474.4,463.9L475.4,464.2L475.9,464.2L476.4,464.2L477.4,464.4L478.2,464.8L478.2,465.2L477.4,465.1L476.6,465.0L475.9,464.9L475.2,464.8L474.4,464.6L473.9,464.3L474.4,463.9Z M479.4,465.0L480.4,465.0L481.3,465.1L482.2,465.0L483.0,465.6L483.6,465.4L484.1,465.1L483.3,465.9L482.6,466.0L481.8,465.9L480.9,465.8L480.2,465.6L479.5,465.4L478.5,465.0L479.4,465.0Z M480.5,461.1L480.8,460.3L481.4,460.3L482.0,460.3L483.0,460.0L482.7,460.6L481.9,460.6L481.0,460.6L480.7,461.3L481.3,461.3L482.1,461.3L481.5,461.8L481.3,462.3L481.8,463.1L481.5,463.2L481.1,462.3L480.9,463.0L480.9,463.6L480.4,463.6L480.1,462.6L480.3,461.8L480.5,461.1Z M484.3,459.9L484.8,460.0L484.5,460.8L484.6,461.3L484.1,461.2L484.2,460.5L484.3,459.9Z M485.7,462.3L485.6,462.7L485.1,462.7L484.5,462.6L485.1,462.4L485.7,462.3Z M487.3,461.2L487.5,461.8L487.8,462.5L488.3,462.0L488.9,461.6L489.8,461.9L490.6,462.1L491.5,462.4L492.3,462.7L493.0,463.2L493.6,463.7L494.0,464.5L494.8,465.3L495.4,465.9L494.7,465.8L494.0,465.8L493.2,464.8L492.2,464.6L491.8,465.3L490.8,465.3L490.2,465.1L489.6,465.0L489.3,464.3L489.6,463.6L488.7,463.3L487.8,463.0L486.8,462.8L486.3,462.2L487.2,462.0L486.3,461.8L485.8,461.2L486.5,461.2L487.3,461.2Z M495.3,463.5L496.1,462.9L496.0,463.5L495.1,463.9L494.3,463.6L495.3,463.5Z M479.7,472.0L480.3,471.4L480.9,471.2L481.6,471.0L482.1,470.6L482.7,470.2L482.7,469.5L483.1,469.3L483.6,469.0L483.8,468.5L484.1,467.9L485.1,468.4L485.9,468.4L486.1,467.7L486.3,467.0L486.9,466.6L487.5,466.7L488.1,466.8L488.9,467.0L488.8,467.6L488.6,468.3L489.2,468.7L489.9,469.0L490.5,469.3L491.1,469.6L491.5,468.8L491.4,468.0L491.3,467.3L491.4,466.7L491.6,466.2L492.0,467.0L492.4,467.9L493.2,468.3L493.6,469.2L493.9,470.2L494.8,470.7L495.7,471.7L496.5,472.4L497.5,473.1L497.7,473.7L498.0,474.3L498.0,474.9L498.0,475.5L497.8,476.5L497.6,477.4L497.6,478.2L497.6,479.0L497.2,479.2L496.8,479.3L496.4,479.8L495.8,479.8L495.2,479.8L494.5,479.6L493.9,479.4L493.1,478.5L492.2,478.3L492.0,477.7L491.8,477.1L491.5,477.5L491.2,478.0L490.3,477.0L489.6,476.7L489.0,476.4L488.4,476.5L487.9,476.5L487.4,476.7L486.8,476.9L486.5,477.4L486.2,477.8L485.5,477.8L484.7,477.8L484.2,478.4L483.5,478.2L482.7,477.9L482.3,477.1L481.8,476.2L481.4,475.5L480.9,474.8L480.4,474.0L479.9,473.0L479.4,472.0Z M497.3,480.6L497.6,481.2L497.4,481.9L497.0,481.9L496.5,481.3L496.0,480.7L496.7,480.6L497.3,480.6Z M507.6,478.4L508.2,478.6L508.3,479.0L508.7,479.0L509.2,479.0L508.7,479.8L508.1,480.8L507.8,480.0L507.4,479.8L507.8,479.1L507.5,478.4L506.8,477.5L507.6,478.4Z M507.7,480.8L507.2,481.7L506.7,482.1L506.6,482.8L506.2,483.0L505.8,483.1L505.0,482.9L505.6,481.9L506.0,481.5L506.5,481.1L507.1,480.4L507.7,480.8Z M463.2,456.2L463.3,457.0L462.7,457.5L462.4,457.0L462.5,456.3L462.7,455.6L463.2,456.2Z M477.8,450.5L477.0,451.4L476.8,450.9L477.8,450.5Z M553.6,448.6L554.5,448.7L555.4,448.8L556.5,449.3L557.5,449.9L556.9,450.0L556.2,450.1L555.6,449.3L554.7,449.1L553.8,449.0L553.1,449.2L552.6,449.2L553.1,448.9L553.6,448.6Z M558.2,450.0L558.8,450.0L559.4,450.0L560.3,450.6L559.9,450.8L559.4,451.0L558.5,450.9L557.9,450.8L558.2,450.0Z M561.5,450.7L561.0,450.9L561.5,450.7Z M557.1,451.0L556.9,451.2L556.3,451.1L557.1,451.0Z M548.9,433.5L550.4,434.1L551.8,434.8L553.1,435.6L552.6,435.6L552.1,435.6L551.4,435.5L550.7,435.4L549.9,434.5L548.9,433.5Z M529.0,436.5L530.0,437.2L529.2,437.1L528.4,436.6L527.7,436.2L528.3,436.4L529.0,436.5Z M486.3,494.6L486.9,494.4L487.4,494.2L487.7,494.1L488.0,494.0L488.4,493.9L488.7,493.8L489.0,493.8L489.3,493.7L489.9,493.5L490.1,493.4L490.4,493.3L490.7,493.2L491.1,493.0L491.4,492.9L491.7,492.8L492.0,492.7L492.4,492.7L492.8,492.6L493.2,492.6L493.6,492.5L494.0,492.5L494.4,492.5L494.8,492.4L495.2,492.4L495.6,492.4L496.0,492.3L496.4,492.3L496.8,492.2L497.2,492.2L497.6,492.2L498.0,492.1L498.4,492.1L498.9,492.0L499.3,492.0L499.8,492.0L500.2,492.1L500.7,492.1L501.1,492.1L501.6,492.1L502.0,492.1L502.5,492.1L503.0,492.2L503.5,492.3L504.0,492.4L504.5,492.5L505.0,492.7L505.4,492.8L505.9,492.9L506.4,493.0L506.7,493.1L507.0,493.2L506.6,493.2L506.1,493.2L505.7,493.2L505.3,493.2L504.9,493.2L504.5,493.3L504.1,493.3L503.8,493.3L503.4,493.3L503.0,493.4L502.6,493.4L502.2,493.4L501.8,493.4L501.4,493.5L501.0,493.5L500.6,493.5L500.3,493.6L499.9,493.6L499.5,493.6L499.1,493.7L498.8,493.7L498.4,493.8L498.0,493.8L497.6,493.8L497.3,493.9L496.9,493.9L496.6,494.0L496.2,494.0L495.9,494.1L495.5,494.1L495.2,494.2L494.8,494.2L494.5,494.3L494.2,494.3L493.8,494.4L493.5,494.4L493.2,494.5L492.9,494.6L492.5,494.6L492.2,494.7L491.9,494.8L491.6,494.8L491.3,494.9L491.0,495.0L490.4,495.1L489.9,495.2L489.3,495.4L488.8,495.5L488.3,495.7L487.8,495.9L487.4,496.0L485.8,495.7L484.5,495.3L484.9,495.1L485.4,494.9L485.8,494.7L486.3,494.6Z M532.3,494.6L533.5,494.2L534.8,493.8L536.0,493.5L537.2,493.2L537.9,493.1L538.5,493.0L539.2,492.9L538.1,493.2L537.0,493.5L535.9,493.8L534.4,494.6L532.6,495.3L532.0,495.1L531.5,495.0L530.9,494.9L531.6,494.7L532.3,494.6Z M521.5,451.1L521.2,451.5L521.0,451.2L521.5,451.1Z M503.5,471.5L503.7,471.8L502.8,471.3L502.3,470.7L502.9,471.1L503.5,471.5Z M509.1,469.4L509.0,469.7L508.5,469.7L508.4,469.4L509.1,469.4Z M499.7,464.8L500.7,465.6L500.0,465.5L499.2,465.1L498.5,464.7L498.2,464.2L499.0,464.5L499.7,464.8Z M489.4,444.0L489.2,444.9L488.4,445.4L488.4,444.9L488.7,444.2L489.4,444.0Z M451.4,437.2L450.1,437.9L450.2,437.6L450.2,437.3L450.5,437.0L451.0,437.1L451.4,437.2Z M452.4,435.2L450.9,436.2L450.4,436.2L452.1,435.1L452.4,435.2Z M452.2,439.5L451.9,439.6L451.6,439.5L451.5,439.2L451.8,439.3L452.2,439.5Z M454.7,439.8L453.9,440.3L453.5,440.2L453.7,440.0L454.2,439.9L454.7,439.8Z"/>
<path d="M462.3,438.1L463.0,437.3L463.7,436.7L464.4,436.0L466.3,435.2L466.9,435.3L467.4,435.4L465.8,436.0L465.1,436.8L464.5,437.6L463.1,438.6L462.3,439.3L461.6,440.1L461.1,440.0L460.6,440.0L460.0,439.9L461.2,439.0L462.3,438.1Z M460.2,434.6L461.9,434.1L461.4,434.6L460.9,435.2L462.4,434.6L463.3,434.4L464.1,434.3L462.1,435.2L461.9,435.6L461.8,436.1L460.7,437.2L460.1,437.2L459.4,437.2L459.3,436.9L459.3,436.5L458.5,436.6L457.7,436.7L457.4,436.5L457.1,436.3L458.6,435.5L460.2,434.6Z M544.8,439.3L544.2,438.4L543.6,437.6L544.0,437.4L544.2,438.0L544.7,438.6L545.2,439.2L544.8,439.3Z M544.0,437.3L544.4,437.2L544.8,437.2L546.2,437.8L547.0,438.2L547.3,438.1L547.6,437.9L547.3,438.2L547.0,438.4L546.8,438.7L546.6,439.1L545.7,438.4L545.0,437.6L544.1,437.3L543.0,437.2L542.2,437.0L541.7,437.1L541.2,437.1L541.4,436.7L541.6,436.2L542.4,436.4L543.1,436.6L544.0,437.3Z M450.6,444.0L450.1,445.1L449.7,446.1L449.4,447.0L449.0,447.9L448.8,448.8L448.5,449.7L448.4,450.8L448.3,451.9L448.2,452.5L448.1,453.2L447.8,452.5L447.7,451.8L447.7,450.9L447.7,450.0L448.0,449.1L448.3,448.2L448.6,447.1L449.0,446.1L449.6,445.0L450.3,444.0L450.7,442.8L450.7,443.4L450.6,444.0Z M456.7,443.5L456.4,444.2L456.1,444.9L456.3,445.3L456.5,445.6L457.1,445.6L457.6,445.5L457.1,446.1L456.6,446.2L456.1,446.3L455.5,446.3L455.0,446.4L455.1,445.6L455.4,444.8L455.6,444.1L455.9,443.5L456.7,443.5Z M442.8,460.6L443.1,461.4L442.8,462.3L442.2,462.4L442.1,461.1L442.8,460.6Z M524.2,429.2L524.9,429.5L524.6,430.0L524.1,429.8L523.5,429.6L524.0,429.3Z M527.8,430.7L528.1,430.7L528.5,430.8L528.5,431.1L528.4,431.5L527.9,431.5L527.4,431.6L527.5,431.3L527.6,431.0L527.8,430.7Z M536.2,434.1L537.1,434.9L538.0,435.6L537.5,435.4L536.7,434.8L536.0,434.3L536.2,434.1Z" fill="#cdeffa" stroke-width="0.4"/>
<path d="M570.4,461.1L569.4,461.6L568.3,462.1L567.2,462.3L566.1,462.6L565.0,462.7L564.0,462.7L562.8,462.9L561.7,463.1L561.0,463.2L560.2,463.3 M566.1,462.6L565.3,464.2L563.9,465.8L562.9,467.4 M558.7,479.5L559.5,478.4L560.3,477.4L562.1,475.8L563.0,474.2L563.7,473.1L564.4,472.0 M548.7,445.4L547.9,444.6L547.0,443.7L546.4,442.2L545.4,441.3L544.5,440.3L543.1,439.1L541.7,438.0 M545.2,440.9L544.2,440.8L543.2,440.7L541.6,439.9L540.1,439.1L538.7,438.5L537.3,437.9L535.9,437.2 M520.0,428.6L521.1,429.2L522.2,429.8L523.2,430.1L524.4,430.5L525.4,430.9L526.4,431.4 M450.9,442.1L449.6,443.6L448.4,445.0L447.5,446.8L446.5,448.0L445.6,449.1L445.2,450.2L444.8,451.3L443.9,452.9L443.1,454.6L442.6,456.5L442.1,458.3 M435.3,464.8L435.8,463.9L436.3,463.1L436.5,461.9L436.9,460.8L437.6,460.2L438.4,459.5L439.5,460.5L439.7,461.9L440.0,463.3L440.4,464.6L440.9,465.8 M432.8,457.7L433.1,456.5L433.5,455.3L433.4,453.9L433.4,452.5L433.4,452.2 M588.9,452.2L587.6,450.9L586.2,449.7L586.0,450.6L585.8,451.5L585.3,452.9 M484.6,445.0L483.4,445.3L482.1,445.6L481.2,445.5L480.2,445.3L479.0,445.5L477.9,445.7L476.0,446.9L475.4,446.3L474.9,445.8L474.8,444.7L474.9,443.7 M485.1,442.0L483.6,442.6L482.2,443.1L481.6,442.1L482.0,441.2L482.4,440.4L480.9,441.2L479.3,441.9L478.3,442.3L477.3,442.6 M487.7,427.9L485.2,428.7L482.8,429.6L481.8,430.4L480.9,431.2L480.4,432.0L479.9,432.7L479.6,433.5L479.4,434.2 M492.3,426.9L491.0,427.7L489.8,428.5L488.4,429.6L487.1,430.7L485.8,431.7L484.5,432.9L483.7,433.8L483.1,434.7 M499.9,428.0L498.6,429.2L497.9,430.0L497.3,430.9L496.1,431.2L494.9,431.6L494.1,431.6L493.3,431.7L492.4,431.8L491.2,432.3L489.9,432.8L488.6,433.3 M497.4,435.4L495.8,436.3L494.2,437.3L493.4,437.3L492.7,437.4L492.3,436.9L492.0,436.4L491.5,435.9L491.1,435.4L490.8,434.9 M468.9,449.1L469.2,447.5L468.2,447.1L467.2,446.6L466.9,445.8L466.7,444.9 M460.9,447.5L462.0,446.5L463.1,445.5L464.2,444.5L465.4,443.5L467.6,442.3L467.8,443.0L468.0,443.7 M470.3,447.9L472.4,446.4L472.1,445.4L471.2,445.4L470.3,445.3L469.4,445.2 M456.0,443.2L456.5,441.8L457.0,440.6L457.6,439.1 M474.2,455.6L474.3,454.6L474.4,453.5L474.4,452.6L474.5,451.7L473.8,450.9L473.3,450.1L473.5,448.9L473.8,447.8L474.0,446.5L474.3,445.2 M460.5,434.5L458.9,435.0L458.5,434.7L458.2,434.4L458.8,433.4L460.3,432.3L460.1,432.1L460.0,431.8 M465.6,435.3L467.3,433.8L470.4,432.6L471.4,431.5L471.5,431.1L471.7,430.7L471.8,430.3 M439.1,443.8L439.0,444.7L439.2,445.5L439.4,446.3L439.8,447.0L440.1,447.8 M576.9,442.1L577.4,441.8L578.0,441.5L579.6,442.2L581.3,442.9L583.2,443.8 M538.0,444.7L537.5,443.8L536.9,442.8L537.4,442.5L538.0,442.3L538.1,441.3 M530.5,438.2L531.4,438.2L532.3,438.2L531.7,436.8L531.6,435.9 M548.0,436.2L547.9,436.7L547.8,437.2L547.6,437.9 M535.4,432.7L535.6,433.4L535.9,434.1L535.2,434.4L534.7,434.7L534.2,435.0L533.6,435.4L532.9,435.8 M446.5,472.1L445.4,471.4L444.2,470.7L443.8,471.4L443.4,472.0L442.6,471.8L441.7,471.6L440.9,470.4L440.1,469.1 M445.0,479.0L445.5,478.8L446.0,478.7L446.9,478.8L447.8,479.0L449.0,479.1 M493.9,477.7L494.9,478.2L495.8,478.4L496.7,478.6 M492.8,478.2L493.8,477.6L494.2,476.8L494.6,476.0L495.7,475.1 M529.7,436.9L530.6,436.9L531.5,436.8L532.5,436.8L533.4,436.7L534.3,436.6L535.3,436.6L536.3,436.5L537.3,436.4L538.2,436.3L539.2,436.2L540.1,436.3L541.0,436.4L541.9,436.4 M536.7,444.5L538.1,444.8L539.4,445.0L540.3,444.8L541.2,444.7L542.6,445.1L543.9,445.5L545.3,446.5L546.6,447.4 M521.3,432.4L520.7,431.4L520.0,430.4L519.3,429.4L518.6,428.5 M475.6,431.9L476.0,432.1L476.4,432.4L476.8,432.6L477.2,432.8L477.3,433.2L477.5,433.7L477.7,434.1L477.9,434.6L478.2,435.0L478.5,435.4L478.8,435.7L479.7,435.7L480.7,435.7L481.7,435.7L482.7,435.7L483.5,435.8L484.3,435.8L485.2,435.9L485.9,436.0L486.6,436.2L487.4,436.3L488.2,436.4L489.5,435.7L490.8,434.9L491.1,435.4L491.5,435.9L492.0,436.4L492.7,436.7L493.4,437.0L494.2,437.3 M468.3,441.0L468.1,442.2L467.9,443.3L467.8,444.5L468.6,445.0L469.3,445.5L470.1,446.0L471.3,446.1L472.5,446.2L473.8,446.2 M463.1,441.2L464.5,440.8L465.8,440.4L466.7,440.6L467.5,440.8L468.3,441.0 M460.1,438.3L460.3,438.7L460.6,439.1L460.9,439.6L461.3,440.1L461.9,440.5L462.5,440.8L463.1,441.2L461.9,442.7L460.7,444.1L459.7,445.4L458.8,446.7 M560.1,470.4L560.0,471.9L559.7,473.4L558.6,474.6L557.4,475.8L556.2,477.0L555.1,478.3L554.0,479.5L552.8,480.7L551.6,481.8L550.3,482.9L548.8,484.2L547.2,485.4L545.6,486.7 M564.4,472.0L564.9,470.9L565.2,469.8L564.7,468.9L564.2,468.1L563.7,467.2L563.2,466.3L562.2,466.6L561.3,466.8L561.5,465.6L561.7,464.4L561.7,463.1 M566.0,458.0L566.0,459.1L566.0,460.2L565.2,460.1L564.5,460.0L563.1,459.7L562.9,458.6L562.7,457.5L561.7,457.2L560.7,457.0L560.4,455.9L560.0,454.8 M442.6,471.8L441.8,470.4L441.2,468.9L440.6,467.5L441.6,468.2L442.7,468.9L443.0,467.8L443.4,466.7L442.2,465.8L441.8,464.7L441.4,463.6L441.4,462.5L441.4,461.4L441.8,459.6L443.1,458.3L443.9,458.0L444.9,458.2L445.9,458.4L446.0,459.9L446.1,461.4 M438.0,472.2L439.1,472.1L440.1,472.1L441.3,472.3L442.0,473.5L442.7,474.8L443.7,476.1L444.8,477.4L446.0,478.7 M437.1,452.6L436.7,454.0L436.5,455.5L436.4,456.8L436.3,458.2L437.2,458.5 M449.3,441.5L447.9,442.9L446.6,444.2L445.4,445.6L444.3,447.0L443.1,448.2L442.3,449.6L441.5,451.0L440.2,452.8 M448.2,447.5L447.3,447.4L446.4,447.3L445.4,447.2L444.3,447.0 M443.9,441.4L442.8,442.7L441.7,444.1L440.8,445.5L441.5,445.9L441.9,446.8L442.4,447.7L443.0,448.5 M436.2,447.3L436.2,447.9L434.9,449.9 M578.5,443.2L579.9,443.8L581.3,444.4L583.2,445.5L585.1,446.6L586.1,447.3" fill="none" stroke-width="0.45" stroke-opacity="0.75"/>
<path d="M503.4,456.0h0.9v0.7h-0.9z M504.8,457.0h0.9v0.7h-0.9z M505.8,459.7h0.9v0.7h-0.9z M506.5,460.9h0.9v0.7h-0.9z M508.7,464.4h0.9v0.7h-0.9z M513.1,467.2h0.9v0.7h-0.9z M511.6,470.7h0.9v0.7h-0.9z M512.1,469.6h0.9v0.7h-0.9z M523.7,469.1h0.9v0.7h-0.9z M522.8,468.6h0.9v0.7h-0.9z M528.6,464.9h0.9v0.7h-0.9z M525.9,468.4h0.9v0.7h-0.9z M527.7,469.4h0.9v0.7h-0.9z M528.8,470.9h0.9v0.7h-0.9z M518.7,470.8h0.9v0.7h-0.9z M520.3,459.5h0.9v0.7h-0.9z M552.0,460.7h0.9v0.7h-0.9z M552.3,460.9h0.9v0.7h-0.9z M503.1,468.1h0.9v0.7h-0.9z M503.8,469.3h0.9v0.7h-0.9z M504.4,470.0h0.9v0.7h-0.9z M492.4,453.8h0.9v0.7h-0.9z M492.9,452.9h0.9v0.7h-0.9z M487.2,456.7h0.9v0.7h-0.9z M495.6,457.0h0.9v0.7h-0.9z M498.5,457.0h0.9v0.7h-0.9z M500.9,457.8h0.9v0.7h-0.9z M489.0,455.7h0.9v0.7h-0.9z M514.6,434.9h0.9v0.7h-0.9z M513.7,435.2h0.9v0.7h-0.9z M512.7,435.5h0.9v0.7h-0.9z M511.7,435.7h0.9v0.7h-0.9z M510.7,435.8h0.9v0.7h-0.9z M509.7,436.0h0.9v0.7h-0.9z M508.7,435.8h0.9v0.7h-0.9z M507.7,435.5h0.9v0.7h-0.9z M507.2,435.3h0.9v0.7h-0.9z M497.0,438.9h0.9v0.7h-0.9z M497.7,438.5h0.9v0.7h-0.9z M498.6,438.2h0.9v0.7h-0.9z M499.5,437.7h0.9v0.7h-0.9z M500.2,437.2h0.9v0.7h-0.9z M500.9,436.6h0.9v0.7h-0.9z M501.4,436.3h0.9v0.7h-0.9z M486.1,447.2h0.9v0.7h-0.9z M485.9,447.3h0.9v0.7h-0.9z M484.1,448.2h0.9v0.7h-0.9z M487.1,446.3h0.9v0.7h-0.9z M487.9,445.4h0.9v0.7h-0.9z M519.6,450.0h0.9v0.7h-0.9z M518.8,449.7h0.9v0.7h-0.9z M520.4,450.2h0.9v0.7h-0.9z M520.8,450.8h0.9v0.7h-0.9z M563.8,452.3h0.9v0.7h-0.9z M564.0,453.1h0.9v0.7h-0.9z M563.5,451.9h0.9v0.7h-0.9z M563.2,451.4h0.9v0.7h-0.9z M564.3,454.6h0.9v0.7h-0.9z M561.5,450.3h0.9v0.7h-0.9z M554.6,447.3h0.9v0.7h-0.9z M555.5,447.8h0.9v0.7h-0.9z M557.2,449.1h0.9v0.7h-0.9z M502.4,460.7h0.9v0.7h-0.9z M499.6,465.6h0.9v0.7h-0.9z M500.5,465.8h0.9v0.7h-0.9z M499.0,464.4h0.9v0.7h-0.9z M497.0,463.4h0.9v0.7h-0.9z M496.8,462.9h0.9v0.7h-0.9z M495.5,462.1h0.9v0.7h-0.9z M493.1,461.4h0.9v0.7h-0.9z M502.7,465.9h0.9v0.7h-0.9z M508.1,469.2h0.9v0.7h-0.9z M509.0,468.5h0.9v0.7h-0.9z M508.3,469.7h0.9v0.7h-0.9z M455.1,472.0h0.9v0.7h-0.9z M454.6,472.5h0.9v0.7h-0.9z M447.4,467.4h0.9v0.7h-0.9z M451.4,463.1h0.9v0.7h-0.9z M458.8,458.2h0.9v0.7h-0.9z M458.8,460.4h0.9v0.7h-0.9z M458.8,464.5h0.9v0.7h-0.9z M468.3,454.1h0.9v0.7h-0.9z M468.3,456.2h0.9v0.7h-0.9z M470.1,466.9h0.9v0.7h-0.9z M473.9,465.9h0.9v0.7h-0.9z M566.5,438.1h0.9v0.7h-0.9z M565.3,437.9h0.9v0.7h-0.9z M572.4,440.4h0.9v0.7h-0.9z M575.3,442.8h0.9v0.7h-0.9z M575.7,443.0h0.9v0.7h-0.9z M578.0,450.5h0.9v0.7h-0.9z M578.5,451.1h0.9v0.7h-0.9z M584.4,471.0h0.9v0.7h-0.9z M583.4,465.6h0.9v0.7h-0.9z M547.4,487.6h0.9v0.7h-0.9z M547.6,487.7h0.9v0.7h-0.9z M550.6,490.0h0.9v0.7h-0.9z M473.6,486.3h0.9v0.7h-0.9z M473.5,486.5h0.9v0.7h-0.9z M512.5,430.8h0.9v0.7h-0.9z M513.7,432.3h0.9v0.7h-0.9z M518.1,433.3h0.9v0.7h-0.9z M517.8,433.3h0.9v0.7h-0.9z M525.1,434.7h0.9v0.7h-0.9z M525.4,435.0h0.9v0.7h-0.9z M524.2,433.7h0.9v0.7h-0.9z M523.2,433.0h0.9v0.7h-0.9z" stroke-width="0.55" stroke-opacity="0.8"/>
</g>
<path d="M483.9,423.4L484.2,423.7L484.5,424.0L484.9,424.3L485.4,424.6L485.9,424.9L486.5,425.2L487.1,425.5L487.8,425.7L488.6,426.0L489.3,426.2L490.2,426.4L491.0,426.7L491.9,426.9L492.9,427.0L493.9,427.2L494.9,427.4L495.9,427.5L497.0,427.7L498.1,427.8L499.2,427.9L500.3,428.0L501.5,428.1L502.7,428.2L503.8,428.3L505.0,428.4L506.2,428.4L507.5,428.4L508.7,428.5L509.9,428.5L511.1,428.5L512.4,428.5L513.6,428.5L514.8,428.4L516.1,428.4L517.3,428.4L518.5,428.3L519.6,428.2L520.8,428.1L522.0,428.0L523.1,427.9L524.2,427.8L525.3,427.7L526.4,427.5L527.4,427.4L528.4,427.2L529.4,427.0L530.4,426.9L531.3,426.7L532.1,426.4L533.0,426.2L533.7,426.0L534.5,425.7L535.2,425.5L535.8,425.2L536.4,424.9L536.9,424.6L537.4,424.3L537.8,424.0L538.1,423.7L538.4,423.4L542.9,424.3L547.3,425.3L551.6,426.5L555.7,427.8L559.6,429.2L563.4,430.7L567.0,432.4L570.3,434.2L573.5,436.0L576.4,438.0L579.1,440.0L581.5,442.1L583.6,444.3L585.5,446.5L587.1,448.8L588.4,451.2L589.5,453.5L590.2,455.9L590.7,458.4L590.8,460.8L590.7,463.2L590.2,465.7L589.5,468.1L588.4,470.4L587.1,472.8L585.5,475.1L583.6,477.3L581.5,479.5L579.1,481.6L576.4,483.6L573.5,485.6L570.3,487.4L567.0,489.2L563.4,490.9L559.6,492.4L555.7,493.8L551.6,495.1L547.3,496.3L542.9,497.3L538.4,498.2L538.1,497.9L537.8,497.6L537.4,497.3L536.9,497.0L536.4,496.7L535.8,496.4L535.2,496.1L534.5,495.9L533.7,495.6L533.0,495.4L532.1,495.2L531.3,494.9L530.4,494.7L529.4,494.6L528.4,494.4L527.4,494.2L526.4,494.1L525.3,493.9L524.2,493.8L523.1,493.7L522.0,493.6L520.8,493.5L519.6,493.4L518.5,493.3L517.3,493.2L516.1,493.2L514.8,493.2L513.6,493.1L512.4,493.1L511.1,493.1L509.9,493.1L508.7,493.1L507.5,493.2L506.2,493.2L505.0,493.2L503.8,493.3L502.7,493.4L501.5,493.5L500.3,493.6L499.2,493.7L498.1,493.8L497.0,493.9L495.9,494.1L494.9,494.2L493.9,494.4L492.9,494.6L491.9,494.7L491.0,494.9L490.2,495.2L489.3,495.4L488.6,495.6L487.8,495.9L487.1,496.1L486.5,496.4L485.9,496.7L485.4,497.0L484.9,497.3L484.5,497.6L484.2,497.9L483.9,498.2L479.4,497.3L475.0,496.3L470.7,495.1L466.6,493.8L462.7,492.4L458.9,490.9L455.3,489.2L452.0,487.4L448.8,485.6L445.9,483.6L443.2,481.6L440.8,479.5L438.7,477.3L436.8,475.1L435.2,472.8L433.9,470.4L432.8,468.1L432.1,465.7L431.6,463.2L431.5,460.8L431.6,458.4L432.1,455.9L432.8,453.5L433.9,451.2L435.2,448.8L436.8,446.5L438.7,444.3L440.8,442.1L443.2,440.0L445.9,438.0L448.8,436.0L452.0,434.2L455.3,432.4L458.9,430.7L462.7,429.2L466.6,427.8L470.7,426.5L475.0,425.3L479.4,424.3Z" fill="none" stroke="#000" stroke-width="2.4" stroke-linejoin="round"/>
<path d="M559.0,450.1 L559.8,452.2 L562.0,452.3 L560.2,453.7 L560.9,455.9 L559.0,454.6 L557.1,455.9 L557.8,453.7 L556.0,452.3 L558.2,452.2 Z" fill="#0000ff"/>
</svg>
</body></html>
